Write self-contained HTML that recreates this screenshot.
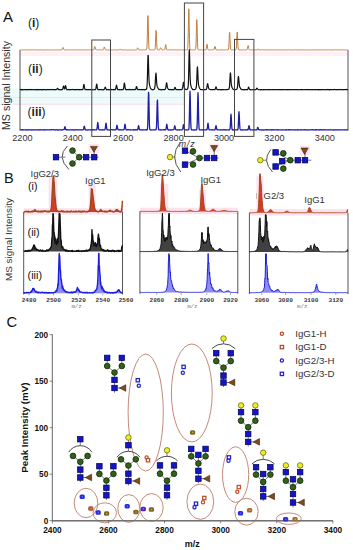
<!DOCTYPE html><html><head><meta charset="utf-8"><style>html,body{margin:0;padding:0;background:#fff;}svg{display:block;}text{font-family:"Liberation Sans",sans-serif;}</style></head><body>
<svg width="353" height="550" viewBox="0 0 353 550">
<rect width="353" height="550" fill="#fff"/>
<rect x="20" y="52" width="328" height="4" fill="#fdf0f6"/>
<rect x="0" y="88" width="185" height="16.5" fill="#eefbfb"/>
<line x1="0" y1="97.6" x2="185" y2="97.6" stroke="#fad8ec" stroke-width="0.8"/>
<line x1="0" y1="104.3" x2="185" y2="104.3" stroke="#fad8ec" stroke-width="0.8"/>
<text x="3" y="21.9" font-size="15" fill="#111" text-anchor="start" font-weight="normal"  >A</text>
<text x="28" y="27.4" font-size="12" fill="#222" text-anchor="start" font-weight="normal"  >(<tspan font-weight="bold">i</tspan>)</text>
<text x="28" y="73" font-size="12" fill="#222" text-anchor="start" font-weight="normal"  >(<tspan font-weight="bold">ii</tspan>)</text>
<text x="27.6" y="115.6" font-size="12" fill="#222" text-anchor="start" font-weight="normal"  >(<tspan font-weight="bold">iii</tspan>)</text>
<text transform="translate(10.4,85.5) rotate(-90)" font-size="10.6" fill="#333" text-anchor="middle">MS signal Intensity</text>
<line x1="20" y1="50" x2="20" y2="130.5" stroke="#555" stroke-width="1"/>
<line x1="348" y1="50" x2="348" y2="130.5" stroke="#555" stroke-width="1"/>
<polyline points="20,49.93 20.25,49.97 20.5,49.94 20.75,50 21,49.97 21.25,49.9 21.5,49.8 21.75,49.98 22,49.92 22.25,49.88 22.5,49.94 22.75,49.97 23,49.89 23.25,49.94 23.5,49.92 23.75,49.95 24,49.99 24.25,49.89 24.5,49.93 24.75,49.89 25,49.89 25.25,49.95 25.5,49.96 25.75,49.95 26,49.97 26.25,49.85 26.5,49.99 26.75,50 27,49.94 27.25,49.86 27.5,49.85 27.75,49.79 28,49.91 28.25,49.86 28.5,49.93 28.75,49.84 29,49.8 29.25,49.99 29.5,49.9 29.75,49.86 30,49.95 30.25,49.99 30.5,49.96 30.75,49.97 31,49.98 31.25,49.96 31.5,49.93 31.75,49.98 32,49.99 32.25,49.88 32.5,49.88 32.75,49.81 33,49.78 33.25,49.73 33.5,49.79 33.75,49.97 34,49.88 34.25,49.8 34.5,49.77 34.75,49.84 35,49.84 35.25,49.99 35.5,49.9 35.75,49.92 36,49.99 36.25,49.87 36.5,49.98 36.75,49.85 37,49.97 37.25,49.93 37.5,49.98 37.75,49.91 38,49.89 38.25,49.99 38.5,49.89 38.75,49.94 39,50 39.25,49.87 39.5,49.98 39.75,49.94 40,49.93 40.25,49.82 40.5,49.89 40.75,49.8 41,49.93 41.25,49.92 41.5,49.98 41.75,49.86 42,49.83 42.25,49.87 42.5,49.95 42.75,49.88 43,49.8 43.25,49.98 43.5,49.94 43.75,49.91 44,49.83 44.25,49.93 44.5,49.97 44.75,49.98 45,49.95 45.25,49.94 45.5,49.95 45.75,49.94 46,49.84 46.25,49.9 46.5,49.96 46.75,49.91 47,49.98 47.25,49.93 47.5,49.91 47.75,49.94 48,49.95 48.25,49.89 48.5,49.91 48.75,49.97 49,49.85 49.25,49.94 49.5,50 49.75,49.88 50,49.96 50.25,49.97 50.5,49.97 50.75,49.98 51,49.96 51.25,49.91 51.5,49.92 51.75,49.83 52,49.95 52.25,49.9 52.5,49.99 52.75,49.98 53,49.99 53.25,49.96 53.5,49.94 53.75,49.91 54,49.91 54.25,49.97 54.5,49.93 54.75,49.92 55,49.97 55.25,49.89 55.5,49.95 55.75,49.96 56,49.97 56.25,49.9 56.5,49.97 56.75,49.94 57,49.88 57.25,49.91 57.5,50 57.75,49.89 58,49.88 58.25,49.88 58.5,49.98 58.75,50 59,49.9 59.25,49.97 59.5,49.93 59.75,50 60,49.89 60.25,49.95 60.5,49.95 60.75,49.87 61,49.93 61.25,49.87 61.5,49.99 61.75,49.87 62,49.82 62.25,49.41 62.5,48.73 62.75,47.84 63,47.38 63.25,47.88 63.5,48.68 63.75,49.38 64,49.84 64.25,49.92 64.5,49.92 64.75,49.93 65,49.94 65.25,49.94 65.5,49.92 65.75,49.95 66,49.83 66.25,49.98 66.5,49.88 66.75,49.79 67,49.89 67.25,49.81 67.5,49.77 67.75,49.94 68,49.89 68.25,49.84 68.5,49.86 68.75,49.91 69,49.99 69.25,49.95 69.5,49.9 69.75,49.82 70,49.91 70.25,49.89 70.5,49.98 70.75,49.88 71,49.96 71.25,49.92 71.5,49.83 71.75,49.79 72,49.76 72.25,49.84 72.5,49.96 72.75,49.95 73,49.94 73.25,49.91 73.5,49.99 73.75,50 74,49.98 74.25,49.89 74.5,49.9 74.75,49.99 75,49.94 75.25,49.94 75.5,49.97 75.75,49.9 76,49.98 76.25,49.93 76.5,49.97 76.75,49.93 77,49.95 77.25,49.95 77.5,49.85 77.75,49.83 78,49.8 78.25,49.98 78.5,49.98 78.75,49.88 79,49.94 79.25,49.9 79.5,49.88 79.75,49.93 80,49.94 80.25,49.96 80.5,49.95 80.75,49.89 81,49.81 81.25,49.78 81.5,49.76 81.75,49.74 82,49.98 82.25,49.92 82.5,49.93 82.75,49.96 83,49.93 83.25,49.9 83.5,49.9 83.75,49.98 84,49.99 84.25,49.97 84.5,49.89 84.75,49.89 85,49.83 85.25,49.91 85.5,49.99 85.75,49.97 86,49.87 86.25,49.83 86.5,49.86 86.75,49.95 87,49.95 87.25,49.99 87.5,49.92 87.75,49.92 88,49.97 88.25,49.98 88.5,49.99 88.75,49.95 89,49.99 89.25,49.94 89.5,49.98 89.75,49.94 90,49.98 90.25,49.96 90.5,49.9 90.75,49.92 91,49.93 91.25,49.93 91.5,49.84 91.75,49.94 92,49.85 92.25,49.83 92.5,49.96 92.75,49.99 93,49.9 93.25,49.97 93.5,49.91 93.75,49.7 94,49.26 94.25,48.37 94.5,47.13 94.75,46.41 95,46.83 95.25,48.03 95.5,48.99 95.75,49.55 96,49.91 96.25,49.84 96.5,49.8 96.75,49.77 97,49.97 97.25,49.89 97.5,49.8 97.75,49.98 98,49.88 98.25,49.98 98.5,49.94 98.75,49.87 99,49.79 99.25,49.85 99.5,49.83 99.75,49.97 100,49.94 100.25,49.96 100.5,49.92 100.75,49.94 101,49.97 101.25,49.86 101.5,49.96 101.75,49.93 102,49.97 102.25,49.92 102.5,49.97 102.75,49.89 103,49.84 103.25,49.82 103.5,49.47 103.75,48.72 104,47.64 104.25,46.97 104.5,47.25 104.75,48.24 105,49.1 105.25,49.67 105.5,49.87 105.75,49.97 106,49.92 106.25,49.95 106.5,49.97 106.75,49.91 107,49.9 107.25,49.93 107.5,49.97 107.75,49.94 108,49.85 108.25,49.99 108.5,49.88 108.75,50 109,49.88 109.25,49.93 109.5,49.97 109.75,49.92 110,49.96 110.25,49.91 110.5,49.86 110.75,49.94 111,49.91 111.25,49.87 111.5,49.98 111.75,49.89 112,49.99 112.25,49.94 112.5,49.99 112.75,49.89 113,49.91 113.25,49.99 113.5,49.91 113.75,49.81 114,49.88 114.25,49.9 114.5,49.85 114.75,49.87 115,49.87 115.25,50 115.5,49.9 115.75,49.92 116,49.96 116.25,49.95 116.5,49.98 116.75,49.89 117,49.85 117.25,49.89 117.5,49.94 117.75,49.9 118,49.84 118.25,49.93 118.5,49.89 118.75,49.8 119,49.83 119.25,49.79 119.5,49.43 119.75,49.15 120,48.94 120.25,49 120.5,49.31 120.75,49.75 121,49.88 121.25,49.88 121.5,49.85 121.75,49.97 122,49.92 122.25,49.84 122.5,49.97 122.75,49.88 123,49.98 123.25,49.99 123.5,49.94 123.75,49.92 124,49.84 124.25,50 124.5,49.94 124.75,49.92 125,49.98 125.25,49.96 125.5,49.88 125.75,49.88 126,49.91 126.25,49.94 126.5,49.88 126.75,49.95 127,49.9 127.25,49.97 127.5,49.97 127.75,49.91 128,49.88 128.25,49.98 128.5,49.88 128.75,49.97 129,49.86 129.25,49.97 129.5,49.9 129.75,49.97 130,49.91 130.25,49.87 130.5,49.98 130.75,49.94 131,49.92 131.25,49.87 131.5,49.99 131.75,49.92 132,49.82 132.25,49.85 132.5,49.9 132.75,49.95 133,49.97 133.25,49.94 133.5,49.97 133.75,49.93 134,49.94 134.25,49.95 134.5,49.99 134.75,49.96 135,49.94 135.25,49.93 135.5,49.91 135.75,49.95 136,49.91 136.25,49.95 136.5,49.89 136.75,49.81 137,49.41 137.25,48.72 137.5,47.97 137.75,47.79 138,48.26 138.25,48.95 138.5,49.45 138.75,49.85 139,49.94 139.25,49.96 139.5,49.91 139.75,49.99 140,49.94 140.25,49.93 140.5,49.94 140.75,49.91 141,49.95 141.25,49.9 141.5,49.99 141.75,49.97 142,49.93 142.25,49.93 142.5,49.97 142.75,49.94 143,49.99 143.25,49.91 143.5,49.95 143.75,49.9 144,49.83 144.25,49.79 144.5,49.95 144.75,49.97 145,49.93 145.25,49.87 145.5,49.9 145.75,49.99 146,49.91 146.25,49.86 146.5,49.76 146.75,49.13 147,46.39 147.25,39.23 147.5,27.51 147.75,16.86 148,15.59 148.25,24.93 148.5,37.27 148.75,45.32 149,48.85 149.25,49.68 149.5,49.78 149.75,49.91 150,49.93 150.25,49.94 150.5,49.93 150.75,49.82 151,49.84 151.25,49.96 151.5,49.88 151.75,49.93 152,49.93 152.25,49.89 152.5,49.92 152.75,49.97 153,49.94 153.25,49.96 153.5,49.97 153.75,49.99 154,49.92 154.25,49.96 154.5,49.83 154.75,49.79 155,49.34 155.25,47.4 155.5,42.79 155.75,35.74 156,30.37 156.25,31.22 156.5,37.2 156.75,43.87 157,47.91 157.25,49.45 157.5,49.8 157.75,49.8 158,49.89 158.25,49.94 158.5,49.98 158.75,49.91 159,49.89 159.25,49.95 159.5,49.85 159.75,49.64 160,49.04 160.25,48.29 160.5,47.7 160.75,47.88 161,48.48 161.25,49.14 161.5,49.56 161.75,49.84 162,49.85 162.25,49.92 162.5,49.94 162.75,49.83 163,49.78 163.25,49.79 163.5,49.78 163.75,49.86 164,49.97 164.25,49.98 164.5,49.88 164.75,49.55 165,48.62 165.25,46.93 165.5,45.13 165.75,44.63 166,45.73 166.25,47.65 166.5,49.02 166.75,49.74 167,49.93 167.25,49.99 167.5,49.98 167.75,49.94 168,49.82 168.25,49.81 168.5,49.97 168.75,49.88 169,49.92 169.25,49.86 169.5,49.84 169.75,49.81 170,49.86 170.25,49.82 170.5,49.76 170.75,49.75 171,49.76 171.25,49.85 171.5,49.79 171.75,49.74 172,49.83 172.25,49.87 172.5,49.98 172.75,49.86 173,49.89 173.25,49.91 173.5,49.81 173.75,49.98 174,49.93 174.25,49.85 174.5,49.9 174.75,49.85 175,49.94 175.25,49.92 175.5,49.85 175.75,49.78 176,49.93 176.25,49.9 176.5,49.98 176.75,50 177,49.88 177.25,49.98 177.5,49.94 177.75,49.9 178,49.97 178.25,49.95 178.5,49.99 178.75,49.88 179,49.98 179.25,49.88 179.5,49.9 179.75,49.92 180,49.82 180.25,49.78 180.5,49.77 180.75,49.73 181,49.72 181.25,49.87 181.5,49.96 181.75,49.94 182,49.9 182.25,49.95 182.5,49.88 182.75,49.81 183,49.77 183.25,49.99 183.5,49.95 183.75,50 184,49.87 184.25,49.96 184.5,49.92 184.75,49.95 185,49.92 185.25,49.92 185.5,49.91 185.75,49.99 186,49.88 186.25,49.98 186.5,49.95 186.75,49.9 187,49.84 187.25,49.85 187.5,49.47 187.75,48.11 188,43.22 188.25,32.33 188.5,17.8 188.75,8.77 189,12.89 189.25,26.5 189.5,39.64 189.75,46.76 190,49.23 190.25,49.88 190.5,49.99 190.75,49.9 191,50 191.25,49.87 191.5,49.91 191.75,49.98 192,49.94 192.25,49.92 192.5,49.88 192.75,49.98 193,49.95 193.25,49.86 193.5,49.81 193.75,49.9 194,49.83 194.25,49.83 194.5,49.95 194.75,50 195,49.87 195.25,49.86 195.5,49.68 195.75,48.59 196,45.01 196.25,36.94 196.5,26.18 196.75,19.64 197,22.65 197.25,32.62 197.5,42.18 197.75,47.55 198,49.46 198.25,49.77 198.5,49.82 198.75,49.97 199,49.94 199.25,49.98 199.5,49.97 199.75,49.94 200,49.94 200.25,49.88 200.5,49.92 200.75,49.96 201,49.89 201.25,49.81 201.5,49.98 201.75,49.88 202,49.79 202.25,49.99 202.5,49.92 202.75,49.94 203,49.92 203.25,49.94 203.5,49.89 203.75,49.97 204,49.95 204.25,49.93 204.5,49.89 204.75,49.83 205,49.94 205.25,49.93 205.5,49.97 205.75,49.84 206,49.62 206.25,48.77 206.5,47.03 206.75,45.13 207,44.2 207.25,45.13 207.5,47.09 207.75,48.74 208,49.57 208.25,49.87 208.5,49.83 208.75,49.92 209,49.98 209.25,49.99 209.5,49.96 209.75,49.95 210,49.95 210.25,49.93 210.5,49.9 210.75,49.99 211,49.99 211.25,49.88 211.5,49.85 211.75,49.81 212,49.99 212.25,49.93 212.5,49.85 212.75,49.78 213,49.83 213.25,49.78 213.5,49.85 213.75,49.9 214,49.63 214.25,49.08 214.5,48.02 214.75,46.92 215,46.34 215.25,47 215.5,48.09 215.75,49.06 216,49.72 216.25,49.79 216.5,49.98 216.75,49.89 217,50 217.25,49.94 217.5,49.97 217.75,49.98 218,49.88 218.25,50 218.5,49.94 218.75,49.94 219,49.92 219.25,49.98 219.5,49.92 219.75,49.99 220,49.88 220.25,49.87 220.5,49.9 220.75,49.82 221,49.8 221.25,49.95 221.5,49.97 221.75,49.85 222,49.78 222.25,49.76 222.5,49.89 222.75,49.97 223,49.93 223.25,49.95 223.5,49.98 223.75,50 224,49.96 224.25,49.93 224.5,49.98 224.75,49.98 225,49.9 225.25,49.86 225.5,49.97 225.75,49.95 226,49.95 226.25,49.89 226.5,49.83 226.75,49.91 227,49.96 227.25,49.88 227.5,49.8 227.75,49.8 228,49.94 228.25,49.86 228.5,49.3 228.75,47.52 229,43.25 229.25,37.21 229.5,32.32 229.75,32.83 230,38.37 230.25,44.41 230.5,47.98 230.75,49.47 231,49.75 231.25,49.83 231.5,49.83 231.75,49.98 232,49.97 232.25,49.91 232.5,49.82 232.75,49.87 233,49.96 233.25,49.98 233.5,49.87 233.75,49.84 234,49.97 234.25,49.91 234.5,49.98 234.75,49.91 235,49.94 235.25,49.87 235.5,49.9 235.75,49.95 236,49.6 236.25,48.4 236.5,45.41 236.75,39.74 237,33.69 237.25,31.95 237.5,35.88 237.75,42.14 238,46.86 238.25,49.06 238.5,49.79 238.75,49.94 239,49.93 239.25,49.87 239.5,49.97 239.75,49.88 240,49.91 240.25,49.97 240.5,49.97 240.75,49.97 241,49.93 241.25,49.97 241.5,49.85 241.75,49.99 242,49.94 242.25,49.97 242.5,49.96 242.75,49.93 243,49.86 243.25,49.8 243.5,49.85 243.75,49.96 244,50 244.25,49.99 244.5,50 244.75,49.94 245,49.98 245.25,49.87 245.5,49.97 245.75,49.97 246,49.98 246.25,49.99 246.5,49.89 246.75,49.78 247,49.7 247.25,49.41 247.5,48.26 247.75,46.8 248,45.58 248.25,45.71 248.5,47.13 248.75,48.57 249,49.46 249.25,49.72 249.5,49.93 249.75,50 250,49.94 250.25,49.86 250.5,49.85 250.75,49.96 251,49.91 251.25,49.87 251.5,49.84 251.75,49.78 252,49.88 252.25,49.99 252.5,49.91 252.75,49.91 253,49.86 253.25,49.95 253.5,49.91 253.75,49.93 254,49.92 254.25,49.89 254.5,49.93 254.75,49.89 255,49.95 255.25,49.84 255.5,49.83 255.75,49.97 256,49.92 256.25,49.94 256.5,49.95 256.75,49.88 257,49.83 257.25,49.69 257.5,49.47 257.75,49.02 258,48.99 258.25,49.06 258.5,49.36 258.75,49.79 259,49.83 259.25,49.93 259.5,49.91 259.75,49.94 260,49.99 260.25,49.89 260.5,49.91 260.75,49.92 261,49.99 261.25,49.89 261.5,49.83 261.75,49.8 262,49.84 262.25,49.98 262.5,49.89 262.75,49.85 263,49.97 263.25,49.84 263.5,49.77 263.75,49.93 264,50 264.25,49.87 264.5,49.93 264.75,49.9 265,49.99 265.25,49.87 265.5,49.88 265.75,50 266,49.92 266.25,49.93 266.5,49.97 266.75,49.97 267,50 267.25,49.99 267.5,49.9 267.75,49.98 268,49.99 268.25,49.87 268.5,49.83 268.75,49.99 269,49.86 269.25,49.82 269.5,49.99 269.75,49.94 270,49.88 270.25,49.8 270.5,49.98 270.75,49.98 271,49.9 271.25,49.95 271.5,49.83 271.75,50 272,49.92 272.25,49.81 272.5,49.84 272.75,49.89 273,49.86 273.25,49.97 273.5,49.99 273.75,49.98 274,49.89 274.25,49.96 274.5,49.93 274.75,49.96 275,49.94 275.25,49.91 275.5,49.91 275.75,49.97 276,49.88 276.25,49.81 276.5,49.78 276.75,49.78 277,49.93 277.25,49.82 277.5,49.96 277.75,49.92 278,49.95 278.25,49.96 278.5,49.98 278.75,49.97 279,49.96 279.25,49.9 279.5,49.95 279.75,49.98 280,49.98 280.25,49.88 280.5,49.79 280.75,49.87 281,49.94 281.25,49.93 281.5,49.92 281.75,49.93 282,49.94 282.25,49.89 282.5,49.94 282.75,49.93 283,49.99 283.25,49.86 283.5,49.95 283.75,49.95 284,49.98 284.25,49.9 284.5,49.96 284.75,49.87 285,49.87 285.25,49.96 285.5,49.97 285.75,49.98 286,49.96 286.25,49.94 286.5,49.99 286.75,49.89 287,49.91 287.25,49.95 287.5,49.89 287.75,49.9 288,49.97 288.25,49.88 288.5,49.81 288.75,49.84 289,49.84 289.25,49.77 289.5,49.87 289.75,49.96 290,49.96 290.25,49.91 290.5,49.86 290.75,49.82 291,49.78 291.25,49.88 291.5,49.88 291.75,49.97 292,49.91 292.25,49.98 292.5,50 292.75,49.89 293,49.99 293.25,49.92 293.5,49.96 293.75,49.95 294,49.92 294.25,49.82 294.5,49.85 294.75,49.77 295,49.96 295.25,49.88 295.5,49.87 295.75,49.89 296,49.94 296.25,49.94 296.5,50 296.75,49.95 297,49.99 297.25,49.89 297.5,49.93 297.75,49.9 298,49.94 298.25,49.95 298.5,49.96 298.75,49.84 299,49.98 299.25,49.85 299.5,49.9 299.75,49.92 300,49.94 300.25,49.87 300.5,49.97 300.75,50 301,49.98 301.25,49.88 301.5,49.99 301.75,49.96 302,49.86 302.25,49.96 302.5,49.84 302.75,49.97 303,49.98 303.25,49.97 303.5,49.9 303.75,49.87 304,49.91 304.25,49.95 304.5,49.96 304.75,49.96 305,49.89 305.25,49.89 305.5,49.92 305.75,49.96 306,49.92 306.25,49.94 306.5,49.94 306.75,49.97 307,49.98 307.25,49.97 307.5,49.94 307.75,49.85 308,49.81 308.25,49.82 308.5,49.97 308.75,49.89 309,49.92 309.25,49.9 309.5,49.85 309.75,49.98 310,49.93 310.25,49.95 310.5,49.85 310.75,49.98 311,49.89 311.25,49.96 311.5,49.94 311.75,49.88 312,49.8 312.25,49.88 312.5,49.89 312.75,49.97 313,49.89 313.25,49.94 313.5,49.94 313.75,49.93 314,49.87 314.25,49.85 314.5,49.84 314.75,49.96 315,49.93 315.25,49.85 315.5,49.83 315.75,49.88 316,49.95 316.25,49.9 316.5,49.99 316.75,49.92 317,50 317.25,49.97 317.5,49.93 317.75,49.97 318,49.99 318.25,50 318.5,49.97 318.75,49.95 319,49.98 319.25,49.89 319.5,49.99 319.75,49.89 320,49.94 320.25,49.94 320.5,49.97 320.75,49.91 321,49.89 321.25,49.99 321.5,49.92 321.75,49.82 322,49.93 322.25,49.82 322.5,49.9 322.75,49.97 323,49.96 323.25,49.98 323.5,49.95 323.75,49.94 324,49.92 324.25,49.96 324.5,49.92 324.75,49.96 325,49.97 325.25,49.88 325.5,49.94 325.75,49.97 326,49.96 326.25,49.88 326.5,49.99 326.75,49.88 327,50 327.25,49.99 327.5,49.95 327.75,49.92 328,49.84 328.25,49.89 328.5,49.8 328.75,49.79 329,49.8 329.25,49.94 329.5,49.9 329.75,49.99 330,49.94 330.25,49.99 330.5,49.99 330.75,49.99 331,49.94 331.25,49.98 331.5,49.97 331.75,49.98 332,49.88 332.25,49.94 332.5,49.92 332.75,49.99 333,49.92 333.25,49.92 333.5,49.87 333.75,49.89 334,49.96 334.25,49.86 334.5,49.79 334.75,49.87 335,49.84 335.25,49.91 335.5,49.85 335.75,49.8 336,49.89 336.25,49.95 336.5,49.87 336.75,49.91 337,49.98 337.25,49.89 337.5,49.87 337.75,49.87 338,49.95 338.25,49.92 338.5,49.92 338.75,49.96 339,49.99 339.25,49.94 339.5,49.91 339.75,49.97 340,50 340.25,50 340.5,49.92 340.75,49.87 341,49.94 341.25,49.88 341.5,49.86 341.75,49.81 342,50 342.25,49.94 342.5,49.89 342.75,49.99 343,49.98 343.25,49.88 343.5,49.98 343.75,49.91 344,49.96 344.25,49.98 344.5,49.95 344.75,49.97 345,49.95 345.25,49.93 345.5,49.89 345.75,49.93 346,49.91 346.25,49.96 346.5,49.89 346.75,50 347,49.99 347.25,49.97 347.5,49.99 347.75,49.87 348,49.83" fill="none" stroke="#c07e3e" stroke-width="1.0" stroke-linejoin="round" />
<polyline points="20,89.75 20.25,89.67 20.5,89.61 20.75,89.51 21,89.53 21.25,89.47 21.5,89.79 21.75,89.79 22,89.63 22.25,89.64 22.5,89.54 22.75,89.8 23,89.79 23.25,89.69 23.5,89.75 23.75,89.8 24,89.61 24.25,89.57 24.5,89.57 24.75,89.77 25,89.68 25.25,89.74 25.5,89.72 25.75,89.7 26,89.79 26.25,89.64 26.5,89.51 26.75,89.77 27,89.67 27.25,89.61 27.5,89.72 27.75,89.6 28,89.77 28.25,89.6 28.5,89.66 28.75,89.65 29,89.77 29.25,89.64 29.5,89.63 29.75,89.51 30,89.47 30.25,89.68 30.5,89.78 30.75,89.68 31,89.58 31.25,89.5 31.5,89.54 31.75,89.68 32,89.53 32.25,89.71 32.5,89.68 32.75,89.65 33,89.76 33.25,89.78 33.5,89.74 33.75,89.75 34,89.75 34.25,89.66 34.5,89.7 34.75,89.67 35,89.78 35.25,89.65 35.5,89.7 35.75,89.75 36,89.78 36.25,89.78 36.5,89.61 36.75,89.51 37,89.5 37.25,89.8 37.5,89.68 37.75,89.77 38,89.61 38.25,89.51 38.5,89.69 38.75,89.79 39,89.78 39.25,89.68 39.5,89.71 39.75,89.75 40,89.65 40.25,89.57 40.5,89.75 40.75,89.65 41,89.73 41.25,89.69 41.5,89.78 41.75,89.64 42,89.77 42.25,89.61 42.5,89.67 42.75,89.8 43,89.73 43.25,89.63 43.5,89.53 43.75,89.5 44,89.69 44.25,89.67 44.5,89.75 44.75,89.59 45,89.73 45.25,89.75 45.5,89.79 45.75,89.69 46,89.77 46.25,89.69 46.5,89.75 46.75,89.8 47,89.62 47.25,89.74 47.5,89.65 47.75,89.71 48,89.72 48.25,89.7 48.5,89.77 48.75,89.6 49,89.63 49.25,89.58 49.5,89.77 49.75,89.76 50,89.63 50.25,89.76 50.5,89.74 50.75,89.75 51,89.63 51.25,89.56 51.5,89.46 51.75,89.62 52,89.7 52.25,89.65 52.5,89.72 52.75,89.77 53,89.74 53.25,89.62 53.5,89.64 53.75,89.7 54,89.55 54.25,89.6 54.5,89.68 54.75,89.79 55,89.64 55.25,89.61 55.5,89.8 55.75,89.65 56,89.76 56.25,89.65 56.5,89.53 56.75,89.36 57,89 57.25,88.48 57.5,88.26 57.75,88.26 58,88.78 58.25,89.26 58.5,89.5 58.75,89.61 59,89.79 59.25,89.62 59.5,89.63 59.75,89.67 60,89.68 60.25,89.75 60.5,89.67 60.75,89.79 61,89.78 61.25,89.69 61.5,89.67 61.75,89.6 62,89.73 62.25,89.63 62.5,89.35 62.75,88.71 63,87.84 63.25,86.62 63.5,86.04 63.75,86.57 64,87.57 64.25,88.46 64.5,88.93 64.75,88.58 65,87.59 65.25,86.26 65.5,85.56 65.75,86.24 66,87.48 66.25,88.62 66.5,89.26 66.75,89.71 67,89.68 67.25,89.7 67.5,89.68 67.75,89.76 68,89.72 68.25,89.65 68.5,89.65 68.75,89.62 69,89.72 69.25,89.61 69.5,89.66 69.75,89.78 70,89.68 70.25,89.8 70.5,89.75 70.75,89.65 71,89.7 71.25,89.63 71.5,89.52 71.75,89.48 72,89.54 72.25,89.52 72.5,89.51 72.75,89.44 73,89.57 73.25,89.61 73.5,89.73 73.75,89.8 74,89.69 74.25,89.7 74.5,89.66 74.75,89.68 75,89.64 75.25,89.67 75.5,89.57 75.75,89.79 76,89.74 76.25,89.58 76.5,89.71 76.75,89.59 77,89.69 77.25,89.67 77.5,89.75 77.75,89.64 78,89.58 78.25,89.7 78.5,89.61 78.75,89.63 79,89.75 79.25,89.69 79.5,89.77 79.75,89.79 80,89.61 80.25,89.5 80.5,89.58 80.75,89.73 81,89.6 81.25,89.72 81.5,89.6 81.75,89.7 82,89.79 82.25,89.64 82.5,89.72 82.75,89.46 83,89.04 83.25,87.89 83.5,86.05 83.75,84.54 84,84.43 84.25,85.8 84.5,87.39 84.75,88.61 85,89.32 85.25,89.71 85.5,89.58 85.75,89.67 86,89.76 86.25,89.75 86.5,89.64 86.75,89.7 87,89.77 87.25,89.77 87.5,89.63 87.75,89.75 88,89.75 88.25,89.69 88.5,89.76 88.75,89.64 89,89.7 89.25,89.75 89.5,89.68 89.75,89.7 90,89.63 90.25,89.8 90.5,89.71 90.75,89.61 91,89.72 91.25,89.77 91.5,89.78 91.75,89.8 92,89.74 92.25,89.72 92.5,89.66 92.75,89.73 93,89.74 93.25,89.76 93.5,89.79 93.75,89.73 94,89.68 94.25,89.74 94.5,89.75 94.75,89.71 95,89.75 95.25,89.7 95.5,89.49 95.75,89.01 96,88 96.25,86.31 96.5,84.52 96.75,84.09 97,85.21 97.25,87.1 97.5,88.65 97.75,89.4 98,89.61 98.25,89.67 98.5,89.74 98.75,89.6 99,89.73 99.25,89.8 99.5,89.66 99.75,89.76 100,89.7 100.25,89.73 100.5,89.67 100.75,89.74 101,89.69 101.25,89.76 101.5,89.74 101.75,89.72 102,89.59 102.25,89.78 102.5,89.78 102.75,89.79 103,89.8 103.25,89.73 103.5,89.62 103.75,89.71 104,89.64 104.25,89.4 104.5,88.84 104.75,88.2 105,87.32 105.25,87.07 105.5,87.61 105.75,88.54 106,89.06 106.25,89.31 106.5,89.49 106.75,89.78 107,89.67 107.25,89.76 107.5,89.76 107.75,89.6 108,89.59 108.25,89.78 108.5,89.7 108.75,89.69 109,89.73 109.25,89.8 109.5,89.77 109.75,89.64 110,89.76 110.25,89.59 110.5,89.52 110.75,89.58 111,89.5 111.25,89.44 111.5,89.62 111.75,89.79 112,89.66 112.25,89.74 112.5,89.74 112.75,89.69 113,89.77 113.25,89.78 113.5,89.64 113.75,89.75 114,89.65 114.25,89.79 114.5,89.65 114.75,89.76 115,89.76 115.25,89.55 115.5,89.3 115.75,88.54 116,87.29 116.25,85.85 116.5,85.11 116.75,85.81 117,87.29 117.25,88.53 117.5,89.23 117.75,89.54 118,89.78 118.25,89.67 118.5,89.79 118.75,89.73 119,89.67 119.25,89.79 119.5,89.63 119.75,89.55 120,89.69 120.25,89.63 120.5,89.75 120.75,89.78 121,89.74 121.25,89.72 121.5,89.66 121.75,89.79 122,89.63 122.25,89.56 122.5,89.76 122.75,89.7 123,89.69 123.25,89.35 123.5,88.79 123.75,87.26 124,84.96 124.25,83.25 124.5,83.03 124.75,84.66 125,86.83 125.25,88.5 125.5,89.41 125.75,89.64 126,89.69 126.25,89.6 126.5,89.79 126.75,89.73 127,89.64 127.25,89.73 127.5,89.62 127.75,89.68 128,89.69 128.25,89.71 128.5,89.65 128.75,89.75 129,89.67 129.25,89.53 129.5,89.52 129.75,89.45 130,89.74 130.25,89.76 130.5,89.72 130.75,89.65 131,89.7 131.25,89.71 131.5,89.7 131.75,89.77 132,89.79 132.25,89.64 132.5,89.57 132.75,89.52 133,89.58 133.25,89.63 133.5,89.75 133.75,89.69 134,89.64 134.25,89.61 134.5,89.55 134.75,89.56 135,89.54 135.25,89.58 135.5,89.26 135.75,89.03 136,88.08 136.25,87 136.5,86.54 136.75,86.98 137,88.04 137.25,88.8 137.5,89.52 137.75,89.68 138,89.74 138.25,89.76 138.5,89.68 138.75,89.74 139,89.64 139.25,89.51 139.5,89.52 139.75,89.46 140,89.56 140.25,89.76 140.5,89.77 140.75,89.71 141,89.73 141.25,89.67 141.5,89.78 141.75,89.7 142,89.72 142.25,89.65 142.5,89.78 142.75,89.64 143,89.64 143.25,89.73 143.5,89.57 143.75,89.74 144,89.59 144.25,89.78 144.5,89.75 144.75,89.58 145,89.67 145.25,89.62 145.5,89.63 145.75,89.63 146,89.34 146.25,89.02 146.5,88.93 146.75,88.21 147,86.3 147.25,82.17 147.5,74.01 147.75,63.23 148,55.43 148.25,55.61 148.5,63.41 148.75,73.03 149,79.76 149.25,83.06 149.5,84.59 149.75,85.93 150,86.67 150.25,87.49 150.5,88.14 150.75,88.7 151,88.93 151.25,89.2 151.5,89.29 151.75,89.53 152,89.65 152.25,89.68 152.5,89.58 152.75,89.77 153,89.57 153.25,89.63 153.5,89.61 153.75,89.57 154,89.37 154.25,89.18 154.5,88.7 154.75,87.78 155,86.2 155.25,82.89 155.5,78.04 155.75,74.12 156,73.2 156.25,76.05 156.5,80.2 156.75,83.76 157,85.6 157.25,86.67 157.5,87.19 157.75,87.65 158,88.15 158.25,88.51 158.5,88.93 158.75,89.29 159,89.39 159.25,89.39 159.5,89.64 159.75,89.53 160,89.52 160.25,89.55 160.5,89.6 160.75,89.52 161,89.6 161.25,89.61 161.5,89.78 161.75,89.79 162,89.63 162.25,89.64 162.5,89.6 162.75,89.65 163,89.73 163.25,89.63 163.5,89.63 163.75,89.51 164,89.52 164.25,89.52 164.5,89.67 164.75,89.5 165,89.5 165.25,89.23 165.5,88.71 165.75,87.82 166,86.28 166.25,84.43 166.5,82.91 166.75,82.86 167,84.55 167.25,86.44 167.5,87.61 167.75,88.25 168,88.61 168.25,88.94 168.5,89.37 168.75,89.35 169,89.48 169.25,89.69 169.5,89.71 169.75,89.7 170,89.67 170.25,89.53 170.5,89.67 170.75,89.74 171,89.68 171.25,89.71 171.5,89.76 171.75,89.64 172,89.79 172.25,89.77 172.5,89.64 172.75,89.59 173,89.78 173.25,89.71 173.5,89.68 173.75,89.7 174,89.6 174.25,89.21 174.5,88.46 174.75,87.6 175,87.35 175.25,87.55 175.5,88.35 175.75,89.19 176,89.5 176.25,89.72 176.5,89.63 176.75,89.7 177,89.67 177.25,89.75 177.5,89.76 177.75,89.67 178,89.76 178.25,89.71 178.5,89.66 178.75,89.59 179,89.7 179.25,89.68 179.5,89.77 179.75,89.71 180,89.69 180.25,89.63 180.5,89.7 180.75,89.59 181,89.52 181.25,89.54 181.5,89.61 181.75,89.52 182,89.4 182.25,89.18 182.5,88.49 182.75,87.21 183,85.18 183.25,83.28 183.5,82.26 183.75,83.1 184,85.01 184.25,86.93 184.5,88.06 184.75,88.54 185,88.89 185.25,89.06 185.5,89.36 185.75,89.42 186,89.57 186.25,89.69 186.5,89.57 186.75,89.56 187,89.46 187.25,89.19 187.5,88.99 187.75,88.63 188,87.79 188.25,85.55 188.5,79.89 188.75,69.57 189,57.25 189.25,49.67 189.5,52.21 189.75,62.4 190,73.24 190.25,80.12 190.5,83.56 190.75,85.07 191,86.01 191.25,86.89 191.5,87.68 191.75,88.15 192,88.55 192.25,88.96 192.5,89.33 192.75,89.55 193,89.58 193.25,89.73 193.5,89.6 193.75,89.77 194,89.69 194.25,89.66 194.5,89.73 194.75,89.63 195,89.41 195.25,89.23 195.5,89.08 195.75,88.75 196,88.26 196.25,87.26 196.5,85.07 196.75,80.38 197,73.6 197.25,68.1 197.5,66.88 197.75,71.05 198,77.18 198.25,81.76 198.5,84.41 198.75,85.67 199,86.66 199.25,87.32 199.5,87.83 199.75,88.4 200,88.93 200.25,89.17 200.5,89.49 200.75,89.6 201,89.6 201.25,89.74 201.5,89.62 201.75,89.77 202,89.71 202.25,89.65 202.5,89.76 202.75,89.66 203,89.75 203.25,89.78 203.5,89.68 203.75,89.76 204,89.6 204.25,89.71 204.5,89.72 204.75,89.59 205,89.57 205.25,89.66 205.5,89.69 205.75,89.62 206,89.37 206.25,89.34 206.5,88.93 206.75,88.25 207,86.72 207.25,85.17 207.5,83.73 207.75,83.69 208,85.07 208.25,86.73 208.5,87.77 208.75,88.36 209,88.85 209.25,89.19 209.5,89.3 209.75,89.39 210,89.54 210.25,89.64 210.5,89.65 210.75,89.53 211,89.72 211.25,89.61 211.5,89.63 211.75,89.53 212,89.75 212.25,89.69 212.5,89.6 212.75,89.69 213,89.71 213.25,89.62 213.5,89.56 213.75,89.49 214,89.48 214.25,89.65 214.5,89.54 214.75,89.7 215,89.51 215.25,88.98 215.5,88.18 215.75,87.35 216,86.9 216.25,87.21 216.5,88.13 216.75,88.8 217,89.53 217.25,89.62 217.5,89.54 217.75,89.53 218,89.59 218.25,89.66 218.5,89.79 218.75,89.71 219,89.69 219.25,89.69 219.5,89.75 219.75,89.72 220,89.6 220.25,89.72 220.5,89.7 220.75,89.79 221,89.79 221.25,89.61 221.5,89.51 221.75,89.8 222,89.69 222.25,89.65 222.5,89.79 222.75,89.65 223,89.7 223.25,89.68 223.5,89.77 223.75,89.62 224,89.74 224.25,89.75 224.5,89.77 224.75,89.74 225,89.65 225.25,89.68 225.5,89.79 225.75,89.73 226,89.7 226.25,89.73 226.5,89.66 226.75,89.68 227,89.62 227.25,89.75 227.5,89.57 227.75,89.53 228,89.39 228.25,89.4 228.5,89.34 228.75,89.12 229,88.79 229.25,87.82 229.5,86.13 229.75,82.63 230,77.78 230.25,73.51 230.5,72.87 230.75,75.81 231,80.04 231.25,83.5 231.5,85.52 231.75,86.54 232,87.27 232.25,87.69 232.5,88.16 232.75,88.79 233,89.15 233.25,89.38 233.5,89.38 233.75,89.47 234,89.66 234.25,89.65 234.5,89.71 234.75,89.65 235,89.67 235.25,89.75 235.5,89.77 235.75,89.71 236,89.51 236.25,89.44 236.5,89.32 236.75,89.18 237,88.69 237.25,88.23 237.5,86.8 237.75,84.07 238,80.23 238.25,76.93 238.5,76.45 238.75,78.52 239,81.85 239.25,84.44 239.5,86.22 239.75,86.95 240,87.6 240.25,87.93 240.5,88.25 240.75,88.86 241,89.21 241.25,89.36 241.5,89.53 241.75,89.56 242,89.73 242.25,89.61 242.5,89.56 242.75,89.64 243,89.54 243.25,89.59 243.5,89.76 243.75,89.62 244,89.78 244.25,89.6 244.5,89.79 244.75,89.61 245,89.65 245.25,89.75 245.5,89.66 245.75,89.71 246,89.57 246.25,89.75 246.5,89.64 246.75,89.68 247,89.63 247.25,89.77 247.5,89.62 247.75,89.28 248,88.64 248.25,87.83 248.5,87.1 248.75,87.16 249,87.99 249.25,88.69 249.5,89.39 249.75,89.62 250,89.68 250.25,89.73 250.5,89.79 250.75,89.62 251,89.8 251.25,89.77 251.5,89.72 251.75,89.77 252,89.72 252.25,89.7 252.5,89.73 252.75,89.76 253,89.63 253.25,89.79 253.5,89.77 253.75,89.78 254,89.77 254.25,89.66 254.5,89.71 254.75,89.74 255,89.58 255.25,89.62 255.5,89.63 255.75,89.47 256,89.41 256.25,89.23 256.5,88.89 256.75,88.28 257,88.17 257.25,88.4 257.5,88.83 257.75,89.16 258,89.34 258.25,89.38 258.5,89.64 258.75,89.76 259,89.65 259.25,89.72 259.5,89.73 259.75,89.75 260,89.76 260.25,89.78 260.5,89.64 260.75,89.79 261,89.77 261.25,89.65 261.5,89.74 261.75,89.71 262,89.74 262.25,89.79 262.5,89.68 262.75,89.71 263,89.57 263.25,89.5 263.5,89.55 263.75,89.51 264,89.79 264.25,89.71 264.5,89.66 264.75,89.77 265,89.69 265.25,89.77 265.5,89.68 265.75,89.68 266,89.77 266.25,89.73 266.5,89.74 266.75,89.67 267,89.73 267.25,89.78 267.5,89.63 267.75,89.77 268,89.64 268.25,89.52 268.5,89.73 268.75,89.78 269,89.59 269.25,89.49 269.5,89.75 269.75,89.77 270,89.67 270.25,89.69 270.5,89.77 270.75,89.63 271,89.79 271.25,89.76 271.5,89.73 271.75,89.73 272,89.66 272.25,89.73 272.5,89.58 272.75,89.74 273,89.6 273.25,89.51 273.5,89.61 273.75,89.75 274,89.68 274.25,89.64 274.5,89.73 274.75,89.79 275,89.66 275.25,89.74 275.5,89.74 275.75,89.74 276,89.68 276.25,89.53 276.5,89.74 276.75,89.77 277,89.66 277.25,89.73 277.5,89.71 277.75,89.63 278,89.6 278.25,89.74 278.5,89.72 278.75,89.59 279,89.61 279.25,89.52 279.5,89.6 279.75,89.73 280,89.78 280.25,89.68 280.5,89.58 280.75,89.67 281,89.79 281.25,89.78 281.5,89.79 281.75,89.63 282,89.76 282.25,89.68 282.5,89.73 282.75,89.77 283,89.66 283.25,89.69 283.5,89.67 283.75,89.75 284,89.66 284.25,89.58 284.5,89.75 284.75,89.67 285,89.63 285.25,89.64 285.5,89.74 285.75,89.74 286,89.78 286.25,89.73 286.5,89.58 286.75,89.78 287,89.7 287.25,89.79 287.5,89.64 287.75,89.75 288,89.69 288.25,89.7 288.5,89.68 288.75,89.68 289,89.78 289.25,89.73 289.5,89.67 289.75,89.78 290,89.75 290.25,89.7 290.5,89.58 290.75,89.49 291,89.7 291.25,89.71 291.5,89.71 291.75,89.68 292,89.65 292.25,89.58 292.5,89.75 292.75,89.66 293,89.56 293.25,89.65 293.5,89.73 293.75,89.73 294,89.65 294.25,89.52 294.5,89.66 294.75,89.63 295,89.54 295.25,89.65 295.5,89.72 295.75,89.57 296,89.68 296.25,89.72 296.5,89.74 296.75,89.68 297,89.74 297.25,89.6 297.5,89.73 297.75,89.74 298,89.79 298.25,89.72 298.5,89.77 298.75,89.63 299,89.73 299.25,89.73 299.5,89.76 299.75,89.66 300,89.76 300.25,89.72 300.5,89.59 300.75,89.74 301,89.64 301.25,89.69 301.5,89.72 301.75,89.57 302,89.76 302.25,89.79 302.5,89.78 302.75,89.64 303,89.68 303.25,89.73 303.5,89.76 303.75,89.73 304,89.75 304.25,89.76 304.5,89.72 304.75,89.71 305,89.71 305.25,89.63 305.5,89.77 305.75,89.72 306,89.69 306.25,89.67 306.5,89.73 306.75,89.63 307,89.53 307.25,89.62 307.5,89.74 307.75,89.69 308,89.73 308.25,89.76 308.5,89.66 308.75,89.75 309,89.67 309.25,89.67 309.5,89.54 309.75,89.73 310,89.61 310.25,89.79 310.5,89.73 310.75,89.79 311,89.75 311.25,89.77 311.5,89.63 311.75,89.53 312,89.73 312.25,89.78 312.5,89.66 312.75,89.74 313,89.73 313.25,89.72 313.5,89.66 313.75,89.74 314,89.78 314.25,89.68 314.5,89.64 314.75,89.7 315,89.68 315.25,89.79 315.5,89.66 315.75,89.65 316,89.74 316.25,89.63 316.5,89.63 316.75,89.76 317,89.68 317.25,89.73 317.5,89.67 317.75,89.68 318,89.61 318.25,89.78 318.5,89.79 318.75,89.59 319,89.79 319.25,89.7 319.5,89.6 319.75,89.74 320,89.78 320.25,89.78 320.5,89.63 320.75,89.58 321,89.74 321.25,89.62 321.5,89.8 321.75,89.67 322,89.66 322.25,89.76 322.5,89.72 322.75,89.74 323,89.67 323.25,89.53 323.5,89.7 323.75,89.77 324,89.72 324.25,89.75 324.5,89.8 324.75,89.72 325,89.75 325.25,89.78 325.5,89.77 325.75,89.68 326,89.75 326.25,89.7 326.5,89.69 326.75,89.64 327,89.76 327.25,89.68 327.5,89.55 327.75,89.46 328,89.7 328.25,89.58 328.5,89.65 328.75,89.69 329,89.75 329.25,89.78 329.5,89.78 329.75,89.62 330,89.79 330.25,89.69 330.5,89.68 330.75,89.6 331,89.63 331.25,89.61 331.5,89.55 331.75,89.6 332,89.73 332.25,89.69 332.5,89.54 332.75,89.76 333,89.65 333.25,89.65 333.5,89.55 333.75,89.6 334,89.51 334.25,89.52 334.5,89.43 334.75,89.55 335,89.57 335.25,89.75 335.5,89.73 335.75,89.62 336,89.72 336.25,89.6 336.5,89.6 336.75,89.79 337,89.76 337.25,89.76 337.5,89.74 337.75,89.57 338,89.65 338.25,89.78 338.5,89.71 338.75,89.6 339,89.61 339.25,89.58 339.5,89.52 339.75,89.47 340,89.48 340.25,89.64 340.5,89.64 340.75,89.64 341,89.55 341.25,89.57 341.5,89.68 341.75,89.75 342,89.7 342.25,89.64 342.5,89.78 342.75,89.71 343,89.73 343.25,89.77 343.5,89.68 343.75,89.78 344,89.65 344.25,89.75 344.5,89.72 344.75,89.61 345,89.6 345.25,89.48 345.5,89.47 345.75,89.57 346,89.5 346.25,89.43 346.5,89.6 346.75,89.74 347,89.63 347.25,89.77 347.5,89.61 347.75,89.75 348,89.63" fill="none" stroke="#111" stroke-width="1.2" stroke-linejoin="round" />
<polyline points="20,129.93 20.25,129.82 20.5,129.95 20.75,129.8 21,129.89 21.25,129.88 21.5,129.75 21.75,129.85 22,129.73 22.25,129.81 22.5,129.71 22.75,129.66 23,129.77 23.25,129.99 23.5,129.84 23.75,129.8 24,129.93 24.25,129.86 24.5,129.89 24.75,129.97 25,129.79 25.25,129.94 25.5,129.89 25.75,129.98 26,129.85 26.25,129.75 26.5,129.78 26.75,129.99 27,129.87 27.25,129.95 27.5,129.97 27.75,129.97 28,130 28.25,129.82 28.5,129.72 28.75,129.71 29,129.9 29.25,129.91 29.5,129.87 29.75,129.96 30,129.96 30.25,129.89 30.5,129.95 30.75,129.89 31,129.96 31.25,129.99 31.5,129.98 31.75,129.84 32,129.81 32.25,129.97 32.5,129.79 32.75,129.97 33,129.95 33.25,129.93 33.5,129.9 33.75,129.94 34,129.78 34.25,129.93 34.5,129.93 34.75,129.93 35,129.81 35.25,129.96 35.5,129.9 35.75,129.9 36,129.91 36.25,129.96 36.5,129.84 36.75,129.73 37,129.85 37.25,129.84 37.5,129.92 37.75,129.97 38,129.92 38.25,129.76 38.5,129.72 38.75,129.92 39,130 39.25,129.93 39.5,129.85 39.75,129.89 40,129.8 40.25,129.73 40.5,129.66 40.75,129.9 41,129.79 41.25,129.78 41.5,129.82 41.75,129.96 42,129.86 42.25,129.89 42.5,129.96 42.75,129.87 43,129.8 43.25,129.73 43.5,129.93 43.75,129.99 44,129.95 44.25,129.88 44.5,129.74 44.75,129.99 45,129.88 45.25,129.82 45.5,129.79 45.75,129.87 46,129.95 46.25,129.88 46.5,129.73 46.75,129.8 47,129.83 47.25,129.92 47.5,129.86 47.75,129.84 48,129.9 48.25,129.89 48.5,129.86 48.75,129.9 49,129.9 49.25,129.83 49.5,129.75 49.75,129.73 50,129.88 50.25,129.97 50.5,129.86 50.75,129.97 51,129.81 51.25,129.71 51.5,129.71 51.75,129.69 52,129.75 52.25,129.67 52.5,129.6 52.75,129.62 53,129.61 53.25,129.71 53.5,129.64 53.75,129.93 54,129.99 54.25,129.86 54.5,129.82 54.75,129.83 55,129.84 55.25,129.76 55.5,129.99 55.75,129.81 56,129.9 56.25,129.95 56.5,129.87 56.75,129.76 57,129.79 57.25,129.78 57.5,130 57.75,129.87 58,129.73 58.25,129.98 58.5,129.98 58.75,129.87 59,129.94 59.25,129.77 59.5,129.88 59.75,129.88 60,129.78 60.25,129.79 60.5,129.97 60.75,129.96 61,129.85 61.25,129.98 61.5,129.98 61.75,129.87 62,129.99 62.25,129.89 62.5,129.94 62.75,129.77 63,129.72 63.25,129.71 63.5,129.69 63.75,129.65 64,129.63 64.25,129.02 64.5,128 64.75,126.88 65,126.67 65.25,127.53 65.5,128.62 65.75,129.52 66,129.77 66.25,129.92 66.5,129.79 66.75,129.68 67,129.63 67.25,129.83 67.5,129.99 67.75,129.89 68,129.81 68.25,129.77 68.5,129.91 68.75,129.89 69,129.8 69.25,129.89 69.5,129.87 69.75,129.8 70,129.95 70.25,129.96 70.5,129.81 70.75,129.78 71,129.77 71.25,129.87 71.5,129.95 71.75,129.91 72,129.98 72.25,129.89 72.5,129.74 72.75,129.89 73,129.97 73.25,129.8 73.5,129.79 73.75,129.99 74,129.85 74.25,129.77 74.5,129.98 74.75,129.86 75,129.94 75.25,129.91 75.5,129.75 75.75,129.79 76,129.93 76.25,129.94 76.5,129.89 76.75,129.74 77,129.97 77.25,129.92 77.5,129.94 77.75,129.79 78,129.9 78.25,129.79 78.5,129.74 78.75,129.96 79,129.92 79.25,129.87 79.5,129.82 79.75,129.93 80,129.86 80.25,129.88 80.5,129.78 80.75,129.97 81,129.96 81.25,129.96 81.5,129.99 81.75,129.83 82,129.93 82.25,129.79 82.5,129.87 82.75,129.91 83,129.91 83.25,129.68 83.5,129.28 83.75,128.23 84,126.82 84.25,126.26 84.5,126.52 84.75,127.8 85,129.06 85.25,129.68 85.5,129.89 85.75,129.97 86,129.99 86.25,129.88 86.5,129.91 86.75,129.97 87,129.88 87.25,129.84 87.5,129.99 87.75,129.99 88,129.97 88.25,129.88 88.5,129.76 88.75,129.88 89,129.88 89.25,129.93 89.5,129.95 89.75,129.89 90,129.96 90.25,129.96 90.5,129.98 90.75,129.81 91,129.81 91.25,129.73 91.5,129.66 91.75,129.89 92,129.91 92.25,129.77 92.5,129.73 92.75,129.98 93,129.86 93.25,129.89 93.5,129.76 93.75,129.76 94,129.68 94.25,129.88 94.5,129.96 94.75,129.82 95,129.97 95.25,129.93 95.5,129.89 95.75,129.92 96,129.89 96.25,129.74 96.5,129.9 96.75,129.48 97,128.73 97.25,126.86 97.5,124.12 97.75,122.49 98,123.46 98.25,125.88 98.5,128.18 98.75,129.37 99,129.72 99.25,129.81 99.5,129.99 99.75,129.8 100,129.9 100.25,129.92 100.5,129.76 100.75,129.79 101,129.92 101.25,129.96 101.5,129.8 101.75,129.93 102,129.84 102.25,129.72 102.5,129.99 102.75,129.91 103,129.76 103.25,129.97 103.5,129.89 103.75,129.79 104,129.84 104.25,129.93 104.5,129.82 104.75,129.92 105,129.47 105.25,128.55 105.5,126.62 105.75,124.26 106,123.21 106.25,124.16 106.5,126.64 106.75,128.57 107,129.39 107.25,129.87 107.5,129.91 107.75,129.83 108,129.94 108.25,129.9 108.5,129.89 108.75,129.92 109,129.97 109.25,129.95 109.5,129.99 109.75,129.83 110,129.99 110.25,129.86 110.5,129.92 110.75,129.85 111,129.75 111.25,129.72 111.5,129.65 111.75,129.67 112,129.73 112.25,129.76 112.5,129.96 112.75,129.89 113,129.93 113.25,129.83 113.5,129.84 113.75,129.71 114,129.73 114.25,129.64 114.5,129.88 114.75,129.95 115,129.84 115.25,129.9 115.5,129.88 115.75,129.85 116,129.65 116.25,129.03 116.5,127.68 116.75,125.92 117,125.26 117.25,126.04 117.5,127.59 117.75,128.8 118,129.64 118.25,129.76 118.5,129.8 118.75,129.83 119,129.94 119.25,129.98 119.5,129.81 119.75,129.74 120,129.67 120.25,129.9 120.5,129.84 120.75,129.77 121,129.7 121.25,129.95 121.5,129.88 121.75,129.86 122,130 122.25,129.9 122.5,129.85 122.75,129.9 123,129.8 123.25,129.86 123.5,129.81 123.75,129.85 124,129.43 124.25,128.68 124.5,127.19 124.75,125.04 125,124.27 125.25,125.19 125.5,126.97 125.75,128.66 126,129.55 126.25,129.86 126.5,129.83 126.75,129.9 127,129.74 127.25,129.75 127.5,129.69 127.75,129.77 128,129.68 128.25,129.62 128.5,129.69 128.75,129.71 129,129.86 129.25,129.93 129.5,129.94 129.75,129.9 130,129.86 130.25,129.76 130.5,129.9 130.75,129.99 131,129.81 131.25,129.97 131.5,129.93 131.75,129.9 132,129.88 132.25,129.94 132.5,129.81 132.75,129.83 133,129.81 133.25,129.76 133.5,130 133.75,129.99 134,129.99 134.25,129.86 134.5,129.8 134.75,129.75 135,129.81 135.25,129.73 135.5,129.77 135.75,129.78 136,129.98 136.25,129.83 136.5,129.75 136.75,129.79 137,129.72 137.25,129.94 137.5,129.86 137.75,129.39 138,128.37 138.25,126.84 138.5,125.75 138.75,125.81 139,127.24 139.25,128.59 139.5,129.5 139.75,129.84 140,129.89 140.25,129.88 140.5,129.97 140.75,129.92 141,129.78 141.25,129.77 141.5,129.96 141.75,129.86 142,129.99 142.25,129.8 142.5,129.88 142.75,129.98 143,130 143.25,129.92 143.5,129.85 143.75,129.86 144,129.86 144.25,129.92 144.5,129.81 144.75,129.79 145,129.97 145.25,129.9 145.5,129.97 145.75,129.79 146,129.7 146.25,129.73 146.5,129.9 146.75,129.98 147,129.89 147.25,129.74 147.5,128.73 147.75,124.98 148,116.02 148.25,102.48 148.5,92.33 148.75,93.6 149,105.27 149.25,118.06 149.5,126.07 149.75,129.05 150,129.75 150.25,129.73 150.5,129.87 150.75,129.99 151,129.88 151.25,129.9 151.5,129.95 151.75,130 152,129.86 152.25,129.92 152.5,129.86 152.75,129.93 153,129.91 153.25,129.94 153.5,129.81 153.75,129.81 154,129.99 154.25,129.84 154.5,129.91 154.75,129.87 155,129.72 155.25,129.83 155.5,129.88 155.75,129.83 156,129.65 156.25,129.07 156.5,126.71 156.75,120.71 157,110.31 157.25,101.18 157.5,100.03 157.75,108.23 158,118.81 158.25,125.88 158.5,128.75 158.75,129.75 159,129.97 159.25,129.95 159.5,129.83 159.75,129.86 160,129.97 160.25,129.99 160.5,129.9 160.75,129.76 161,129.7 161.25,129.95 161.5,129.89 161.75,129.89 162,129.96 162.25,129.88 162.5,129.93 162.75,129.84 163,129.85 163.25,129.91 163.5,129.79 163.75,129.75 164,129.8 164.25,129.71 164.5,129.65 164.75,129.77 165,129.77 165.25,129.95 165.5,129.89 165.75,129.73 166,128.96 166.25,127.46 166.5,125.57 166.75,124.15 167,124.85 167.25,126.68 167.5,128.5 167.75,129.45 168,129.76 168.25,129.98 168.5,129.8 168.75,129.98 169,129.92 169.25,129.97 169.5,130 169.75,129.96 170,129.84 170.25,129.77 170.5,129.75 170.75,129.99 171,130 171.25,129.89 171.5,129.9 171.75,129.74 172,129.87 172.25,129.94 172.5,129.84 172.75,129.74 173,129.78 173.25,129.7 173.5,129.68 173.75,129.55 174,129.18 174.25,128.14 174.5,126.6 174.75,125.78 175,126.25 175.25,127.63 175.5,128.91 175.75,129.58 176,129.7 176.25,129.76 176.5,129.95 176.75,129.88 177,129.93 177.25,129.99 177.5,129.85 177.75,129.98 178,129.89 178.25,129.84 178.5,129.86 178.75,129.9 179,129.88 179.25,129.79 179.5,129.72 179.75,129.97 180,129.8 180.25,129.96 180.5,129.86 180.75,129.93 181,129.92 181.25,129.85 181.5,129.86 181.75,129.91 182,129.81 182.25,129.69 182.5,129.35 182.75,128.84 183,127.35 183.25,125.45 183.5,124.69 183.75,125.64 184,127.26 184.25,128.75 184.5,129.52 184.75,129.73 185,129.88 185.25,129.91 185.5,129.87 185.75,129.97 186,129.91 186.25,129.88 186.5,129.87 186.75,130 187,129.85 187.25,129.81 187.5,129.94 187.75,129.96 188,129.87 188.25,129.74 188.5,129.79 188.75,129.49 189,127.65 189.25,121.99 189.5,110.89 189.75,97.36 190,91.08 190.25,97.44 190.5,110.85 190.75,122.03 191,127.5 191.25,129.41 191.5,129.9 191.75,129.87 192,129.89 192.25,129.85 192.5,129.99 192.75,129.82 193,129.89 193.25,130 193.5,129.97 193.75,129.88 194,130 194.25,129.83 194.5,129.99 194.75,129.81 195,129.82 195.25,129.86 195.5,129.99 195.75,129.87 196,129.96 196.25,129.87 196.5,129.86 196.75,129.48 197,127.67 197.25,122.44 197.5,111.55 197.75,98.81 198,92.67 198.25,98.81 198.5,111.62 198.75,122.31 199,127.73 199.25,129.48 199.5,129.78 199.75,129.87 200,129.99 200.25,129.83 200.5,129.96 200.75,129.94 201,129.85 201.25,129.9 201.5,129.92 201.75,129.77 202,129.69 202.25,129.77 202.5,129.98 202.75,129.83 203,129.81 203.25,129.69 203.5,129.64 203.75,129.85 204,129.96 204.25,129.85 204.5,129.81 204.75,129.93 205,129.98 205.25,129.96 205.5,129.93 205.75,129.89 206,129.8 206.25,129.68 206.5,129.71 206.75,129.69 207,129.56 207.25,128.52 207.5,126.59 207.75,124.34 208,123.21 208.25,124.31 208.5,126.53 208.75,128.56 209,129.47 209.25,129.83 209.5,129.88 209.75,129.89 210,129.94 210.25,129.91 210.5,129.9 210.75,129.87 211,129.89 211.25,129.94 211.5,129.86 211.75,129.9 212,129.75 212.25,129.68 212.5,129.97 212.75,129.89 213,129.97 213.25,129.82 213.5,129.96 213.75,129.93 214,129.86 214.25,129.87 214.5,129.98 214.75,129.87 215,129.73 215.25,129.04 215.5,127.67 215.75,126.43 216,125.67 216.25,126.35 216.5,127.67 216.75,129.11 217,129.63 217.25,129.86 217.5,129.86 217.75,129.74 218,129.89 218.25,129.97 218.5,129.95 218.75,129.97 219,129.85 219.25,129.96 219.5,129.9 219.75,129.84 220,129.78 220.25,129.76 220.5,129.81 220.75,129.96 221,129.95 221.25,129.92 221.5,129.94 221.75,129.87 222,129.8 222.25,129.98 222.5,129.89 222.75,129.76 223,129.67 223.25,129.82 223.5,129.82 223.75,129.91 224,129.79 224.25,129.68 224.5,129.9 224.75,129.89 225,129.77 225.25,129.86 225.5,130 225.75,129.98 226,129.88 226.25,129.9 226.5,129.99 226.75,129.94 227,129.86 227.25,129.78 227.5,129.8 227.75,129.97 228,129.88 228.25,129.99 228.5,129.98 228.75,129.96 229,129.93 229.25,129.92 229.5,129.83 229.75,129.62 230,128.82 230.25,126.81 230.5,122.24 230.75,116.8 231,114.23 231.25,116.69 231.5,122.18 231.75,126.76 232,128.98 232.25,129.7 232.5,129.71 232.75,130 233,129.99 233.25,129.88 233.5,129.79 233.75,129.71 234,129.99 234.25,129.91 234.5,129.79 234.75,129.75 235,129.96 235.25,129.94 235.5,129.79 235.75,129.93 236,129.81 236.25,129.91 236.5,129.96 236.75,129.91 237,129.77 237.25,129.98 237.5,129.94 237.75,129.72 238,128.87 238.25,126.25 238.5,120.94 238.75,114.68 239,111.76 239.25,114.82 239.5,121.14 239.75,126.23 240,128.67 240.25,129.56 240.5,129.9 240.75,129.83 241,129.83 241.25,129.78 241.5,129.98 241.75,129.99 242,129.83 242.25,129.74 242.5,129.8 242.75,129.9 243,130 243.25,129.83 243.5,129.77 243.75,129.94 244,129.93 244.25,129.87 244.5,129.84 244.75,129.91 245,129.98 245.25,129.99 245.5,129.95 245.75,129.94 246,129.89 246.25,129.74 246.5,129.9 246.75,129.94 247,129.94 247.25,129.91 247.5,129.74 247.75,129.94 248,129.73 248.25,129.03 248.5,127.9 248.75,126.31 249,125.71 249.25,126.4 249.5,127.69 249.75,129.02 250,129.73 250.25,129.8 250.5,129.92 250.75,129.99 251,129.95 251.25,129.97 251.5,129.84 251.75,129.82 252,129.9 252.25,129.89 252.5,129.91 252.75,129.94 253,129.91 253.25,129.76 253.5,129.98 253.75,129.86 254,129.9 254.25,129.75 254.5,129.86 254.75,129.91 255,129.89 255.25,129.98 255.5,129.82 255.75,129.85 256,129.78 256.25,129.99 256.5,129.86 256.75,129.84 257,129.5 257.25,128.75 257.5,127.72 257.75,127.31 258,127.47 258.25,128.37 258.5,129.27 258.75,129.71 259,129.75 259.25,129.77 259.5,129.96 259.75,129.87 260,129.9 260.25,129.96 260.5,129.92 260.75,129.86 261,129.95 261.25,129.88 261.5,129.97 261.75,130 262,129.95 262.25,129.95 262.5,129.94 262.75,130 263,129.97 263.25,129.96 263.5,129.99 263.75,129.98 264,129.8 264.25,129.93 264.5,129.95 264.75,129.86 265,129.98 265.25,129.87 265.5,129.94 265.75,129.91 266,129.93 266.25,129.8 266.5,129.73 266.75,129.81 267,129.72 267.25,129.81 267.5,129.89 267.75,129.75 268,129.91 268.25,129.78 268.5,129.96 268.75,129.91 269,129.94 269.25,129.86 269.5,129.91 269.75,129.9 270,129.88 270.25,129.93 270.5,129.9 270.75,129.74 271,129.75 271.25,129.73 271.5,129.96 271.75,129.78 272,129.87 272.25,129.74 272.5,129.68 272.75,129.94 273,129.85 273.25,129.74 273.5,129.98 273.75,129.93 274,129.94 274.25,129.9 274.5,129.9 274.75,129.97 275,129.89 275.25,129.92 275.5,129.95 275.75,129.86 276,129.97 276.25,129.89 276.5,129.93 276.75,129.89 277,129.75 277.25,129.72 277.5,129.7 277.75,129.99 278,129.93 278.25,129.8 278.5,129.99 278.75,129.89 279,129.91 279.25,129.96 279.5,129.97 279.75,129.96 280,129.87 280.25,129.9 280.5,129.91 280.75,129.79 281,129.97 281.25,129.82 281.5,129.84 281.75,129.95 282,129.85 282.25,130 282.5,129.81 282.75,129.85 283,129.97 283.25,129.87 283.5,129.95 283.75,129.9 284,129.96 284.25,129.84 284.5,129.97 284.75,129.92 285,129.99 285.25,129.8 285.5,129.85 285.75,129.84 286,129.98 286.25,129.81 286.5,129.7 286.75,129.68 287,129.85 287.25,129.89 287.5,129.94 287.75,129.88 288,129.92 288.25,129.85 288.5,129.97 288.75,129.79 289,129.68 289.25,129.75 289.5,129.69 289.75,129.76 290,129.74 290.25,129.88 290.5,129.96 290.75,129.86 291,129.97 291.25,129.97 291.5,129.84 291.75,129.92 292,129.94 292.25,129.83 292.5,129.73 292.75,129.9 293,129.91 293.25,129.84 293.5,129.94 293.75,129.94 294,129.77 294.25,129.92 294.5,129.98 294.75,129.93 295,129.99 295.25,129.99 295.5,129.83 295.75,129.81 296,129.98 296.25,129.83 296.5,129.92 296.75,129.96 297,129.94 297.25,129.86 297.5,129.74 297.75,129.96 298,129.78 298.25,129.89 298.5,129.89 298.75,129.92 299,129.83 299.25,129.94 299.5,129.97 299.75,129.96 300,129.85 300.25,129.96 300.5,129.9 300.75,129.86 301,129.74 301.25,130 301.5,129.89 301.75,129.85 302,129.89 302.25,129.93 302.5,129.86 302.75,129.93 303,129.86 303.25,129.94 303.5,129.93 303.75,129.8 304,129.77 304.25,129.68 304.5,129.74 304.75,129.94 305,129.96 305.25,129.83 305.5,129.82 305.75,129.98 306,129.97 306.25,129.99 306.5,129.89 306.75,129.92 307,129.95 307.25,129.97 307.5,129.8 307.75,129.99 308,129.84 308.25,129.9 308.5,129.84 308.75,129.8 309,129.98 309.25,129.84 309.5,129.8 309.75,129.95 310,129.82 310.25,129.96 310.5,129.92 310.75,129.89 311,129.88 311.25,129.85 311.5,129.84 311.75,129.71 312,129.84 312.25,129.77 312.5,129.78 312.75,129.73 313,129.86 313.25,129.83 313.5,129.87 313.75,130 314,129.89 314.25,129.98 314.5,129.82 314.75,129.94 315,129.89 315.25,129.75 315.5,129.69 315.75,129.99 316,129.93 316.25,129.81 316.5,129.7 316.75,129.64 317,129.86 317.25,129.97 317.5,129.94 317.75,129.87 318,129.9 318.25,129.98 318.5,129.93 318.75,129.91 319,129.82 319.25,129.74 319.5,129.99 319.75,129.86 320,129.75 320.25,129.67 320.5,129.96 320.75,129.91 321,129.79 321.25,129.69 321.5,129.95 321.75,129.9 322,129.89 322.25,129.8 322.5,129.83 322.75,129.98 323,129.85 323.25,129.75 323.5,129.95 323.75,129.85 324,129.84 324.25,129.87 324.5,129.73 324.75,129.74 325,129.76 325.25,129.94 325.5,129.91 325.75,129.88 326,129.89 326.25,129.93 326.5,129.82 326.75,129.84 327,129.91 327.25,129.91 327.5,129.92 327.75,129.94 328,129.98 328.25,129.93 328.5,129.94 328.75,129.92 329,129.9 329.25,129.89 329.5,129.94 329.75,129.91 330,129.74 330.25,129.73 330.5,129.94 330.75,129.84 331,129.9 331.25,129.93 331.5,129.96 331.75,129.91 332,129.93 332.25,129.96 332.5,129.91 332.75,129.92 333,129.95 333.25,129.85 333.5,130 333.75,129.89 334,129.99 334.25,129.99 334.5,129.85 334.75,129.96 335,129.81 335.25,130 335.5,129.92 335.75,129.84 336,129.85 336.25,129.97 336.5,129.98 336.75,129.95 337,129.88 337.25,129.91 337.5,129.9 337.75,129.87 338,129.8 338.25,129.79 338.5,129.97 338.75,129.98 339,129.96 339.25,129.87 339.5,129.97 339.75,129.97 340,129.99 340.25,129.9 340.5,129.84 340.75,129.85 341,129.97 341.25,129.95 341.5,129.83 341.75,129.96 342,129.91 342.25,129.85 342.5,129.96 342.75,129.95 343,129.92 343.25,129.92 343.5,129.9 343.75,129.92 344,129.89 344.25,129.96 344.5,129.85 344.75,129.83 345,129.98 345.25,129.87 345.5,129.94 345.75,129.82 346,129.79 346.25,129.81 346.5,129.89 346.75,129.8 347,129.81 347.25,129.76 347.5,129.95 347.75,129.88 348,129.91" fill="none" stroke="#1e1ea8" stroke-width="1.3" stroke-linejoin="round" />
<rect x="91.8" y="40" width="18.7" height="96.4" fill="none" stroke="#444" stroke-width="1"/>
<rect x="184.4" y="3" width="19.2" height="133.4" fill="none" stroke="#444" stroke-width="1"/>
<rect x="234.5" y="39.4" width="19.4" height="97" fill="none" stroke="#444" stroke-width="1"/>
<text x="22.4" y="141" font-size="9.1" fill="#333" text-anchor="middle" font-weight="normal"  >2200</text>
<text x="72.8" y="141" font-size="9.1" fill="#333" text-anchor="middle" font-weight="normal"  >2400</text>
<text x="123.2" y="141" font-size="9.1" fill="#333" text-anchor="middle" font-weight="normal"  >2600</text>
<text x="173.6" y="141" font-size="9.1" fill="#333" text-anchor="middle" font-weight="normal"  >2800</text>
<text x="224" y="141" font-size="9.1" fill="#333" text-anchor="middle" font-weight="normal"  >3000</text>
<text x="274.4" y="141" font-size="9.1" fill="#333" text-anchor="middle" font-weight="normal"  >3200</text>
<text x="324.8" y="141" font-size="9.1" fill="#333" text-anchor="middle" font-weight="normal"  >3400</text>
<text x="187.2" y="146.6" font-size="8.8" fill="#333" text-anchor="middle" font-weight="normal" font-style="italic" letter-spacing="0.9">m/z</text>
<rect x="88.5" y="144" width="10.5" height="9" fill="#fde6f0"/><rect x="209" y="143.5" width="10.5" height="9" fill="#fdeaf2"/><rect x="299.5" y="146" width="10.5" height="9.5" fill="#fde6f0"/><line x1="56" y1="157.2" x2="65.5" y2="157.2" stroke="#444" stroke-width="0.7"/><path d="M67.4,146 Q56.1,157 68.9,169.4" fill="none" stroke="#555" stroke-width="1.0"/><line x1="72.5" y1="150.6" x2="79.2" y2="157.2" stroke="#444" stroke-width="0.7"/><line x1="72.5" y1="163.5" x2="79.2" y2="157.2" stroke="#444" stroke-width="0.7"/><line x1="79.2" y1="157.2" x2="98.5" y2="157.2" stroke="#444" stroke-width="0.7"/><line x1="94.2" y1="157.2" x2="94.2" y2="150" stroke="#444" stroke-width="0.7"/><rect x="53.25" y="154.45" width="5.5" height="5.5" fill="#1414c8" stroke="#000050" stroke-width="0.7"/><circle cx="72.5" cy="150.6" r="2.85" fill="#30621a" stroke="#142a08" stroke-width="0.8"/><circle cx="72.5" cy="163.5" r="2.85" fill="#30621a" stroke="#142a08" stroke-width="0.8"/><circle cx="79.2" cy="157.2" r="2.85" fill="#30621a" stroke="#142a08" stroke-width="0.8"/><rect x="83.35" y="154.45" width="5.5" height="5.5" fill="#1414c8" stroke="#000050" stroke-width="0.7"/><rect x="91.45" y="154.45" width="5.5" height="5.5" fill="#1414c8" stroke="#000050" stroke-width="0.7"/><polygon points="90.4,146.4 97.4,146.4 93.9,152.2" fill="#7e4a22" stroke="#3a2008" stroke-width="0.6"/><line x1="170" y1="157" x2="175.5" y2="157" stroke="#444" stroke-width="0.7"/><path d="M180.5,142 Q168.5,157 180.8,172" fill="none" stroke="#555" stroke-width="1.0"/><line x1="185" y1="150.7" x2="199.5" y2="158" stroke="#444" stroke-width="0.7"/><line x1="185" y1="164.6" x2="199.5" y2="158" stroke="#444" stroke-width="0.7"/><line x1="199.5" y1="158" x2="218.5" y2="158" stroke="#444" stroke-width="0.7"/><line x1="214.2" y1="158" x2="214.2" y2="150" stroke="#444" stroke-width="0.7"/><circle cx="170" cy="157.1" r="2.75" fill="#ecec28" stroke="#5a5a00" stroke-width="0.7"/><rect x="182.25" y="147.95" width="5.5" height="5.5" fill="#1414c8" stroke="#000050" stroke-width="0.7"/><rect x="182.25" y="161.85" width="5.5" height="5.5" fill="#1414c8" stroke="#000050" stroke-width="0.7"/><circle cx="193" cy="151.3" r="2.85" fill="#30621a" stroke="#142a08" stroke-width="0.8"/><circle cx="193" cy="164.5" r="2.85" fill="#30621a" stroke="#142a08" stroke-width="0.8"/><circle cx="199.5" cy="158" r="2.85" fill="#30621a" stroke="#142a08" stroke-width="0.8"/><rect x="204.25" y="155.25" width="5.5" height="5.5" fill="#1414c8" stroke="#000050" stroke-width="0.7"/><rect x="211.45" y="155.25" width="5.5" height="5.5" fill="#1414c8" stroke="#000050" stroke-width="0.7"/><polygon points="210.6,145.6 217.6,145.6 214.1,151.6" fill="#7e4a22" stroke="#3a2008" stroke-width="0.6"/><line x1="260.3" y1="160.2" x2="267" y2="160.2" stroke="#444" stroke-width="0.7"/><path d="M270.8,149.5 Q261.5,160.5 272.5,172" fill="none" stroke="#555" stroke-width="1.0"/><line x1="275.6" y1="152.4" x2="290.3" y2="160.2" stroke="#444" stroke-width="0.7"/><line x1="275.6" y1="166.4" x2="290.3" y2="160.2" stroke="#444" stroke-width="0.7"/><line x1="282" y1="161.2" x2="290.3" y2="160.2" stroke="#444" stroke-width="0.7"/><line x1="290.3" y1="160.2" x2="311.3" y2="160.2" stroke="#444" stroke-width="0.7"/><line x1="305" y1="160.2" x2="305" y2="152" stroke="#444" stroke-width="0.7"/><circle cx="260.3" cy="160.2" r="2.75" fill="#ecec28" stroke="#5a5a00" stroke-width="0.7"/><rect x="272.85" y="149.65" width="5.5" height="5.5" fill="#1414c8" stroke="#000050" stroke-width="0.7"/><rect x="272.85" y="163.75" width="5.5" height="5.5" fill="#1414c8" stroke="#000050" stroke-width="0.7"/><circle cx="283.3" cy="153.3" r="2.85" fill="#30621a" stroke="#142a08" stroke-width="0.8"/><circle cx="283.3" cy="168.6" r="2.85" fill="#30621a" stroke="#142a08" stroke-width="0.8"/><rect x="279.45" y="158.45" width="5.5" height="5.5" fill="#1414c8" stroke="#000050" stroke-width="0.7"/><circle cx="290.3" cy="160.2" r="2.85" fill="#30621a" stroke="#142a08" stroke-width="0.8"/><rect x="295.05" y="157.45" width="5.5" height="5.5" fill="#1414c8" stroke="#000050" stroke-width="0.7"/><rect x="302.25" y="157.45" width="5.5" height="5.5" fill="#1414c8" stroke="#000050" stroke-width="0.7"/><polygon points="301,148 308.2,148 304.6,154.4" fill="#7e4a22" stroke="#3a2008" stroke-width="0.6"/>
<text x="4" y="182.8" font-size="14.5" fill="#111" text-anchor="start" font-weight="normal"  >B</text>
<text transform="translate(12.2,239.6) rotate(-90)" font-size="9.9" fill="#333" text-anchor="middle">MS signal Intensity</text>
<rect x="23.7" y="208.2" width="98.8" height="6.5" fill="#fde2ee"/><rect x="48.6" y="176.5" width="8.8" height="35.5" fill="#fde2ee"/><rect x="88.7" y="184" width="6.8" height="28" fill="#fde2ee"/><line x1="23.7" y1="212" x2="23.7" y2="294.4" stroke="#555" stroke-width="1"/><line x1="122.5" y1="212" x2="122.5" y2="294.4" stroke="#555" stroke-width="1"/><line x1="29" y1="293.7" x2="29" y2="295.4" stroke="#666" stroke-width="0.6"/><line x1="53.6" y1="293.7" x2="53.6" y2="295.4" stroke="#666" stroke-width="0.6"/><line x1="78.5" y1="293.7" x2="78.5" y2="295.4" stroke="#666" stroke-width="0.6"/><line x1="102.8" y1="293.7" x2="102.8" y2="295.4" stroke="#666" stroke-width="0.6"/><polygon points="23.7,212 23.7,211.91 23.95,212 24.2,211.87 24.45,211.91 24.7,211.52 24.95,212 25.2,211.55 25.45,211.61 25.7,211.57 25.95,211.57 26.2,211.56 26.45,211.1 26.7,211.09 26.95,211.4 27.2,211.87 27.45,211.72 27.7,211.6 27.95,211.92 28.2,211.33 28.45,211.3 28.7,211.97 28.95,211.4 29.2,211.5 29.45,211.53 29.7,211.78 29.95,211.71 30.2,211.79 30.45,211.72 30.7,211.98 30.95,211.68 31.2,211.57 31.45,211.88 31.7,211.7 31.95,211.17 32.2,211.02 32.45,211.29 32.7,211.85 32.95,211.65 33.2,211.71 33.45,211.23 33.7,211.07 33.95,210.47 34.2,210.7 34.45,210.27 34.7,209.75 34.95,210.37 35.2,210.33 35.45,210.01 35.7,210.62 35.95,211.06 36.2,211.2 36.45,211.36 36.7,211.16 36.95,211.58 37.2,211.52 37.45,211.68 37.7,211.47 37.95,211.04 38.2,211.28 38.45,211.85 38.7,211.42 38.95,211.36 39.2,211.15 39.45,211.79 39.7,211.55 39.95,211.88 40.2,211.57 40.45,211.94 40.7,211.54 40.95,211.39 41.2,211 41.45,211.21 41.7,211 41.95,211.96 42.2,211.8 42.45,211.76 42.7,211.48 42.95,211.72 43.2,211.17 43.45,211.3 43.7,211.25 43.95,210.83 44.2,211.23 44.45,210.96 44.7,211.08 44.95,210.85 45.2,211.04 45.45,210.89 45.7,210.92 45.95,211.24 46.2,211.71 46.45,211.67 46.7,211.6 46.95,211.21 47.2,211.68 47.45,211.68 47.7,211.31 47.95,211.2 48.2,211.35 48.45,211.9 48.7,211.88 48.95,211.27 49.2,211.48 49.45,211.73 49.7,211.26 49.95,211.53 50.2,210.93 50.45,210.71 50.7,210.69 50.95,209.34 51.2,208.47 51.45,206.74 51.7,204.25 51.95,198.16 52.2,192.3 52.45,188.83 52.7,182.42 52.95,179.93 53.2,176.07 53.45,178.32 53.7,176.15 53.95,183.43 54.2,182.08 54.45,187.16 54.7,192.88 54.95,196.92 55.2,198.5 55.45,200.77 55.7,204 55.95,205.79 56.2,207.89 56.45,208.73 56.7,210 56.95,210.23 57.2,210.88 57.45,210.73 57.7,211 57.95,211.38 58.2,211.66 58.45,211.36 58.7,211.62 58.95,211.79 59.2,211.94 59.45,211.37 59.7,211.52 59.95,211.28 60.2,211.62 60.45,211.79 60.7,211.66 60.95,211.48 61.2,211.11 61.45,210.78 61.7,210.85 61.95,210.72 62.2,211.45 62.45,211.75 62.7,211.47 62.95,211.64 63.2,211.16 63.45,211.02 63.7,211.83 63.95,211.39 64.2,211.96 64.45,211.75 64.7,211.86 64.95,211.49 65.2,211.73 65.45,211.83 65.7,211.87 65.95,211.83 66.2,211.93 66.45,211.47 66.7,211.17 66.95,211.47 67.2,211.89 67.45,211.94 67.7,211.28 67.95,211.59 68.2,211.81 68.45,211.9 68.7,211.44 68.95,211.54 69.2,211.67 69.45,211.84 69.7,212 69.95,211.42 70.2,211.92 70.45,211.78 70.7,211.6 70.95,211.07 71.2,211.05 71.45,211.17 71.7,211.68 71.95,211.86 72.2,211.9 72.45,211.62 72.7,211.68 72.95,211.69 73.2,211.32 73.45,211.78 73.7,211.91 73.95,211.89 74.2,211.68 74.45,211.75 74.7,211.89 74.95,211.46 75.2,210.96 75.45,211.9 75.7,211.61 75.95,211.65 76.2,211.68 76.45,211.27 76.7,211.83 76.95,211.47 77.2,211.73 77.45,211.61 77.7,211.86 77.95,211.65 78.2,211.59 78.45,211.09 78.7,211.47 78.95,211.18 79.2,211.08 79.45,211.85 79.7,211.51 79.95,211.64 80.2,211.41 80.45,211.69 80.7,211.92 80.95,211.35 81.2,211.89 81.45,212 81.7,211.86 81.95,211.43 82.2,210.96 82.45,211.81 82.7,211.59 82.95,211.89 83.2,211.93 83.45,211.52 83.7,211.12 83.95,211.07 84.2,211.58 84.45,211.2 84.7,211.13 84.95,211.61 85.2,211.61 85.45,211.72 85.7,211.62 85.95,211.94 86.2,211.37 86.45,211.83 86.7,211.77 86.95,211.89 87.2,211.73 87.45,211.39 87.7,211.43 87.95,211.68 88.2,211.66 88.45,211.19 88.7,210.68 88.95,211.35 89.2,211.1 89.45,210.53 89.7,209.65 89.95,208.36 90.2,207.03 90.45,204.6 90.7,201.68 90.95,198.26 91.2,193 91.45,188.73 91.7,188.99 91.95,189.32 92.2,189.13 92.45,191.86 92.7,193.32 92.95,195.21 93.2,198.51 93.45,200.09 93.7,201.77 93.95,203.56 94.2,205.97 94.45,207.38 94.7,208.57 94.95,209.2 95.2,210.07 95.45,210.16 95.7,211.04 95.95,211.28 96.2,210.89 96.45,210.74 96.7,211.46 96.95,211.31 97.2,211.45 97.45,211.7 97.7,211.42 97.95,211.88 98.2,211.43 98.45,211.43 98.7,211.85 98.95,211.73 99.2,211.46 99.45,211.22 99.7,210.88 99.95,210.22 100.2,210.88 100.45,210.58 100.7,209.85 100.95,209.47 101.2,210.28 101.45,210.6 101.7,210.81 101.95,210.84 102.2,210.9 102.45,211.17 102.7,211.6 102.95,211.33 103.2,211.26 103.45,211.37 103.7,211.59 103.95,211.69 104.2,211.21 104.45,211.72 104.7,211.29 104.95,211.82 105.2,211.87 105.45,211.63 105.7,211.17 105.95,211.74 106.2,211.56 106.45,211.98 106.7,211.49 106.95,211.96 107.2,211.43 107.45,211.72 107.7,211.39 107.95,211.59 108.2,211.53 108.45,211.33 108.7,210.88 108.95,211.12 109.2,210.77 109.45,210.48 109.7,210.58 109.95,210.4 110.2,210.34 110.45,210.29 110.7,210.69 110.95,211.12 111.2,211.17 111.45,211.16 111.7,211.16 111.95,211.64 112.2,211.36 112.45,211.66 112.7,211.61 112.95,211.42 113.2,211.96 113.45,211.63 113.7,211.39 113.95,211.85 114.2,211.63 114.45,211.67 114.7,211.4 114.95,211.6 115.2,211.26 115.45,210.72 115.7,210.15 115.95,209.99 116.2,209.78 116.45,209.84 116.7,209.81 116.95,209.39 117.2,209.92 117.45,210.08 117.7,209.94 117.95,210.77 118.2,210.85 118.45,210.95 118.7,211.32 118.95,211.26 119.2,211.54 119.45,211.32 119.7,211.91 119.95,211.55 120.2,211.42 120.45,211.96 120.7,211.9 120.95,211.93 121.2,211.22 121.45,211.05 121.7,209.08 121.95,207.25 122.2,203.99 122.45,200.68 122.45,212" fill="#d02a10" stroke="none" fill-opacity="0.9"/><polyline points="23.7,211.91 23.95,212 24.2,211.87 24.45,211.91 24.7,211.52 24.95,212 25.2,211.55 25.45,211.61 25.7,211.57 25.95,211.57 26.2,211.56 26.45,211.1 26.7,211.09 26.95,211.4 27.2,211.87 27.45,211.72 27.7,211.6 27.95,211.92 28.2,211.33 28.45,211.3 28.7,211.97 28.95,211.4 29.2,211.5 29.45,211.53 29.7,211.78 29.95,211.71 30.2,211.79 30.45,211.72 30.7,211.98 30.95,211.68 31.2,211.57 31.45,211.88 31.7,211.7 31.95,211.17 32.2,211.02 32.45,211.29 32.7,211.85 32.95,211.65 33.2,211.71 33.45,211.23 33.7,211.07 33.95,210.47 34.2,210.7 34.45,210.27 34.7,209.75 34.95,210.37 35.2,210.33 35.45,210.01 35.7,210.62 35.95,211.06 36.2,211.2 36.45,211.36 36.7,211.16 36.95,211.58 37.2,211.52 37.45,211.68 37.7,211.47 37.95,211.04 38.2,211.28 38.45,211.85 38.7,211.42 38.95,211.36 39.2,211.15 39.45,211.79 39.7,211.55 39.95,211.88 40.2,211.57 40.45,211.94 40.7,211.54 40.95,211.39 41.2,211 41.45,211.21 41.7,211 41.95,211.96 42.2,211.8 42.45,211.76 42.7,211.48 42.95,211.72 43.2,211.17 43.45,211.3 43.7,211.25 43.95,210.83 44.2,211.23 44.45,210.96 44.7,211.08 44.95,210.85 45.2,211.04 45.45,210.89 45.7,210.92 45.95,211.24 46.2,211.71 46.45,211.67 46.7,211.6 46.95,211.21 47.2,211.68 47.45,211.68 47.7,211.31 47.95,211.2 48.2,211.35 48.45,211.9 48.7,211.88 48.95,211.27 49.2,211.48 49.45,211.73 49.7,211.26 49.95,211.53 50.2,210.93 50.45,210.71 50.7,210.69 50.95,209.34 51.2,208.47 51.45,206.74 51.7,204.25 51.95,198.16 52.2,192.3 52.45,188.83 52.7,182.42 52.95,179.93 53.2,176.07 53.45,178.32 53.7,176.15 53.95,183.43 54.2,182.08 54.45,187.16 54.7,192.88 54.95,196.92 55.2,198.5 55.45,200.77 55.7,204 55.95,205.79 56.2,207.89 56.45,208.73 56.7,210 56.95,210.23 57.2,210.88 57.45,210.73 57.7,211 57.95,211.38 58.2,211.66 58.45,211.36 58.7,211.62 58.95,211.79 59.2,211.94 59.45,211.37 59.7,211.52 59.95,211.28 60.2,211.62 60.45,211.79 60.7,211.66 60.95,211.48 61.2,211.11 61.45,210.78 61.7,210.85 61.95,210.72 62.2,211.45 62.45,211.75 62.7,211.47 62.95,211.64 63.2,211.16 63.45,211.02 63.7,211.83 63.95,211.39 64.2,211.96 64.45,211.75 64.7,211.86 64.95,211.49 65.2,211.73 65.45,211.83 65.7,211.87 65.95,211.83 66.2,211.93 66.45,211.47 66.7,211.17 66.95,211.47 67.2,211.89 67.45,211.94 67.7,211.28 67.95,211.59 68.2,211.81 68.45,211.9 68.7,211.44 68.95,211.54 69.2,211.67 69.45,211.84 69.7,212 69.95,211.42 70.2,211.92 70.45,211.78 70.7,211.6 70.95,211.07 71.2,211.05 71.45,211.17 71.7,211.68 71.95,211.86 72.2,211.9 72.45,211.62 72.7,211.68 72.95,211.69 73.2,211.32 73.45,211.78 73.7,211.91 73.95,211.89 74.2,211.68 74.45,211.75 74.7,211.89 74.95,211.46 75.2,210.96 75.45,211.9 75.7,211.61 75.95,211.65 76.2,211.68 76.45,211.27 76.7,211.83 76.95,211.47 77.2,211.73 77.45,211.61 77.7,211.86 77.95,211.65 78.2,211.59 78.45,211.09 78.7,211.47 78.95,211.18 79.2,211.08 79.45,211.85 79.7,211.51 79.95,211.64 80.2,211.41 80.45,211.69 80.7,211.92 80.95,211.35 81.2,211.89 81.45,212 81.7,211.86 81.95,211.43 82.2,210.96 82.45,211.81 82.7,211.59 82.95,211.89 83.2,211.93 83.45,211.52 83.7,211.12 83.95,211.07 84.2,211.58 84.45,211.2 84.7,211.13 84.95,211.61 85.2,211.61 85.45,211.72 85.7,211.62 85.95,211.94 86.2,211.37 86.45,211.83 86.7,211.77 86.95,211.89 87.2,211.73 87.45,211.39 87.7,211.43 87.95,211.68 88.2,211.66 88.45,211.19 88.7,210.68 88.95,211.35 89.2,211.1 89.45,210.53 89.7,209.65 89.95,208.36 90.2,207.03 90.45,204.6 90.7,201.68 90.95,198.26 91.2,193 91.45,188.73 91.7,188.99 91.95,189.32 92.2,189.13 92.45,191.86 92.7,193.32 92.95,195.21 93.2,198.51 93.45,200.09 93.7,201.77 93.95,203.56 94.2,205.97 94.45,207.38 94.7,208.57 94.95,209.2 95.2,210.07 95.45,210.16 95.7,211.04 95.95,211.28 96.2,210.89 96.45,210.74 96.7,211.46 96.95,211.31 97.2,211.45 97.45,211.7 97.7,211.42 97.95,211.88 98.2,211.43 98.45,211.43 98.7,211.85 98.95,211.73 99.2,211.46 99.45,211.22 99.7,210.88 99.95,210.22 100.2,210.88 100.45,210.58 100.7,209.85 100.95,209.47 101.2,210.28 101.45,210.6 101.7,210.81 101.95,210.84 102.2,210.9 102.45,211.17 102.7,211.6 102.95,211.33 103.2,211.26 103.45,211.37 103.7,211.59 103.95,211.69 104.2,211.21 104.45,211.72 104.7,211.29 104.95,211.82 105.2,211.87 105.45,211.63 105.7,211.17 105.95,211.74 106.2,211.56 106.45,211.98 106.7,211.49 106.95,211.96 107.2,211.43 107.45,211.72 107.7,211.39 107.95,211.59 108.2,211.53 108.45,211.33 108.7,210.88 108.95,211.12 109.2,210.77 109.45,210.48 109.7,210.58 109.95,210.4 110.2,210.34 110.45,210.29 110.7,210.69 110.95,211.12 111.2,211.17 111.45,211.16 111.7,211.16 111.95,211.64 112.2,211.36 112.45,211.66 112.7,211.61 112.95,211.42 113.2,211.96 113.45,211.63 113.7,211.39 113.95,211.85 114.2,211.63 114.45,211.67 114.7,211.4 114.95,211.6 115.2,211.26 115.45,210.72 115.7,210.15 115.95,209.99 116.2,209.78 116.45,209.84 116.7,209.81 116.95,209.39 117.2,209.92 117.45,210.08 117.7,209.94 117.95,210.77 118.2,210.85 118.45,210.95 118.7,211.32 118.95,211.26 119.2,211.54 119.45,211.32 119.7,211.91 119.95,211.55 120.2,211.42 120.45,211.96 120.7,211.9 120.95,211.93 121.2,211.22 121.45,211.05 121.7,209.08 121.95,207.25 122.2,203.99 122.45,200.68" fill="none" stroke="#a0481e" stroke-width="1.4" stroke-linejoin="round" /><polygon points="23.7,251.6 23.7,251.27 23.95,251.1 24.2,251.11 24.45,251.29 24.7,251.19 24.95,251.06 25.2,251.34 25.45,250.8 25.7,250.62 25.95,250.69 26.2,251.1 26.45,250.88 26.7,251.15 26.95,250.97 27.2,250.9 27.45,251.28 27.7,251.2 27.95,250.69 28.2,250.24 28.45,251.18 28.7,251.04 28.95,251.01 29.2,250.41 29.45,250.83 29.7,250.53 29.95,251.01 30.2,250.56 30.45,250.76 30.7,250.64 30.95,250.27 31.2,250.29 31.45,249.92 31.7,250.08 31.95,249.2 32.2,249.3 32.45,248.56 32.7,248.76 32.95,247.18 33.2,247.57 33.45,246.4 33.7,245.17 33.95,244.89 34.2,246.06 34.45,246.79 34.7,245.77 34.95,248.74 35.2,247.48 35.45,248.28 35.7,249.41 35.95,248.13 36.2,249.22 36.45,249.82 36.7,249.39 36.95,250.19 37.2,250.03 37.45,249.78 37.7,250.3 37.95,250.22 38.2,249.88 38.45,249.93 38.7,250.66 38.95,250.71 39.2,250.77 39.45,250.51 39.7,251.05 39.95,250.39 40.2,250.47 40.45,249.97 40.7,250.56 40.95,250.25 41.2,250.45 41.45,251.03 41.7,250.93 41.95,250.89 42.2,250.44 42.45,250.13 42.7,250.2 42.95,251.23 43.2,251.02 43.45,251.02 43.7,250.98 43.95,251.12 44.2,251.16 44.45,251.13 44.7,251.09 44.95,250.82 45.2,251.24 45.45,250.91 45.7,251.01 45.95,251.23 46.2,250.66 46.45,250.53 46.7,250.59 46.95,249.84 47.2,250.09 47.45,250.39 47.7,250.78 47.95,250.38 48.2,250.68 48.45,249.91 48.7,250.32 48.95,249.36 49.2,249.91 49.45,249.52 49.7,249.14 49.95,248.45 50.2,248.65 50.45,247.83 50.7,247.63 50.95,247.07 51.2,246.89 51.45,245.29 51.7,241.19 51.95,237.78 52.2,237.48 52.45,224.85 52.7,226.91 52.95,213.8 53.2,213.8 53.45,218.38 53.7,228.88 53.95,233.87 54.2,232.66 54.45,239.85 54.7,235.75 54.95,243.2 55.2,238.01 55.45,241.52 55.7,242.65 55.95,239.16 56.2,242.72 56.45,244.44 56.7,244.35 56.95,243.67 57.2,242.47 57.45,242.8 57.7,238.41 57.95,242.65 58.2,238.35 58.45,235.72 58.7,228.15 58.95,222.14 59.2,213.8 59.45,213.8 59.7,213.8 59.95,214.84 60.2,224.28 60.45,229.29 60.7,238.61 60.95,239.68 61.2,240.69 61.45,245.46 61.7,245.9 61.95,246.91 62.2,247.82 62.45,247 62.7,246.69 62.95,247.59 63.2,249.02 63.45,249.22 63.7,249.1 63.95,249.4 64.2,249.45 64.45,249.95 64.7,249.5 64.95,250.09 65.2,250.04 65.45,249.97 65.7,250.99 65.95,250.5 66.2,250.17 66.45,250.83 66.7,250.04 66.95,250.98 67.2,250.94 67.45,250.79 67.7,251.11 67.95,251.22 68.2,250.68 68.45,251.15 68.7,250.9 68.95,250.97 69.2,251.23 69.45,251.07 69.7,251 69.95,250.76 70.2,250.98 70.45,251.03 70.7,250.91 70.95,250.86 71.2,250.69 71.45,251.25 71.7,251.32 71.95,250.7 72.2,250.39 72.45,251.28 72.7,251.15 72.95,251.42 73.2,250.92 73.45,251.3 73.7,251.28 73.95,251.36 74.2,251.33 74.45,251.19 74.7,251.12 74.95,251.23 75.2,251.31 75.45,251.32 75.7,251.2 75.95,251.34 76.2,250.73 76.45,251.39 76.7,250.8 76.95,251.31 77.2,251.25 77.45,251.02 77.7,250.55 77.95,250.39 78.2,250.32 78.45,251.28 78.7,251.33 78.95,250.92 79.2,251.43 79.45,250.89 79.7,251.06 79.95,251.25 80.2,251.19 80.45,250.9 80.7,251.1 80.95,251.11 81.2,250.81 81.45,251.34 81.7,251.42 81.95,251.48 82.2,251.31 82.45,250.99 82.7,251.06 82.95,250.62 83.2,250.9 83.45,251.28 83.7,250.81 83.95,251.1 84.2,250.91 84.45,251.28 84.7,250.93 84.95,250.73 85.2,250.44 85.45,251 85.7,251.02 85.95,250.52 86.2,250.2 86.45,250.12 86.7,250.52 86.95,251.21 87.2,250.34 87.45,250.9 87.7,250.87 87.95,250.74 88.2,250.18 88.45,250.6 88.7,250.43 88.95,249.98 89.2,249.57 89.45,250.06 89.7,249.43 89.95,249.19 90.2,248.5 90.45,247.78 90.7,246.73 90.95,244.68 91.2,245.61 91.45,241.03 91.7,240.35 91.95,229.58 92.2,237.89 92.45,234.44 92.7,235.61 92.95,241 93.2,243.56 93.45,241.01 93.7,243.3 93.95,245.61 94.2,245.88 94.45,245 94.7,243.38 94.95,244.54 95.2,243.92 95.45,242.8 95.7,244.13 95.95,246.32 96.2,245.23 96.45,246.14 96.7,246.49 96.95,245.09 97.2,243.6 97.45,244.37 97.7,243.85 97.95,237.65 98.2,236.31 98.45,234.09 98.7,237.18 98.95,239.93 99.2,238.12 99.45,239.3 99.7,245.6 99.95,244.46 100.2,245.9 100.45,245.74 100.7,246.31 100.95,248.52 101.2,248.9 101.45,249.14 101.7,249.36 101.95,249.09 102.2,249.83 102.45,250.1 102.7,250.51 102.95,250.12 103.2,250.46 103.45,249.61 103.7,249.66 103.95,249.94 104.2,250.98 104.45,250.9 104.7,250.78 104.95,251.05 105.2,250.49 105.45,250.95 105.7,250.9 105.95,251.01 106.2,250.83 106.45,250.85 106.7,250.93 106.95,250.49 107.2,250.18 107.45,250.02 107.7,249.79 107.95,250.85 108.2,250.47 108.45,250.51 108.7,251.27 108.95,250.67 109.2,251.32 109.45,250.81 109.7,251.2 109.95,251.08 110.2,251.06 110.45,250.71 110.7,251.31 110.95,251.08 111.2,251.42 111.45,250.77 111.7,250.77 111.95,250.81 112.2,250.6 112.45,250.36 112.7,251.01 112.95,250.45 113.2,250.68 113.45,250.8 113.7,250.99 113.95,250.56 114.2,251.49 114.45,250.78 114.7,250.72 114.95,251.43 115.2,251.29 115.45,251.12 115.7,251.33 115.95,251.02 116.2,251.37 116.45,250.86 116.7,250.89 116.95,250.63 117.2,251 117.45,250.76 117.7,251 117.95,250.59 118.2,250.32 118.45,251.18 118.7,251.09 118.95,251.4 119.2,251.02 119.45,250.55 119.7,251.2 119.95,250.7 120.2,251.36 120.45,251.31 120.7,251.4 120.95,251.17 121.2,250.97 121.45,249.92 121.7,247.39 121.95,246.75 122.2,246.29 122.45,245.2 122.45,251.6" fill="#111" stroke="none" fill-opacity="0.8"/><polyline points="23.7,251.27 23.95,251.1 24.2,251.11 24.45,251.29 24.7,251.19 24.95,251.06 25.2,251.34 25.45,250.8 25.7,250.62 25.95,250.69 26.2,251.1 26.45,250.88 26.7,251.15 26.95,250.97 27.2,250.9 27.45,251.28 27.7,251.2 27.95,250.69 28.2,250.24 28.45,251.18 28.7,251.04 28.95,251.01 29.2,250.41 29.45,250.83 29.7,250.53 29.95,251.01 30.2,250.56 30.45,250.76 30.7,250.64 30.95,250.27 31.2,250.29 31.45,249.92 31.7,250.08 31.95,249.2 32.2,249.3 32.45,248.56 32.7,248.76 32.95,247.18 33.2,247.57 33.45,246.4 33.7,245.17 33.95,244.89 34.2,246.06 34.45,246.79 34.7,245.77 34.95,248.74 35.2,247.48 35.45,248.28 35.7,249.41 35.95,248.13 36.2,249.22 36.45,249.82 36.7,249.39 36.95,250.19 37.2,250.03 37.45,249.78 37.7,250.3 37.95,250.22 38.2,249.88 38.45,249.93 38.7,250.66 38.95,250.71 39.2,250.77 39.45,250.51 39.7,251.05 39.95,250.39 40.2,250.47 40.45,249.97 40.7,250.56 40.95,250.25 41.2,250.45 41.45,251.03 41.7,250.93 41.95,250.89 42.2,250.44 42.45,250.13 42.7,250.2 42.95,251.23 43.2,251.02 43.45,251.02 43.7,250.98 43.95,251.12 44.2,251.16 44.45,251.13 44.7,251.09 44.95,250.82 45.2,251.24 45.45,250.91 45.7,251.01 45.95,251.23 46.2,250.66 46.45,250.53 46.7,250.59 46.95,249.84 47.2,250.09 47.45,250.39 47.7,250.78 47.95,250.38 48.2,250.68 48.45,249.91 48.7,250.32 48.95,249.36 49.2,249.91 49.45,249.52 49.7,249.14 49.95,248.45 50.2,248.65 50.45,247.83 50.7,247.63 50.95,247.07 51.2,246.89 51.45,245.29 51.7,241.19 51.95,237.78 52.2,237.48 52.45,224.85 52.7,226.91 52.95,213.8 53.2,213.8 53.45,218.38 53.7,228.88 53.95,233.87 54.2,232.66 54.45,239.85 54.7,235.75 54.95,243.2 55.2,238.01 55.45,241.52 55.7,242.65 55.95,239.16 56.2,242.72 56.45,244.44 56.7,244.35 56.95,243.67 57.2,242.47 57.45,242.8 57.7,238.41 57.95,242.65 58.2,238.35 58.45,235.72 58.7,228.15 58.95,222.14 59.2,213.8 59.45,213.8 59.7,213.8 59.95,214.84 60.2,224.28 60.45,229.29 60.7,238.61 60.95,239.68 61.2,240.69 61.45,245.46 61.7,245.9 61.95,246.91 62.2,247.82 62.45,247 62.7,246.69 62.95,247.59 63.2,249.02 63.45,249.22 63.7,249.1 63.95,249.4 64.2,249.45 64.45,249.95 64.7,249.5 64.95,250.09 65.2,250.04 65.45,249.97 65.7,250.99 65.95,250.5 66.2,250.17 66.45,250.83 66.7,250.04 66.95,250.98 67.2,250.94 67.45,250.79 67.7,251.11 67.95,251.22 68.2,250.68 68.45,251.15 68.7,250.9 68.95,250.97 69.2,251.23 69.45,251.07 69.7,251 69.95,250.76 70.2,250.98 70.45,251.03 70.7,250.91 70.95,250.86 71.2,250.69 71.45,251.25 71.7,251.32 71.95,250.7 72.2,250.39 72.45,251.28 72.7,251.15 72.95,251.42 73.2,250.92 73.45,251.3 73.7,251.28 73.95,251.36 74.2,251.33 74.45,251.19 74.7,251.12 74.95,251.23 75.2,251.31 75.45,251.32 75.7,251.2 75.95,251.34 76.2,250.73 76.45,251.39 76.7,250.8 76.95,251.31 77.2,251.25 77.45,251.02 77.7,250.55 77.95,250.39 78.2,250.32 78.45,251.28 78.7,251.33 78.95,250.92 79.2,251.43 79.45,250.89 79.7,251.06 79.95,251.25 80.2,251.19 80.45,250.9 80.7,251.1 80.95,251.11 81.2,250.81 81.45,251.34 81.7,251.42 81.95,251.48 82.2,251.31 82.45,250.99 82.7,251.06 82.95,250.62 83.2,250.9 83.45,251.28 83.7,250.81 83.95,251.1 84.2,250.91 84.45,251.28 84.7,250.93 84.95,250.73 85.2,250.44 85.45,251 85.7,251.02 85.95,250.52 86.2,250.2 86.45,250.12 86.7,250.52 86.95,251.21 87.2,250.34 87.45,250.9 87.7,250.87 87.95,250.74 88.2,250.18 88.45,250.6 88.7,250.43 88.95,249.98 89.2,249.57 89.45,250.06 89.7,249.43 89.95,249.19 90.2,248.5 90.45,247.78 90.7,246.73 90.95,244.68 91.2,245.61 91.45,241.03 91.7,240.35 91.95,229.58 92.2,237.89 92.45,234.44 92.7,235.61 92.95,241 93.2,243.56 93.45,241.01 93.7,243.3 93.95,245.61 94.2,245.88 94.45,245 94.7,243.38 94.95,244.54 95.2,243.92 95.45,242.8 95.7,244.13 95.95,246.32 96.2,245.23 96.45,246.14 96.7,246.49 96.95,245.09 97.2,243.6 97.45,244.37 97.7,243.85 97.95,237.65 98.2,236.31 98.45,234.09 98.7,237.18 98.95,239.93 99.2,238.12 99.45,239.3 99.7,245.6 99.95,244.46 100.2,245.9 100.45,245.74 100.7,246.31 100.95,248.52 101.2,248.9 101.45,249.14 101.7,249.36 101.95,249.09 102.2,249.83 102.45,250.1 102.7,250.51 102.95,250.12 103.2,250.46 103.45,249.61 103.7,249.66 103.95,249.94 104.2,250.98 104.45,250.9 104.7,250.78 104.95,251.05 105.2,250.49 105.45,250.95 105.7,250.9 105.95,251.01 106.2,250.83 106.45,250.85 106.7,250.93 106.95,250.49 107.2,250.18 107.45,250.02 107.7,249.79 107.95,250.85 108.2,250.47 108.45,250.51 108.7,251.27 108.95,250.67 109.2,251.32 109.45,250.81 109.7,251.2 109.95,251.08 110.2,251.06 110.45,250.71 110.7,251.31 110.95,251.08 111.2,251.42 111.45,250.77 111.7,250.77 111.95,250.81 112.2,250.6 112.45,250.36 112.7,251.01 112.95,250.45 113.2,250.68 113.45,250.8 113.7,250.99 113.95,250.56 114.2,251.49 114.45,250.78 114.7,250.72 114.95,251.43 115.2,251.29 115.45,251.12 115.7,251.33 115.95,251.02 116.2,251.37 116.45,250.86 116.7,250.89 116.95,250.63 117.2,251 117.45,250.76 117.7,251 117.95,250.59 118.2,250.32 118.45,251.18 118.7,251.09 118.95,251.4 119.2,251.02 119.45,250.55 119.7,251.2 119.95,250.7 120.2,251.36 120.45,251.31 120.7,251.4 120.95,251.17 121.2,250.97 121.45,249.92 121.7,247.39 121.95,246.75 122.2,246.29 122.45,245.2" fill="none" stroke="#111" stroke-width="1.4" stroke-linejoin="round" /><polygon points="23.7,293.2 23.7,292.96 23.95,292.71 24.2,293.1 24.45,292.89 24.7,292.63 24.95,292.58 25.2,292.73 25.45,292.89 25.7,292.83 25.95,292.92 26.2,292.65 26.45,292.57 26.7,292.46 26.95,292.44 27.2,292.42 27.45,292.66 27.7,292.84 27.95,292.69 28.2,292.71 28.45,292.52 28.7,292.46 28.95,292.52 29.2,292.67 29.45,292.74 29.7,292.64 29.95,292.36 30.2,292.52 30.45,292.2 30.7,292.11 30.95,292.29 31.2,291.35 31.45,291.1 31.7,291.71 31.95,290.36 32.2,290.21 32.45,290.11 32.7,288.56 32.95,289.57 33.2,289.02 33.45,289.41 33.7,288.49 33.95,289.69 34.2,289.23 34.45,289.89 34.7,290.5 34.95,290.92 35.2,291.28 35.45,291.58 35.7,291.18 35.95,291.96 36.2,291.49 36.45,292.04 36.7,292.2 36.95,292.18 37.2,292.43 37.45,292.07 37.7,292.57 37.95,292.02 38.2,292.25 38.45,292.43 38.7,292.73 38.95,292.3 39.2,292.48 39.45,292.55 39.7,292.56 39.95,292.57 40.2,292.58 40.45,292.67 40.7,292.86 40.95,292.46 41.2,292.34 41.45,292.65 41.7,292.62 41.95,292.44 42.2,292.26 42.45,292.3 42.7,292.53 42.95,292.46 43.2,292.6 43.45,292.75 43.7,292.91 43.95,292.71 44.2,292.5 44.45,292.98 44.7,292.86 44.95,292.56 45.2,292.67 45.45,292.99 45.7,292.85 45.95,292.53 46.2,292.4 46.45,292.6 46.7,292.48 46.95,292.97 47.2,293.03 47.45,292.95 47.7,292.65 47.95,292.95 48.2,292.64 48.45,292.43 48.7,292.95 48.95,292.75 49.2,292.8 49.45,292.67 49.7,292.64 49.95,292.97 50.2,292.92 50.45,292.79 50.7,292.75 50.95,292.71 51.2,292.86 51.45,292.64 51.7,292.77 51.95,292.58 52.2,292.94 52.45,292.62 52.7,292.85 52.95,292.86 53.2,292.9 53.45,292.67 53.7,292.72 53.95,292.48 54.2,292.42 54.45,292.43 54.7,292.34 54.95,292.21 55.2,291.69 55.45,291.36 55.7,291.01 55.95,291.67 56.2,290.34 56.45,290.7 56.7,290.72 56.95,290.7 57.2,288.24 57.45,288.56 57.7,285.98 57.95,283.62 58.2,285.38 58.45,276.01 58.7,269.87 58.95,260.21 59.2,253.4 59.45,261.78 59.7,255.82 59.95,261.99 60.2,269.83 60.45,270.36 60.7,274.92 60.95,279.61 61.2,279.08 61.45,280.65 61.7,283.49 61.95,284.67 62.2,288.08 62.45,287.1 62.7,286.15 62.95,288.09 63.2,288.15 63.45,290.14 63.7,290.16 63.95,290.02 64.2,290.25 64.45,290.81 64.7,289.87 64.95,291.11 65.2,291.43 65.45,291.31 65.7,291.99 65.95,291.92 66.2,291.82 66.45,291.77 66.7,291.72 66.95,292.08 67.2,292.54 67.45,292.4 67.7,292.19 67.95,292.3 68.2,292.32 68.45,292.6 68.7,292.42 68.95,292.45 69.2,292.53 69.45,292.36 69.7,292.54 69.95,292.51 70.2,292.4 70.45,292.22 70.7,292.44 70.95,292.79 71.2,292.7 71.45,292.32 71.7,292.04 71.95,292.72 72.2,292.52 72.45,292.38 72.7,292.64 72.95,292.35 73.2,291.87 73.45,292.47 73.7,292.04 73.95,292.2 74.2,292.14 74.45,291.99 74.7,291.99 74.95,291.79 75.2,291.82 75.45,291.94 75.7,291.65 75.95,291.47 76.2,290.82 76.45,290.23 76.7,289.54 76.95,289.32 77.2,288.29 77.45,287.53 77.7,288.44 77.95,289.39 78.2,288.93 78.45,290.61 78.7,289.73 78.95,289.83 79.2,290.47 79.45,290.82 79.7,291.69 79.95,291.66 80.2,291.75 80.45,291.82 80.7,292.13 80.95,292.2 81.2,292.13 81.45,292.03 81.7,292.22 81.95,292.3 82.2,292.5 82.45,292.66 82.7,292.53 82.95,292.67 83.2,292.69 83.45,292.65 83.7,292.57 83.95,292.3 84.2,292.38 84.45,292.85 84.7,292.74 84.95,292.66 85.2,292.78 85.45,292.84 85.7,292.6 85.95,292.37 86.2,292.38 86.45,292.26 86.7,292.72 86.95,292.85 87.2,292.51 87.45,292.66 87.7,292.95 87.95,292.82 88.2,292.91 88.45,292.86 88.7,292.81 88.95,292.88 89.2,292.71 89.45,292.82 89.7,292.53 89.95,292.53 90.2,292.94 90.45,292.86 90.7,292.85 90.95,292.95 91.2,292.87 91.45,292.77 91.7,292.84 91.95,292.96 92.2,292.7 92.45,292.76 92.7,292.64 92.95,292.29 93.2,292.64 93.45,292.46 93.7,292.58 93.95,292.34 94.2,292.34 94.45,291.82 94.7,291.83 94.95,291.49 95.2,290.81 95.45,290.5 95.7,290.38 95.95,290.07 96.2,289.77 96.45,289.61 96.7,288.63 96.95,288.53 97.2,286.25 97.45,285.08 97.7,281.18 97.95,276.83 98.2,265.85 98.45,265.26 98.7,253.4 98.95,253.4 99.2,269.82 99.45,266 99.7,271.78 99.95,273.74 100.2,276.17 100.45,284.29 100.7,281.94 100.95,285.64 101.2,285.5 101.45,287.68 101.7,288.71 101.95,287.85 102.2,286.79 102.45,288.26 102.7,288.28 102.95,288.42 103.2,290.5 103.45,290.6 103.7,289.88 103.95,291.14 104.2,291.6 104.45,290.96 104.7,291.48 104.95,292.05 105.2,291.81 105.45,292.32 105.7,291.99 105.95,291.84 106.2,292.21 106.45,292.49 106.7,292.49 106.95,292.33 107.2,292.7 107.45,292.36 107.7,292.81 107.95,292.54 108.2,292.53 108.45,292.65 108.7,292.74 108.95,292.59 109.2,292.78 109.45,292.5 109.7,292.79 109.95,292.57 110.2,292.62 110.45,292.82 110.7,292.98 110.95,292.88 111.2,292.86 111.45,292.79 111.7,292.77 111.95,293 112.2,292.78 112.45,292.97 112.7,292.67 112.95,292.63 113.2,292.96 113.45,292.96 113.7,292.6 113.95,292.89 114.2,292.82 114.45,292.54 114.7,292.5 114.95,292.38 115.2,292.19 115.45,292.25 115.7,292.72 115.95,292.47 116.2,292.55 116.45,292.27 116.7,292.22 116.95,291.81 117.2,291.61 117.45,290.78 117.7,290.94 117.95,290.42 118.2,290.09 118.45,289.8 118.7,290.32 118.95,289.78 119.2,290.11 119.45,291.23 119.7,291.43 119.95,291.34 120.2,292.09 120.45,292.39 120.7,292.26 120.95,292.76 121.2,292.8 121.45,292.6 121.7,292.83 121.95,292.83 122.2,293.09 122.45,292.77 122.45,293.2" fill="#1e1ee0" stroke="none" fill-opacity="0.5"/><polyline points="23.7,292.96 23.95,292.71 24.2,293.1 24.45,292.89 24.7,292.63 24.95,292.58 25.2,292.73 25.45,292.89 25.7,292.83 25.95,292.92 26.2,292.65 26.45,292.57 26.7,292.46 26.95,292.44 27.2,292.42 27.45,292.66 27.7,292.84 27.95,292.69 28.2,292.71 28.45,292.52 28.7,292.46 28.95,292.52 29.2,292.67 29.45,292.74 29.7,292.64 29.95,292.36 30.2,292.52 30.45,292.2 30.7,292.11 30.95,292.29 31.2,291.35 31.45,291.1 31.7,291.71 31.95,290.36 32.2,290.21 32.45,290.11 32.7,288.56 32.95,289.57 33.2,289.02 33.45,289.41 33.7,288.49 33.95,289.69 34.2,289.23 34.45,289.89 34.7,290.5 34.95,290.92 35.2,291.28 35.45,291.58 35.7,291.18 35.95,291.96 36.2,291.49 36.45,292.04 36.7,292.2 36.95,292.18 37.2,292.43 37.45,292.07 37.7,292.57 37.95,292.02 38.2,292.25 38.45,292.43 38.7,292.73 38.95,292.3 39.2,292.48 39.45,292.55 39.7,292.56 39.95,292.57 40.2,292.58 40.45,292.67 40.7,292.86 40.95,292.46 41.2,292.34 41.45,292.65 41.7,292.62 41.95,292.44 42.2,292.26 42.45,292.3 42.7,292.53 42.95,292.46 43.2,292.6 43.45,292.75 43.7,292.91 43.95,292.71 44.2,292.5 44.45,292.98 44.7,292.86 44.95,292.56 45.2,292.67 45.45,292.99 45.7,292.85 45.95,292.53 46.2,292.4 46.45,292.6 46.7,292.48 46.95,292.97 47.2,293.03 47.45,292.95 47.7,292.65 47.95,292.95 48.2,292.64 48.45,292.43 48.7,292.95 48.95,292.75 49.2,292.8 49.45,292.67 49.7,292.64 49.95,292.97 50.2,292.92 50.45,292.79 50.7,292.75 50.95,292.71 51.2,292.86 51.45,292.64 51.7,292.77 51.95,292.58 52.2,292.94 52.45,292.62 52.7,292.85 52.95,292.86 53.2,292.9 53.45,292.67 53.7,292.72 53.95,292.48 54.2,292.42 54.45,292.43 54.7,292.34 54.95,292.21 55.2,291.69 55.45,291.36 55.7,291.01 55.95,291.67 56.2,290.34 56.45,290.7 56.7,290.72 56.95,290.7 57.2,288.24 57.45,288.56 57.7,285.98 57.95,283.62 58.2,285.38 58.45,276.01 58.7,269.87 58.95,260.21 59.2,253.4 59.45,261.78 59.7,255.82 59.95,261.99 60.2,269.83 60.45,270.36 60.7,274.92 60.95,279.61 61.2,279.08 61.45,280.65 61.7,283.49 61.95,284.67 62.2,288.08 62.45,287.1 62.7,286.15 62.95,288.09 63.2,288.15 63.45,290.14 63.7,290.16 63.95,290.02 64.2,290.25 64.45,290.81 64.7,289.87 64.95,291.11 65.2,291.43 65.45,291.31 65.7,291.99 65.95,291.92 66.2,291.82 66.45,291.77 66.7,291.72 66.95,292.08 67.2,292.54 67.45,292.4 67.7,292.19 67.95,292.3 68.2,292.32 68.45,292.6 68.7,292.42 68.95,292.45 69.2,292.53 69.45,292.36 69.7,292.54 69.95,292.51 70.2,292.4 70.45,292.22 70.7,292.44 70.95,292.79 71.2,292.7 71.45,292.32 71.7,292.04 71.95,292.72 72.2,292.52 72.45,292.38 72.7,292.64 72.95,292.35 73.2,291.87 73.45,292.47 73.7,292.04 73.95,292.2 74.2,292.14 74.45,291.99 74.7,291.99 74.95,291.79 75.2,291.82 75.45,291.94 75.7,291.65 75.95,291.47 76.2,290.82 76.45,290.23 76.7,289.54 76.95,289.32 77.2,288.29 77.45,287.53 77.7,288.44 77.95,289.39 78.2,288.93 78.45,290.61 78.7,289.73 78.95,289.83 79.2,290.47 79.45,290.82 79.7,291.69 79.95,291.66 80.2,291.75 80.45,291.82 80.7,292.13 80.95,292.2 81.2,292.13 81.45,292.03 81.7,292.22 81.95,292.3 82.2,292.5 82.45,292.66 82.7,292.53 82.95,292.67 83.2,292.69 83.45,292.65 83.7,292.57 83.95,292.3 84.2,292.38 84.45,292.85 84.7,292.74 84.95,292.66 85.2,292.78 85.45,292.84 85.7,292.6 85.95,292.37 86.2,292.38 86.45,292.26 86.7,292.72 86.95,292.85 87.2,292.51 87.45,292.66 87.7,292.95 87.95,292.82 88.2,292.91 88.45,292.86 88.7,292.81 88.95,292.88 89.2,292.71 89.45,292.82 89.7,292.53 89.95,292.53 90.2,292.94 90.45,292.86 90.7,292.85 90.95,292.95 91.2,292.87 91.45,292.77 91.7,292.84 91.95,292.96 92.2,292.7 92.45,292.76 92.7,292.64 92.95,292.29 93.2,292.64 93.45,292.46 93.7,292.58 93.95,292.34 94.2,292.34 94.45,291.82 94.7,291.83 94.95,291.49 95.2,290.81 95.45,290.5 95.7,290.38 95.95,290.07 96.2,289.77 96.45,289.61 96.7,288.63 96.95,288.53 97.2,286.25 97.45,285.08 97.7,281.18 97.95,276.83 98.2,265.85 98.45,265.26 98.7,253.4 98.95,253.4 99.2,269.82 99.45,266 99.7,271.78 99.95,273.74 100.2,276.17 100.45,284.29 100.7,281.94 100.95,285.64 101.2,285.5 101.45,287.68 101.7,288.71 101.95,287.85 102.2,286.79 102.45,288.26 102.7,288.28 102.95,288.42 103.2,290.5 103.45,290.6 103.7,289.88 103.95,291.14 104.2,291.6 104.45,290.96 104.7,291.48 104.95,292.05 105.2,291.81 105.45,292.32 105.7,291.99 105.95,291.84 106.2,292.21 106.45,292.49 106.7,292.49 106.95,292.33 107.2,292.7 107.45,292.36 107.7,292.81 107.95,292.54 108.2,292.53 108.45,292.65 108.7,292.74 108.95,292.59 109.2,292.78 109.45,292.5 109.7,292.79 109.95,292.57 110.2,292.62 110.45,292.82 110.7,292.98 110.95,292.88 111.2,292.86 111.45,292.79 111.7,292.77 111.95,293 112.2,292.78 112.45,292.97 112.7,292.67 112.95,292.63 113.2,292.96 113.45,292.96 113.7,292.6 113.95,292.89 114.2,292.82 114.45,292.54 114.7,292.5 114.95,292.38 115.2,292.19 115.45,292.25 115.7,292.72 115.95,292.47 116.2,292.55 116.45,292.27 116.7,292.22 116.95,291.81 117.2,291.61 117.45,290.78 117.7,290.94 117.95,290.42 118.2,290.09 118.45,289.8 118.7,290.32 118.95,289.78 119.2,290.11 119.45,291.23 119.7,291.43 119.95,291.34 120.2,292.09 120.45,292.39 120.7,292.26 120.95,292.76 121.2,292.8 121.45,292.6 121.7,292.83 121.95,292.83 122.2,293.09 122.45,292.77" fill="none" stroke="#1e1ee0" stroke-width="1.4" stroke-linejoin="round" /><text x="29" y="302.3" font-size="6.1" fill="#3a3a3a" text-anchor="middle" font-weight="bold"  style="font-family:Liberation Mono,monospace">2480</text><text x="53.6" y="302.3" font-size="6.1" fill="#3a3a3a" text-anchor="middle" font-weight="bold"  style="font-family:Liberation Mono,monospace">2500</text><text x="78.5" y="302.3" font-size="6.1" fill="#3a3a3a" text-anchor="middle" font-weight="bold"  style="font-family:Liberation Mono,monospace">2520</text><text x="102.8" y="302.3" font-size="6.1" fill="#3a3a3a" text-anchor="middle" font-weight="bold"  style="font-family:Liberation Mono,monospace">2540</text><text x="126" y="302.3" font-size="6.1" fill="#3a3a3a" text-anchor="middle" font-weight="bold"  style="font-family:Liberation Mono,monospace">2560</text><text x="76.6" y="307.8" font-size="5.8" fill="#777" text-anchor="middle" font-weight="normal"  style="font-family:Liberation Mono,monospace">m/z</text>
<rect x="139.9" y="207.7" width="97.9" height="6.5" fill="#fde2ee"/><rect x="159.8" y="183.7" width="8.5" height="27.8" fill="#fde2ee"/><rect x="199" y="190" width="7" height="21.5" fill="#fde2ee"/><line x1="139.9" y1="211.5" x2="139.9" y2="293.8" stroke="#555" stroke-width="1"/><line x1="237.8" y1="211.5" x2="237.8" y2="293.8" stroke="#555" stroke-width="1"/><line x1="156.8" y1="293.1" x2="156.8" y2="294.8" stroke="#666" stroke-width="0.6"/><line x1="181.2" y1="293.1" x2="181.2" y2="294.8" stroke="#666" stroke-width="0.6"/><line x1="206.8" y1="293.1" x2="206.8" y2="294.8" stroke="#666" stroke-width="0.6"/><line x1="230.5" y1="293.1" x2="230.5" y2="294.8" stroke="#666" stroke-width="0.6"/><polygon points="139.9,211.5 139.9,211.44 140.15,211.47 140.4,211.39 140.65,211.43 140.9,211.46 141.15,211.43 141.4,211.32 141.65,211.31 141.9,211.24 142.15,211.42 142.4,211.49 142.65,211.44 142.9,211.34 143.15,211.36 143.4,211.48 143.65,211.35 143.9,211.39 144.15,211.44 144.4,211.39 144.65,211.35 144.9,211.32 145.15,211.48 145.4,211.41 145.65,211.37 145.9,211.43 146.15,211.45 146.4,211.41 146.65,211.49 146.9,211.47 147.15,211.45 147.4,211.34 147.65,211.44 147.9,211.47 148.15,211.4 148.4,211.41 148.65,211.4 148.9,211.45 149.15,211.39 149.4,211.4 149.65,211.43 149.9,211.44 150.15,211.5 150.4,211.45 150.65,211.32 150.9,211.24 151.15,211.31 151.4,211.39 151.65,211.48 151.9,211.38 152.15,211.47 152.4,211.49 152.65,211.36 152.9,211.35 153.15,211.31 153.4,211.33 153.65,211.45 153.9,211.47 154.15,211.34 154.4,211.33 154.65,211.49 154.9,211.4 155.15,211.41 155.4,211.42 155.65,211.48 155.9,211.42 156.15,211.29 156.4,211.47 156.65,211.44 156.9,211.34 157.15,211.46 157.4,211.3 157.65,211.4 157.9,211.26 158.15,211.27 158.4,211.28 158.65,211.18 158.9,211.09 159.15,210.96 159.4,210.83 159.65,210.82 159.9,210.42 160.15,210.06 160.4,208.97 160.65,207.55 160.9,204.54 161.15,199.91 161.4,193.78 161.65,186.95 161.9,180.52 162.15,174.46 162.4,175.57 162.65,174.73 162.9,178.58 163.15,181.39 163.4,186.61 163.65,190.11 163.9,195.05 164.15,197.22 164.4,201.33 164.65,204.31 164.9,206.29 165.15,207.55 165.4,208.7 165.65,209.57 165.9,210.17 166.15,210.52 166.4,210.84 166.65,211.1 166.9,211.12 167.15,211.25 167.4,211.32 167.65,211.26 167.9,211.35 168.15,211.33 168.4,211.3 168.65,211.29 168.9,211.26 169.15,211.3 169.4,211.24 169.65,211.31 169.9,211.24 170.15,211.5 170.4,211.44 170.65,211.35 170.9,211.27 171.15,211.49 171.4,211.49 171.65,211.36 171.9,211.49 172.15,211.46 172.4,211.45 172.65,211.41 172.9,211.44 173.15,211.41 173.4,211.41 173.65,211.49 173.9,211.5 174.15,211.46 174.4,211.42 174.65,211.38 174.9,211.43 175.15,211.36 175.4,211.35 175.65,211.41 175.9,211.41 176.15,211.47 176.4,211.5 176.65,211.44 176.9,211.41 177.15,211.44 177.4,211.44 177.65,211.39 177.9,211.41 178.15,211.36 178.4,211.48 178.65,211.36 178.9,211.39 179.15,211.31 179.4,211.3 179.65,211.48 179.9,211.48 180.15,211.5 180.4,211.45 180.65,211.42 180.9,211.49 181.15,211.36 181.4,211.42 181.65,211.35 181.9,211.27 182.15,211.36 182.4,211.47 182.65,211.35 182.9,211.42 183.15,211.48 183.4,211.48 183.65,211.38 183.9,211.42 184.15,211.46 184.4,211.37 184.65,211.42 184.9,211.43 185.15,211.32 185.4,211.48 185.65,211.35 185.9,211.26 186.15,211.36 186.4,211.23 186.65,211.36 186.9,211.35 187.15,211.21 187.4,211.17 187.65,211.11 187.9,210.92 188.15,210.86 188.4,210.75 188.65,210.65 188.9,210.59 189.15,210.51 189.4,210.3 189.65,210.2 189.9,210.23 190.15,210.37 190.4,210.26 190.65,210.28 190.9,210.41 191.15,210.54 191.4,210.71 191.65,210.75 191.9,210.92 192.15,211.01 192.4,211.05 192.65,211.17 192.9,211.27 193.15,211.24 193.4,211.25 193.65,211.38 193.9,211.33 194.15,211.42 194.4,211.35 194.65,211.48 194.9,211.4 195.15,211.41 195.4,211.44 195.65,211.47 195.9,211.43 196.15,211.39 196.4,211.34 196.65,211.46 196.9,211.35 197.15,211.38 197.4,211.3 197.65,211.37 197.9,211.21 198.15,211.11 198.4,211.04 198.65,210.95 198.9,210.97 199.15,210.86 199.4,210.59 199.65,210.2 199.9,209.39 200.15,207.85 200.4,205.89 200.65,201.75 200.9,196.85 201.15,192.05 201.4,185.73 201.65,183.66 201.9,184.03 202.15,183.62 202.4,186.34 202.65,189.37 202.9,192.7 203.15,194.89 203.4,197.8 203.65,201.36 203.9,203.58 204.15,205.56 204.4,207.1 204.65,208.28 204.9,209.25 205.15,209.87 205.4,210.21 205.65,210.71 205.9,210.93 206.15,211 206.4,211.19 206.65,211.19 206.9,211.31 207.15,211.32 207.4,211.4 207.65,211.32 207.9,211.29 208.15,211.37 208.4,211.31 208.65,211.44 208.9,211.29 209.15,211.41 209.4,211.36 209.65,211.28 209.9,211.21 210.15,211.03 210.4,211.03 210.65,210.83 210.9,210.6 211.15,210.48 211.4,210.28 211.65,209.98 211.9,209.77 212.15,209.54 212.4,209.38 212.65,209.33 212.9,209.38 213.15,209.3 213.4,209.36 213.65,209.48 213.9,209.65 214.15,209.67 214.4,209.89 214.65,210.17 214.9,210.43 215.15,210.62 215.4,210.84 215.65,211.01 215.9,211.03 216.15,211.22 216.4,211.26 216.65,211.19 216.9,211.39 217.15,211.41 217.4,211.34 217.65,211.43 217.9,211.43 218.15,211.41 218.4,211.36 218.65,211.28 218.9,211.24 219.15,211.31 219.4,211.34 219.65,211.3 219.9,211.27 220.15,211.3 220.4,211.16 220.65,211.05 220.9,211.15 221.15,211.14 221.4,211.08 221.65,211 221.9,210.88 222.15,210.8 222.4,210.79 222.65,210.59 222.9,210.57 223.15,210.5 223.4,210.45 223.65,210.55 223.9,210.4 224.15,210.42 224.4,210.41 224.65,210.58 224.9,210.6 225.15,210.51 225.4,210.48 225.65,210.68 225.9,210.79 226.15,210.85 226.4,210.82 226.65,210.9 226.9,210.97 227.15,211.19 227.4,211.19 227.65,211.26 227.9,211.27 228.15,211.32 228.4,211.31 228.65,211.35 228.9,211.34 229.15,211.43 229.4,211.34 229.65,211.27 229.9,211.29 230.15,211.24 230.4,211.33 230.65,211.3 230.9,211.46 231.15,211.36 231.4,211.46 231.65,211.38 231.9,211.45 232.15,211.49 232.4,211.46 232.65,211.44 232.9,211.47 233.15,211.39 233.4,211.43 233.65,211.49 233.9,211.43 234.15,211.47 234.4,211.49 234.65,211.36 234.9,211.33 235.15,211.33 235.4,211.45 235.65,211.44 235.9,211.48 236.15,211.44 236.4,211.38 236.65,211.29 236.9,211.32 237.15,211.38 237.4,211.44 237.65,211.39 237.65,211.5" fill="#d02a10" stroke="none" fill-opacity="0.9"/><polyline points="139.9,211.44 140.15,211.47 140.4,211.39 140.65,211.43 140.9,211.46 141.15,211.43 141.4,211.32 141.65,211.31 141.9,211.24 142.15,211.42 142.4,211.49 142.65,211.44 142.9,211.34 143.15,211.36 143.4,211.48 143.65,211.35 143.9,211.39 144.15,211.44 144.4,211.39 144.65,211.35 144.9,211.32 145.15,211.48 145.4,211.41 145.65,211.37 145.9,211.43 146.15,211.45 146.4,211.41 146.65,211.49 146.9,211.47 147.15,211.45 147.4,211.34 147.65,211.44 147.9,211.47 148.15,211.4 148.4,211.41 148.65,211.4 148.9,211.45 149.15,211.39 149.4,211.4 149.65,211.43 149.9,211.44 150.15,211.5 150.4,211.45 150.65,211.32 150.9,211.24 151.15,211.31 151.4,211.39 151.65,211.48 151.9,211.38 152.15,211.47 152.4,211.49 152.65,211.36 152.9,211.35 153.15,211.31 153.4,211.33 153.65,211.45 153.9,211.47 154.15,211.34 154.4,211.33 154.65,211.49 154.9,211.4 155.15,211.41 155.4,211.42 155.65,211.48 155.9,211.42 156.15,211.29 156.4,211.47 156.65,211.44 156.9,211.34 157.15,211.46 157.4,211.3 157.65,211.4 157.9,211.26 158.15,211.27 158.4,211.28 158.65,211.18 158.9,211.09 159.15,210.96 159.4,210.83 159.65,210.82 159.9,210.42 160.15,210.06 160.4,208.97 160.65,207.55 160.9,204.54 161.15,199.91 161.4,193.78 161.65,186.95 161.9,180.52 162.15,174.46 162.4,175.57 162.65,174.73 162.9,178.58 163.15,181.39 163.4,186.61 163.65,190.11 163.9,195.05 164.15,197.22 164.4,201.33 164.65,204.31 164.9,206.29 165.15,207.55 165.4,208.7 165.65,209.57 165.9,210.17 166.15,210.52 166.4,210.84 166.65,211.1 166.9,211.12 167.15,211.25 167.4,211.32 167.65,211.26 167.9,211.35 168.15,211.33 168.4,211.3 168.65,211.29 168.9,211.26 169.15,211.3 169.4,211.24 169.65,211.31 169.9,211.24 170.15,211.5 170.4,211.44 170.65,211.35 170.9,211.27 171.15,211.49 171.4,211.49 171.65,211.36 171.9,211.49 172.15,211.46 172.4,211.45 172.65,211.41 172.9,211.44 173.15,211.41 173.4,211.41 173.65,211.49 173.9,211.5 174.15,211.46 174.4,211.42 174.65,211.38 174.9,211.43 175.15,211.36 175.4,211.35 175.65,211.41 175.9,211.41 176.15,211.47 176.4,211.5 176.65,211.44 176.9,211.41 177.15,211.44 177.4,211.44 177.65,211.39 177.9,211.41 178.15,211.36 178.4,211.48 178.65,211.36 178.9,211.39 179.15,211.31 179.4,211.3 179.65,211.48 179.9,211.48 180.15,211.5 180.4,211.45 180.65,211.42 180.9,211.49 181.15,211.36 181.4,211.42 181.65,211.35 181.9,211.27 182.15,211.36 182.4,211.47 182.65,211.35 182.9,211.42 183.15,211.48 183.4,211.48 183.65,211.38 183.9,211.42 184.15,211.46 184.4,211.37 184.65,211.42 184.9,211.43 185.15,211.32 185.4,211.48 185.65,211.35 185.9,211.26 186.15,211.36 186.4,211.23 186.65,211.36 186.9,211.35 187.15,211.21 187.4,211.17 187.65,211.11 187.9,210.92 188.15,210.86 188.4,210.75 188.65,210.65 188.9,210.59 189.15,210.51 189.4,210.3 189.65,210.2 189.9,210.23 190.15,210.37 190.4,210.26 190.65,210.28 190.9,210.41 191.15,210.54 191.4,210.71 191.65,210.75 191.9,210.92 192.15,211.01 192.4,211.05 192.65,211.17 192.9,211.27 193.15,211.24 193.4,211.25 193.65,211.38 193.9,211.33 194.15,211.42 194.4,211.35 194.65,211.48 194.9,211.4 195.15,211.41 195.4,211.44 195.65,211.47 195.9,211.43 196.15,211.39 196.4,211.34 196.65,211.46 196.9,211.35 197.15,211.38 197.4,211.3 197.65,211.37 197.9,211.21 198.15,211.11 198.4,211.04 198.65,210.95 198.9,210.97 199.15,210.86 199.4,210.59 199.65,210.2 199.9,209.39 200.15,207.85 200.4,205.89 200.65,201.75 200.9,196.85 201.15,192.05 201.4,185.73 201.65,183.66 201.9,184.03 202.15,183.62 202.4,186.34 202.65,189.37 202.9,192.7 203.15,194.89 203.4,197.8 203.65,201.36 203.9,203.58 204.15,205.56 204.4,207.1 204.65,208.28 204.9,209.25 205.15,209.87 205.4,210.21 205.65,210.71 205.9,210.93 206.15,211 206.4,211.19 206.65,211.19 206.9,211.31 207.15,211.32 207.4,211.4 207.65,211.32 207.9,211.29 208.15,211.37 208.4,211.31 208.65,211.44 208.9,211.29 209.15,211.41 209.4,211.36 209.65,211.28 209.9,211.21 210.15,211.03 210.4,211.03 210.65,210.83 210.9,210.6 211.15,210.48 211.4,210.28 211.65,209.98 211.9,209.77 212.15,209.54 212.4,209.38 212.65,209.33 212.9,209.38 213.15,209.3 213.4,209.36 213.65,209.48 213.9,209.65 214.15,209.67 214.4,209.89 214.65,210.17 214.9,210.43 215.15,210.62 215.4,210.84 215.65,211.01 215.9,211.03 216.15,211.22 216.4,211.26 216.65,211.19 216.9,211.39 217.15,211.41 217.4,211.34 217.65,211.43 217.9,211.43 218.15,211.41 218.4,211.36 218.65,211.28 218.9,211.24 219.15,211.31 219.4,211.34 219.65,211.3 219.9,211.27 220.15,211.3 220.4,211.16 220.65,211.05 220.9,211.15 221.15,211.14 221.4,211.08 221.65,211 221.9,210.88 222.15,210.8 222.4,210.79 222.65,210.59 222.9,210.57 223.15,210.5 223.4,210.45 223.65,210.55 223.9,210.4 224.15,210.42 224.4,210.41 224.65,210.58 224.9,210.6 225.15,210.51 225.4,210.48 225.65,210.68 225.9,210.79 226.15,210.85 226.4,210.82 226.65,210.9 226.9,210.97 227.15,211.19 227.4,211.19 227.65,211.26 227.9,211.27 228.15,211.32 228.4,211.31 228.65,211.35 228.9,211.34 229.15,211.43 229.4,211.34 229.65,211.27 229.9,211.29 230.15,211.24 230.4,211.33 230.65,211.3 230.9,211.46 231.15,211.36 231.4,211.46 231.65,211.38 231.9,211.45 232.15,211.49 232.4,211.46 232.65,211.44 232.9,211.47 233.15,211.39 233.4,211.43 233.65,211.49 233.9,211.43 234.15,211.47 234.4,211.49 234.65,211.36 234.9,211.33 235.15,211.33 235.4,211.45 235.65,211.44 235.9,211.48 236.15,211.44 236.4,211.38 236.65,211.29 236.9,211.32 237.15,211.38 237.4,211.44 237.65,211.39" fill="none" stroke="#a0481e" stroke-width="1.0" stroke-linejoin="round" /><polygon points="139.9,251.7 139.9,251.54 140.15,251.58 140.4,251.6 140.65,251.57 140.9,251.51 141.15,251.51 141.4,251.6 141.65,251.48 141.9,251.61 142.15,251.64 142.4,251.56 142.65,251.61 142.9,251.57 143.15,251.58 143.4,251.57 143.65,251.46 143.9,251.44 144.15,251.46 144.4,251.44 144.65,251.61 144.9,251.63 145.15,251.5 145.4,251.54 145.65,251.53 145.9,251.62 146.15,251.61 146.4,251.59 146.65,251.62 146.9,251.61 147.15,251.47 147.4,251.55 147.65,251.44 147.9,251.48 148.15,251.56 148.4,251.45 148.65,251.47 148.9,251.48 149.15,251.39 149.4,251.56 149.65,251.47 149.9,251.37 150.15,251.57 150.4,251.53 150.65,251.54 150.9,251.55 151.15,251.45 151.4,251.44 151.65,251.52 151.9,251.41 152.15,251.32 152.4,251.44 152.65,251.49 152.9,251.47 153.15,251.49 153.4,251.41 153.65,251.46 153.9,251.4 154.15,251.27 154.4,251.25 154.65,251.21 154.9,251.38 155.15,251.29 155.4,251.44 155.65,251.17 155.9,251.29 156.15,251.31 156.4,251.24 156.65,251.2 156.9,251.06 157.15,250.89 157.4,250.9 157.65,251.08 157.9,250.71 158.15,250.57 158.4,250.27 158.65,250.44 158.9,250.05 159.15,249.91 159.4,249.93 159.65,249.01 159.9,249.07 160.15,248.74 160.4,246.88 160.65,246.66 160.9,244.98 161.15,243.51 161.4,237.77 161.65,232.79 161.9,221.52 162.15,219.15 162.4,213.3 162.65,217.73 162.9,228.71 163.15,231.01 163.4,233.48 163.65,238.09 163.9,235.28 164.15,238.08 164.4,241.14 164.65,238.1 164.9,237.85 165.15,241.57 165.4,239.54 165.65,237.71 165.9,239.05 166.15,240.3 166.4,237.26 166.65,237.19 166.9,238.16 167.15,239.51 167.4,239.81 167.65,236.95 167.9,234.2 168.15,228.74 168.4,225.08 168.65,214.74 168.9,213.3 169.15,213.69 169.4,213.3 169.65,227.52 169.9,226.14 170.15,233.01 170.4,234.1 170.65,238.21 170.9,235.43 171.15,239.1 171.4,240.33 171.65,242.2 171.9,241.16 172.15,243.69 172.4,245.6 172.65,244.11 172.9,245.96 173.15,247.12 173.4,247.26 173.65,246.44 173.9,247.5 174.15,247.48 174.4,247.51 174.65,248.61 174.9,248.47 175.15,249.18 175.4,249.07 175.65,249.45 175.9,249.43 176.15,249.77 176.4,249.71 176.65,249.99 176.9,250.09 177.15,250.4 177.4,250.37 177.65,250.35 177.9,250.53 178.15,250.64 178.4,250.48 178.65,250.61 178.9,250.57 179.15,250.81 179.4,250.9 179.65,251.01 179.9,250.94 180.15,251.1 180.4,251.08 180.65,251.13 180.9,251.21 181.15,251.08 181.4,251.23 181.65,251.23 181.9,251.26 182.15,251.2 182.4,251.29 182.65,251.31 182.9,251.34 183.15,251.17 183.4,251.29 183.65,251.27 183.9,251.25 184.15,251.35 184.4,251.4 184.65,251.32 184.9,251.28 185.15,251.27 185.4,251.38 185.65,251.27 185.9,251.41 186.15,251.43 186.4,251.41 186.65,251.44 186.9,251.34 187.15,251.48 187.4,251.41 187.65,251.32 187.9,251.47 188.15,251.39 188.4,251.49 188.65,251.41 188.9,251.42 189.15,251.46 189.4,251.52 189.65,251.41 189.9,251.3 190.15,251.27 190.4,251.42 190.65,251.43 190.9,251.4 191.15,251.43 191.4,251.44 191.65,251.45 191.9,251.38 192.15,251.33 192.4,251.36 192.65,251.29 192.9,251.27 193.15,251.32 193.4,251.48 193.65,251.42 193.9,251.4 194.15,251.49 194.4,251.41 194.65,251.39 194.9,251.38 195.15,251.25 195.4,251.26 195.65,251.42 195.9,251.28 196.15,251.39 196.4,251.2 196.65,251.34 196.9,251.32 197.15,251.1 197.4,251.15 197.65,251.07 197.9,250.95 198.15,250.82 198.4,250.71 198.65,250.47 198.9,250.4 199.15,250.29 199.4,249.96 199.65,249.56 199.9,249.06 200.15,248.95 200.4,247.99 200.65,246.93 200.9,246.08 201.15,242.49 201.4,239.24 201.65,232.64 201.9,234.97 202.15,232.51 202.4,238.15 202.65,239.74 202.9,241.68 203.15,239.67 203.4,243.85 203.65,240.82 203.9,242.99 204.15,241.83 204.4,242.72 204.65,241.92 204.9,243.14 205.15,243.39 205.4,243.02 205.65,241.9 205.9,243.35 206.15,242.75 206.4,240.75 206.65,241.7 206.9,240.81 207.15,239.21 207.4,238.02 207.65,232.14 207.9,227.36 208.15,226.85 208.4,231.25 208.65,236.89 208.9,233.5 209.15,235.49 209.4,237.68 209.65,240.69 209.9,241.86 210.15,244.12 210.4,244.31 210.65,244.01 210.9,245.84 211.15,245.05 211.4,245.62 211.65,247.32 211.9,247.7 212.15,247.41 212.4,247.98 212.65,248.17 212.9,247.9 213.15,247.91 213.4,249.16 213.65,249.01 213.9,249.55 214.15,249.77 214.4,249.75 214.65,249.91 214.9,250.22 215.15,250.17 215.4,250.28 215.65,250.48 215.9,250.4 216.15,250.27 216.4,250.72 216.65,250.46 216.9,250.43 217.15,250.47 217.4,250.2 217.65,250.25 217.9,250.08 218.15,250.2 218.4,249.64 218.65,249.65 218.9,249.67 219.15,248.69 219.4,248.52 219.65,248.89 219.9,248.77 220.15,249.12 220.4,248.62 220.65,249.29 220.9,249.73 221.15,249.33 221.4,249.57 221.65,250.06 221.9,249.88 222.15,250.52 222.4,250.48 222.65,250.58 222.9,250.85 223.15,251.04 223.4,250.97 223.65,251.26 223.9,251.25 224.15,251.26 224.4,251.43 224.65,251.47 224.9,251.49 225.15,251.39 225.4,251.47 225.65,251.4 225.9,251.42 226.15,251.46 226.4,251.34 226.65,251.41 226.9,251.33 227.15,251.52 227.4,251.52 227.65,251.46 227.9,251.39 228.15,251.34 228.4,251.52 228.65,251.42 228.9,251.48 229.15,251.43 229.4,251.48 229.65,251.51 229.9,251.6 230.15,251.58 230.4,251.55 230.65,251.5 230.9,251.58 231.15,251.57 231.4,251.51 231.65,251.55 231.9,251.56 232.15,251.56 232.4,251.54 232.65,251.44 232.9,251.34 233.15,251.4 233.4,251.56 233.65,251.46 233.9,251.5 234.15,251.59 234.4,251.54 234.65,251.57 234.9,251.57 235.15,251.56 235.4,251.47 235.65,251.45 235.9,251.51 236.15,251.61 236.4,251.52 236.65,251.6 236.9,251.49 237.15,251.65 237.4,251.49 237.65,251.53 237.65,251.7" fill="#111" stroke="none" fill-opacity="0.8"/><polyline points="139.9,251.54 140.15,251.58 140.4,251.6 140.65,251.57 140.9,251.51 141.15,251.51 141.4,251.6 141.65,251.48 141.9,251.61 142.15,251.64 142.4,251.56 142.65,251.61 142.9,251.57 143.15,251.58 143.4,251.57 143.65,251.46 143.9,251.44 144.15,251.46 144.4,251.44 144.65,251.61 144.9,251.63 145.15,251.5 145.4,251.54 145.65,251.53 145.9,251.62 146.15,251.61 146.4,251.59 146.65,251.62 146.9,251.61 147.15,251.47 147.4,251.55 147.65,251.44 147.9,251.48 148.15,251.56 148.4,251.45 148.65,251.47 148.9,251.48 149.15,251.39 149.4,251.56 149.65,251.47 149.9,251.37 150.15,251.57 150.4,251.53 150.65,251.54 150.9,251.55 151.15,251.45 151.4,251.44 151.65,251.52 151.9,251.41 152.15,251.32 152.4,251.44 152.65,251.49 152.9,251.47 153.15,251.49 153.4,251.41 153.65,251.46 153.9,251.4 154.15,251.27 154.4,251.25 154.65,251.21 154.9,251.38 155.15,251.29 155.4,251.44 155.65,251.17 155.9,251.29 156.15,251.31 156.4,251.24 156.65,251.2 156.9,251.06 157.15,250.89 157.4,250.9 157.65,251.08 157.9,250.71 158.15,250.57 158.4,250.27 158.65,250.44 158.9,250.05 159.15,249.91 159.4,249.93 159.65,249.01 159.9,249.07 160.15,248.74 160.4,246.88 160.65,246.66 160.9,244.98 161.15,243.51 161.4,237.77 161.65,232.79 161.9,221.52 162.15,219.15 162.4,213.3 162.65,217.73 162.9,228.71 163.15,231.01 163.4,233.48 163.65,238.09 163.9,235.28 164.15,238.08 164.4,241.14 164.65,238.1 164.9,237.85 165.15,241.57 165.4,239.54 165.65,237.71 165.9,239.05 166.15,240.3 166.4,237.26 166.65,237.19 166.9,238.16 167.15,239.51 167.4,239.81 167.65,236.95 167.9,234.2 168.15,228.74 168.4,225.08 168.65,214.74 168.9,213.3 169.15,213.69 169.4,213.3 169.65,227.52 169.9,226.14 170.15,233.01 170.4,234.1 170.65,238.21 170.9,235.43 171.15,239.1 171.4,240.33 171.65,242.2 171.9,241.16 172.15,243.69 172.4,245.6 172.65,244.11 172.9,245.96 173.15,247.12 173.4,247.26 173.65,246.44 173.9,247.5 174.15,247.48 174.4,247.51 174.65,248.61 174.9,248.47 175.15,249.18 175.4,249.07 175.65,249.45 175.9,249.43 176.15,249.77 176.4,249.71 176.65,249.99 176.9,250.09 177.15,250.4 177.4,250.37 177.65,250.35 177.9,250.53 178.15,250.64 178.4,250.48 178.65,250.61 178.9,250.57 179.15,250.81 179.4,250.9 179.65,251.01 179.9,250.94 180.15,251.1 180.4,251.08 180.65,251.13 180.9,251.21 181.15,251.08 181.4,251.23 181.65,251.23 181.9,251.26 182.15,251.2 182.4,251.29 182.65,251.31 182.9,251.34 183.15,251.17 183.4,251.29 183.65,251.27 183.9,251.25 184.15,251.35 184.4,251.4 184.65,251.32 184.9,251.28 185.15,251.27 185.4,251.38 185.65,251.27 185.9,251.41 186.15,251.43 186.4,251.41 186.65,251.44 186.9,251.34 187.15,251.48 187.4,251.41 187.65,251.32 187.9,251.47 188.15,251.39 188.4,251.49 188.65,251.41 188.9,251.42 189.15,251.46 189.4,251.52 189.65,251.41 189.9,251.3 190.15,251.27 190.4,251.42 190.65,251.43 190.9,251.4 191.15,251.43 191.4,251.44 191.65,251.45 191.9,251.38 192.15,251.33 192.4,251.36 192.65,251.29 192.9,251.27 193.15,251.32 193.4,251.48 193.65,251.42 193.9,251.4 194.15,251.49 194.4,251.41 194.65,251.39 194.9,251.38 195.15,251.25 195.4,251.26 195.65,251.42 195.9,251.28 196.15,251.39 196.4,251.2 196.65,251.34 196.9,251.32 197.15,251.1 197.4,251.15 197.65,251.07 197.9,250.95 198.15,250.82 198.4,250.71 198.65,250.47 198.9,250.4 199.15,250.29 199.4,249.96 199.65,249.56 199.9,249.06 200.15,248.95 200.4,247.99 200.65,246.93 200.9,246.08 201.15,242.49 201.4,239.24 201.65,232.64 201.9,234.97 202.15,232.51 202.4,238.15 202.65,239.74 202.9,241.68 203.15,239.67 203.4,243.85 203.65,240.82 203.9,242.99 204.15,241.83 204.4,242.72 204.65,241.92 204.9,243.14 205.15,243.39 205.4,243.02 205.65,241.9 205.9,243.35 206.15,242.75 206.4,240.75 206.65,241.7 206.9,240.81 207.15,239.21 207.4,238.02 207.65,232.14 207.9,227.36 208.15,226.85 208.4,231.25 208.65,236.89 208.9,233.5 209.15,235.49 209.4,237.68 209.65,240.69 209.9,241.86 210.15,244.12 210.4,244.31 210.65,244.01 210.9,245.84 211.15,245.05 211.4,245.62 211.65,247.32 211.9,247.7 212.15,247.41 212.4,247.98 212.65,248.17 212.9,247.9 213.15,247.91 213.4,249.16 213.65,249.01 213.9,249.55 214.15,249.77 214.4,249.75 214.65,249.91 214.9,250.22 215.15,250.17 215.4,250.28 215.65,250.48 215.9,250.4 216.15,250.27 216.4,250.72 216.65,250.46 216.9,250.43 217.15,250.47 217.4,250.2 217.65,250.25 217.9,250.08 218.15,250.2 218.4,249.64 218.65,249.65 218.9,249.67 219.15,248.69 219.4,248.52 219.65,248.89 219.9,248.77 220.15,249.12 220.4,248.62 220.65,249.29 220.9,249.73 221.15,249.33 221.4,249.57 221.65,250.06 221.9,249.88 222.15,250.52 222.4,250.48 222.65,250.58 222.9,250.85 223.15,251.04 223.4,250.97 223.65,251.26 223.9,251.25 224.15,251.26 224.4,251.43 224.65,251.47 224.9,251.49 225.15,251.39 225.4,251.47 225.65,251.4 225.9,251.42 226.15,251.46 226.4,251.34 226.65,251.41 226.9,251.33 227.15,251.52 227.4,251.52 227.65,251.46 227.9,251.39 228.15,251.34 228.4,251.52 228.65,251.42 228.9,251.48 229.15,251.43 229.4,251.48 229.65,251.51 229.9,251.6 230.15,251.58 230.4,251.55 230.65,251.5 230.9,251.58 231.15,251.57 231.4,251.51 231.65,251.55 231.9,251.56 232.15,251.56 232.4,251.54 232.65,251.44 232.9,251.34 233.15,251.4 233.4,251.56 233.65,251.46 233.9,251.5 234.15,251.59 234.4,251.54 234.65,251.57 234.9,251.57 235.15,251.56 235.4,251.47 235.65,251.45 235.9,251.51 236.15,251.61 236.4,251.52 236.65,251.6 236.9,251.49 237.15,251.65 237.4,251.49 237.65,251.53" fill="none" stroke="#111" stroke-width="1.0" stroke-linejoin="round" /><polygon points="139.9,292.6 139.9,292.44 140.15,292.54 140.4,292.53 140.65,292.44 140.9,292.48 141.15,292.51 141.4,292.41 141.65,292.45 141.9,292.58 142.15,292.44 142.4,292.53 142.65,292.58 142.9,292.54 143.15,292.52 143.4,292.57 143.65,292.46 143.9,292.58 144.15,292.56 144.4,292.47 144.65,292.46 144.9,292.41 145.15,292.35 145.4,292.37 145.65,292.56 145.9,292.53 146.15,292.49 146.4,292.54 146.65,292.43 146.9,292.55 147.15,292.48 147.4,292.5 147.65,292.39 147.9,292.32 148.15,292.45 148.4,292.4 148.65,292.32 148.9,292.27 149.15,292.24 149.4,292.42 149.65,292.52 149.9,292.47 150.15,292.41 150.4,292.52 150.65,292.48 150.9,292.4 151.15,292.57 151.4,292.55 151.65,292.53 151.9,292.46 152.15,292.37 152.4,292.47 152.65,292.4 152.9,292.55 153.15,292.54 153.4,292.55 153.65,292.45 153.9,292.46 154.15,292.48 154.4,292.52 154.65,292.39 154.9,292.47 155.15,292.53 155.4,292.51 155.65,292.36 155.9,292.53 156.15,292.44 156.4,292.42 156.65,292.49 156.9,292.44 157.15,292.46 157.4,292.49 157.65,292.51 157.9,292.4 158.15,292.34 158.4,292.38 158.65,292.37 158.9,292.49 159.15,292.46 159.4,292.38 159.65,292.46 159.9,292.36 160.15,292.39 160.4,292.47 160.65,292.38 160.9,292.41 161.15,292.35 161.4,292.26 161.65,292.29 161.9,292.23 162.15,292.19 162.4,292.27 162.65,292.34 162.9,292.35 163.15,292.24 163.4,292.19 163.65,292.1 163.9,292.16 164.15,292.01 164.4,291.94 164.65,291.81 164.9,291.92 165.15,291.67 165.4,291.3 165.65,290.94 165.9,290.44 166.15,290.27 166.4,290.14 166.65,288.54 166.9,288.32 167.15,286.94 167.4,284.78 167.65,284.24 167.9,279.25 168.15,276.38 168.4,261.03 168.65,260.43 168.9,253.5 169.15,261.25 169.4,255.13 169.65,262.56 169.9,268.17 170.15,272.61 170.4,271.83 170.65,277.2 170.9,279.82 171.15,280.65 171.4,280.49 171.65,281.31 171.9,283.68 172.15,284.58 172.4,284.39 172.65,286.62 172.9,286.32 173.15,287.75 173.4,288.88 173.65,287.91 173.9,288.74 174.15,289.65 174.4,289.47 174.65,289.87 174.9,290.11 175.15,290.8 175.4,291.01 175.65,291.06 175.9,290.92 176.15,291.17 176.4,291.34 176.65,291.59 176.9,291.57 177.15,291.5 177.4,291.39 177.65,291.62 177.9,291.58 178.15,291.81 178.4,291.81 178.65,291.8 178.9,291.95 179.15,292.11 179.4,291.97 179.65,291.95 179.9,292.1 180.15,292 180.4,291.94 180.65,292.04 180.9,292.15 181.15,292.06 181.4,292.07 181.65,291.99 181.9,291.89 182.15,292.13 182.4,292.24 182.65,292.24 182.9,292.24 183.15,292.24 183.4,292.14 183.65,292.12 183.9,292.3 184.15,292.25 184.4,292.28 184.65,292.26 184.9,292.33 185.15,292.26 185.4,292.33 185.65,292.26 185.9,292.3 186.15,292.2 186.4,292.15 186.65,292.26 186.9,292.22 187.15,292.15 187.4,292.3 187.65,292.42 187.9,292.28 188.15,292.37 188.4,292.38 188.65,292.36 188.9,292.44 189.15,292.3 189.4,292.37 189.65,292.31 189.9,292.38 190.15,292.31 190.4,292.39 190.65,292.32 190.9,292.36 191.15,292.34 191.4,292.4 191.65,292.42 191.9,292.39 192.15,292.35 192.4,292.29 192.65,292.4 192.9,292.38 193.15,292.37 193.4,292.42 193.65,292.29 193.9,292.3 194.15,292.42 194.4,292.47 194.65,292.32 194.9,292.34 195.15,292.24 195.4,292.26 195.65,292.37 195.9,292.42 196.15,292.4 196.4,292.29 196.65,292.3 196.9,292.43 197.15,292.34 197.4,292.41 197.65,292.32 197.9,292.32 198.15,292.28 198.4,292.42 198.65,292.32 198.9,292.32 199.15,292.21 199.4,292.38 199.65,292.31 199.9,292.39 200.15,292.37 200.4,292.24 200.65,292.26 200.9,292.14 201.15,292.16 201.4,292.22 201.65,292.14 201.9,292.32 202.15,292.31 202.4,292.21 202.65,292.16 202.9,292.02 203.15,291.92 203.4,292.03 203.65,291.77 203.9,291.61 204.15,291.5 204.4,291.44 204.65,291.32 204.9,290.68 205.15,290.75 205.4,289.88 205.65,289.97 205.9,288.47 206.15,288.76 206.4,286.72 206.65,284.68 206.9,283.19 207.15,279.3 207.4,271.91 207.65,267.87 207.9,261.8 208.15,253.5 208.4,260.41 208.65,263.6 208.9,262.93 209.15,271.38 209.4,274.66 209.65,271.98 209.9,276.98 210.15,277.93 210.4,281.47 210.65,284.17 210.9,284.02 211.15,283.84 211.4,284.04 211.65,285.1 211.9,287.44 212.15,287.98 212.4,288.28 212.65,287.6 212.9,288.71 213.15,288.57 213.4,290.04 213.65,290.37 213.9,289.94 214.15,290.82 214.4,290.74 214.65,291.05 214.9,290.63 215.15,290.89 215.4,290.9 215.65,291.37 215.9,291.22 216.15,291.43 216.4,291.31 216.65,291.52 216.9,291.63 217.15,291.13 217.4,291.06 217.65,291.18 217.9,290.72 218.15,291.09 218.4,290.81 218.65,290.6 218.9,289.9 219.15,290.07 219.4,290.28 219.65,289.13 219.9,289.15 220.15,289.2 220.4,289.52 220.65,290.1 220.9,290.28 221.15,290.07 221.4,290.32 221.65,290.45 221.9,291.2 222.15,291.63 222.4,291.52 222.65,291.79 222.9,291.87 223.15,291.97 223.4,292.03 223.65,292.09 223.9,292.15 224.15,292.08 224.4,292.17 224.65,291.96 224.9,291.97 225.15,291.67 225.4,291.75 225.65,291.53 225.9,291.52 226.15,291.3 226.4,291.37 226.65,291.44 226.9,290.88 227.15,291.18 227.4,291.14 227.65,290.99 227.9,290.74 228.15,291.11 228.4,290.76 228.65,291.23 228.9,291.42 229.15,291.29 229.4,291.54 229.65,291.79 229.9,291.84 230.15,291.98 230.4,292.13 230.65,292.17 230.9,292.3 231.15,292.41 231.4,292.37 231.65,292.46 231.9,292.3 232.15,292.42 232.4,292.47 232.65,292.45 232.9,292.45 233.15,292.46 233.4,292.4 233.65,292.49 233.9,292.44 234.15,292.48 234.4,292.5 234.65,292.48 234.9,292.4 235.15,292.4 235.4,292.35 235.65,292.45 235.9,292.4 236.15,292.51 236.4,292.46 236.65,292.39 236.9,292.33 237.15,292.53 237.4,292.45 237.65,292.42 237.65,292.6" fill="#1e1ee0" stroke="none" fill-opacity="0.5"/><polyline points="139.9,292.44 140.15,292.54 140.4,292.53 140.65,292.44 140.9,292.48 141.15,292.51 141.4,292.41 141.65,292.45 141.9,292.58 142.15,292.44 142.4,292.53 142.65,292.58 142.9,292.54 143.15,292.52 143.4,292.57 143.65,292.46 143.9,292.58 144.15,292.56 144.4,292.47 144.65,292.46 144.9,292.41 145.15,292.35 145.4,292.37 145.65,292.56 145.9,292.53 146.15,292.49 146.4,292.54 146.65,292.43 146.9,292.55 147.15,292.48 147.4,292.5 147.65,292.39 147.9,292.32 148.15,292.45 148.4,292.4 148.65,292.32 148.9,292.27 149.15,292.24 149.4,292.42 149.65,292.52 149.9,292.47 150.15,292.41 150.4,292.52 150.65,292.48 150.9,292.4 151.15,292.57 151.4,292.55 151.65,292.53 151.9,292.46 152.15,292.37 152.4,292.47 152.65,292.4 152.9,292.55 153.15,292.54 153.4,292.55 153.65,292.45 153.9,292.46 154.15,292.48 154.4,292.52 154.65,292.39 154.9,292.47 155.15,292.53 155.4,292.51 155.65,292.36 155.9,292.53 156.15,292.44 156.4,292.42 156.65,292.49 156.9,292.44 157.15,292.46 157.4,292.49 157.65,292.51 157.9,292.4 158.15,292.34 158.4,292.38 158.65,292.37 158.9,292.49 159.15,292.46 159.4,292.38 159.65,292.46 159.9,292.36 160.15,292.39 160.4,292.47 160.65,292.38 160.9,292.41 161.15,292.35 161.4,292.26 161.65,292.29 161.9,292.23 162.15,292.19 162.4,292.27 162.65,292.34 162.9,292.35 163.15,292.24 163.4,292.19 163.65,292.1 163.9,292.16 164.15,292.01 164.4,291.94 164.65,291.81 164.9,291.92 165.15,291.67 165.4,291.3 165.65,290.94 165.9,290.44 166.15,290.27 166.4,290.14 166.65,288.54 166.9,288.32 167.15,286.94 167.4,284.78 167.65,284.24 167.9,279.25 168.15,276.38 168.4,261.03 168.65,260.43 168.9,253.5 169.15,261.25 169.4,255.13 169.65,262.56 169.9,268.17 170.15,272.61 170.4,271.83 170.65,277.2 170.9,279.82 171.15,280.65 171.4,280.49 171.65,281.31 171.9,283.68 172.15,284.58 172.4,284.39 172.65,286.62 172.9,286.32 173.15,287.75 173.4,288.88 173.65,287.91 173.9,288.74 174.15,289.65 174.4,289.47 174.65,289.87 174.9,290.11 175.15,290.8 175.4,291.01 175.65,291.06 175.9,290.92 176.15,291.17 176.4,291.34 176.65,291.59 176.9,291.57 177.15,291.5 177.4,291.39 177.65,291.62 177.9,291.58 178.15,291.81 178.4,291.81 178.65,291.8 178.9,291.95 179.15,292.11 179.4,291.97 179.65,291.95 179.9,292.1 180.15,292 180.4,291.94 180.65,292.04 180.9,292.15 181.15,292.06 181.4,292.07 181.65,291.99 181.9,291.89 182.15,292.13 182.4,292.24 182.65,292.24 182.9,292.24 183.15,292.24 183.4,292.14 183.65,292.12 183.9,292.3 184.15,292.25 184.4,292.28 184.65,292.26 184.9,292.33 185.15,292.26 185.4,292.33 185.65,292.26 185.9,292.3 186.15,292.2 186.4,292.15 186.65,292.26 186.9,292.22 187.15,292.15 187.4,292.3 187.65,292.42 187.9,292.28 188.15,292.37 188.4,292.38 188.65,292.36 188.9,292.44 189.15,292.3 189.4,292.37 189.65,292.31 189.9,292.38 190.15,292.31 190.4,292.39 190.65,292.32 190.9,292.36 191.15,292.34 191.4,292.4 191.65,292.42 191.9,292.39 192.15,292.35 192.4,292.29 192.65,292.4 192.9,292.38 193.15,292.37 193.4,292.42 193.65,292.29 193.9,292.3 194.15,292.42 194.4,292.47 194.65,292.32 194.9,292.34 195.15,292.24 195.4,292.26 195.65,292.37 195.9,292.42 196.15,292.4 196.4,292.29 196.65,292.3 196.9,292.43 197.15,292.34 197.4,292.41 197.65,292.32 197.9,292.32 198.15,292.28 198.4,292.42 198.65,292.32 198.9,292.32 199.15,292.21 199.4,292.38 199.65,292.31 199.9,292.39 200.15,292.37 200.4,292.24 200.65,292.26 200.9,292.14 201.15,292.16 201.4,292.22 201.65,292.14 201.9,292.32 202.15,292.31 202.4,292.21 202.65,292.16 202.9,292.02 203.15,291.92 203.4,292.03 203.65,291.77 203.9,291.61 204.15,291.5 204.4,291.44 204.65,291.32 204.9,290.68 205.15,290.75 205.4,289.88 205.65,289.97 205.9,288.47 206.15,288.76 206.4,286.72 206.65,284.68 206.9,283.19 207.15,279.3 207.4,271.91 207.65,267.87 207.9,261.8 208.15,253.5 208.4,260.41 208.65,263.6 208.9,262.93 209.15,271.38 209.4,274.66 209.65,271.98 209.9,276.98 210.15,277.93 210.4,281.47 210.65,284.17 210.9,284.02 211.15,283.84 211.4,284.04 211.65,285.1 211.9,287.44 212.15,287.98 212.4,288.28 212.65,287.6 212.9,288.71 213.15,288.57 213.4,290.04 213.65,290.37 213.9,289.94 214.15,290.82 214.4,290.74 214.65,291.05 214.9,290.63 215.15,290.89 215.4,290.9 215.65,291.37 215.9,291.22 216.15,291.43 216.4,291.31 216.65,291.52 216.9,291.63 217.15,291.13 217.4,291.06 217.65,291.18 217.9,290.72 218.15,291.09 218.4,290.81 218.65,290.6 218.9,289.9 219.15,290.07 219.4,290.28 219.65,289.13 219.9,289.15 220.15,289.2 220.4,289.52 220.65,290.1 220.9,290.28 221.15,290.07 221.4,290.32 221.65,290.45 221.9,291.2 222.15,291.63 222.4,291.52 222.65,291.79 222.9,291.87 223.15,291.97 223.4,292.03 223.65,292.09 223.9,292.15 224.15,292.08 224.4,292.17 224.65,291.96 224.9,291.97 225.15,291.67 225.4,291.75 225.65,291.53 225.9,291.52 226.15,291.3 226.4,291.37 226.65,291.44 226.9,290.88 227.15,291.18 227.4,291.14 227.65,290.99 227.9,290.74 228.15,291.11 228.4,290.76 228.65,291.23 228.9,291.42 229.15,291.29 229.4,291.54 229.65,291.79 229.9,291.84 230.15,291.98 230.4,292.13 230.65,292.17 230.9,292.3 231.15,292.41 231.4,292.37 231.65,292.46 231.9,292.3 232.15,292.42 232.4,292.47 232.65,292.45 232.9,292.45 233.15,292.46 233.4,292.4 233.65,292.49 233.9,292.44 234.15,292.48 234.4,292.5 234.65,292.48 234.9,292.4 235.15,292.4 235.4,292.35 235.65,292.45 235.9,292.4 236.15,292.51 236.4,292.46 236.65,292.39 236.9,292.33 237.15,292.53 237.4,292.45 237.65,292.42" fill="none" stroke="#1e1ee0" stroke-width="1.0" stroke-linejoin="round" /><text x="156.8" y="302.3" font-size="6.1" fill="#3a3a3a" text-anchor="middle" font-weight="bold"  style="font-family:Liberation Mono,monospace">2860</text><text x="181.2" y="302.3" font-size="6.1" fill="#3a3a3a" text-anchor="middle" font-weight="bold"  style="font-family:Liberation Mono,monospace">2880</text><text x="206.8" y="302.3" font-size="6.1" fill="#3a3a3a" text-anchor="middle" font-weight="bold"  style="font-family:Liberation Mono,monospace">2900</text><text x="230.5" y="302.3" font-size="6.1" fill="#3a3a3a" text-anchor="middle" font-weight="bold"  style="font-family:Liberation Mono,monospace">2920</text><text x="192.35" y="307.8" font-size="5.8" fill="#777" text-anchor="middle" font-weight="normal"  style="font-family:Liberation Mono,monospace">m/z</text>
<text x="255.6" y="198.5" font-size="9.5" fill="#333" text-anchor="start" font-weight="normal"  >IgG2/3</text>
<rect x="249.4" y="209" width="98.6" height="6.5" fill="#fde2ee"/><rect x="256.5" y="176" width="7" height="36.8" fill="#fde2ee"/><line x1="249.4" y1="212.8" x2="249.4" y2="294" stroke="#555" stroke-width="1"/><line x1="348" y1="212.8" x2="348" y2="294" stroke="#555" stroke-width="1"/><line x1="261.8" y1="293.3" x2="261.8" y2="295" stroke="#666" stroke-width="0.6"/><line x1="285.5" y1="293.3" x2="285.5" y2="295" stroke="#666" stroke-width="0.6"/><line x1="311" y1="293.3" x2="311" y2="295" stroke="#666" stroke-width="0.6"/><line x1="335.8" y1="293.3" x2="335.8" y2="295" stroke="#666" stroke-width="0.6"/><polygon points="249.4,212.8 249.4,212.68 249.65,212.78 249.9,212.67 250.15,212.8 250.4,212.72 250.65,212.73 250.9,212.74 251.15,212.68 251.4,212.72 251.65,212.72 251.9,212.7 252.15,212.71 252.4,212.76 252.65,212.79 252.9,212.69 253.15,212.76 253.4,212.66 253.65,212.64 253.9,212.65 254.15,212.6 254.4,212.77 254.65,212.68 254.9,212.65 255.15,212.64 255.4,212.65 255.65,212.48 255.9,212.41 256.15,212.55 256.4,212.46 256.65,212.28 256.9,212.25 257.15,212.05 257.4,211.97 257.65,211.5 257.9,210.83 258.15,209.74 258.4,207.46 258.65,203.74 258.9,198.93 259.15,192.3 259.4,184.3 259.65,175.8 259.9,173.64 260.15,174.59 260.4,174.32 260.65,179.23 260.9,182.1 261.15,183.87 261.4,188.14 261.65,192.36 261.9,197.33 262.15,200.69 262.4,203.74 262.65,206.31 262.9,208.13 263.15,209.37 263.4,210.17 263.65,211.1 263.9,211.57 264.15,211.91 264.4,212.21 264.65,212.32 264.9,212.46 265.15,212.56 265.4,212.48 265.65,212.56 265.9,212.52 266.15,212.63 266.4,212.69 266.65,212.67 266.9,212.62 267.15,212.48 267.4,212.3 267.65,212.23 267.9,212.13 268.15,211.88 268.4,211.7 268.65,211.35 268.9,211.07 269.15,210.83 269.4,210.43 269.65,210.29 269.9,209.86 270.15,209.62 270.4,209.69 270.65,209.76 270.9,209.72 271.15,209.81 271.4,210.04 271.65,210.24 271.9,210.54 272.15,210.8 272.4,211.15 272.65,211.52 272.9,211.84 273.15,212.04 273.4,212.11 273.65,212.31 273.9,212.49 274.15,212.56 274.4,212.61 274.65,212.65 274.9,212.64 275.15,212.56 275.4,212.71 275.65,212.65 275.9,212.79 276.15,212.64 276.4,212.75 276.65,212.62 276.9,212.71 277.15,212.63 277.4,212.79 277.65,212.79 277.9,212.75 278.15,212.66 278.4,212.77 278.65,212.69 278.9,212.59 279.15,212.79 279.4,212.77 279.65,212.68 279.9,212.62 280.15,212.62 280.4,212.72 280.65,212.68 280.9,212.65 281.15,212.73 281.4,212.67 281.65,212.76 281.9,212.7 282.15,212.73 282.4,212.66 282.65,212.7 282.9,212.73 283.15,212.7 283.4,212.62 283.65,212.51 283.9,212.52 284.15,212.38 284.4,212.24 284.65,212.09 284.9,212.11 285.15,211.94 285.4,211.78 285.65,211.61 285.9,211.46 286.15,211.31 286.4,211.24 286.65,211.11 286.9,211.21 287.15,211.19 287.4,211.32 287.65,211.46 287.9,211.57 288.15,211.73 288.4,211.73 288.65,212.1 288.9,212.1 289.15,212.25 289.4,212.41 289.65,212.46 289.9,212.47 290.15,212.47 290.4,212.54 290.65,212.72 290.9,212.72 291.15,212.75 291.4,212.69 291.65,212.62 291.9,212.77 292.15,212.73 292.4,212.75 292.65,212.64 292.9,212.77 293.15,212.69 293.4,212.76 293.65,212.72 293.9,212.73 294.15,212.61 294.4,212.79 294.65,212.76 294.9,212.67 295.15,212.59 295.4,212.78 295.65,212.72 295.9,212.79 296.15,212.69 296.4,212.6 296.65,212.71 296.9,212.62 297.15,212.77 297.4,212.76 297.65,212.76 297.9,212.71 298.15,212.73 298.4,212.79 298.65,212.75 298.9,212.76 299.15,212.69 299.4,212.79 299.65,212.66 299.9,212.65 300.15,212.73 300.4,212.6 300.65,212.69 300.9,212.64 301.15,212.71 301.4,212.72 301.65,212.69 301.9,212.75 302.15,212.68 302.4,212.79 302.65,212.65 302.9,212.78 303.15,212.74 303.4,212.65 303.65,212.68 303.9,212.73 304.15,212.71 304.4,212.78 304.65,212.67 304.9,212.68 305.15,212.6 305.4,212.69 305.65,212.75 305.9,212.78 306.15,212.69 306.4,212.72 306.65,212.62 306.9,212.62 307.15,212.38 307.4,212.05 307.65,211.67 307.9,211.16 308.15,210.52 308.4,209.45 308.65,208.37 308.9,207.75 309.15,207.71 309.4,207.58 309.65,207.74 309.9,207.64 310.15,208.64 310.4,208.7 310.65,209.74 310.9,210.05 311.15,210.51 311.4,211.15 311.65,211.59 311.9,211.87 312.15,212.09 312.4,212.18 312.65,212.5 312.9,212.55 313.15,212.66 313.4,212.65 313.65,212.75 313.9,212.66 314.15,212.67 314.4,212.77 314.65,212.75 314.9,212.73 315.15,212.72 315.4,212.75 315.65,212.77 315.9,212.72 316.15,212.78 316.4,212.68 316.65,212.61 316.9,212.72 317.15,212.63 317.4,212.79 317.65,212.67 317.9,212.7 318.15,212.79 318.4,212.69 318.65,212.74 318.9,212.75 319.15,212.65 319.4,212.78 319.65,212.71 319.9,212.66 320.15,212.57 320.4,212.64 320.65,212.6 320.9,212.77 321.15,212.76 321.4,212.67 321.65,212.59 321.9,212.53 322.15,212.67 322.4,212.72 322.65,212.78 322.9,212.76 323.15,212.77 323.4,212.74 323.65,212.71 323.9,212.78 324.15,212.68 324.4,212.6 324.65,212.76 324.9,212.75 325.15,212.68 325.4,212.79 325.65,212.77 325.9,212.78 326.15,212.69 326.4,212.77 326.65,212.71 326.9,212.77 327.15,212.71 327.4,212.79 327.65,212.74 327.9,212.8 328.15,212.71 328.4,212.67 328.65,212.61 328.9,212.63 329.15,212.79 329.4,212.69 329.65,212.73 329.9,212.74 330.15,212.76 330.4,212.66 330.65,212.62 330.9,212.68 331.15,212.73 331.4,212.75 331.65,212.78 331.9,212.73 332.15,212.6 332.4,212.78 332.65,212.74 332.9,212.62 333.15,212.55 333.4,212.65 333.65,212.7 333.9,212.58 334.15,212.6 334.4,212.65 334.65,212.58 334.9,212.55 335.15,212.64 335.4,212.78 335.65,212.71 335.9,212.77 336.15,212.64 336.4,212.58 336.65,212.51 336.9,212.76 337.15,212.63 337.4,212.77 337.65,212.79 337.9,212.74 338.15,212.65 338.4,212.74 338.65,212.73 338.9,212.72 339.15,212.79 339.4,212.66 339.65,212.79 339.9,212.66 340.15,212.71 340.4,212.76 340.65,212.63 340.9,212.58 341.15,212.73 341.4,212.77 341.65,212.69 341.9,212.76 342.15,212.71 342.4,212.71 342.65,212.76 342.9,212.65 343.15,212.66 343.4,212.72 343.65,212.76 343.9,212.76 344.15,212.7 344.4,212.71 344.65,212.76 344.9,212.74 345.15,212.65 345.4,212.79 345.65,212.78 345.9,212.74 346.15,212.5 346.4,212.31 346.65,211.87 346.9,211.2 347.15,210.39 347.4,209.77 347.65,209.49 347.9,210.1 347.9,212.8" fill="#d02a10" stroke="none" fill-opacity="0.9"/><polyline points="249.4,212.68 249.65,212.78 249.9,212.67 250.15,212.8 250.4,212.72 250.65,212.73 250.9,212.74 251.15,212.68 251.4,212.72 251.65,212.72 251.9,212.7 252.15,212.71 252.4,212.76 252.65,212.79 252.9,212.69 253.15,212.76 253.4,212.66 253.65,212.64 253.9,212.65 254.15,212.6 254.4,212.77 254.65,212.68 254.9,212.65 255.15,212.64 255.4,212.65 255.65,212.48 255.9,212.41 256.15,212.55 256.4,212.46 256.65,212.28 256.9,212.25 257.15,212.05 257.4,211.97 257.65,211.5 257.9,210.83 258.15,209.74 258.4,207.46 258.65,203.74 258.9,198.93 259.15,192.3 259.4,184.3 259.65,175.8 259.9,173.64 260.15,174.59 260.4,174.32 260.65,179.23 260.9,182.1 261.15,183.87 261.4,188.14 261.65,192.36 261.9,197.33 262.15,200.69 262.4,203.74 262.65,206.31 262.9,208.13 263.15,209.37 263.4,210.17 263.65,211.1 263.9,211.57 264.15,211.91 264.4,212.21 264.65,212.32 264.9,212.46 265.15,212.56 265.4,212.48 265.65,212.56 265.9,212.52 266.15,212.63 266.4,212.69 266.65,212.67 266.9,212.62 267.15,212.48 267.4,212.3 267.65,212.23 267.9,212.13 268.15,211.88 268.4,211.7 268.65,211.35 268.9,211.07 269.15,210.83 269.4,210.43 269.65,210.29 269.9,209.86 270.15,209.62 270.4,209.69 270.65,209.76 270.9,209.72 271.15,209.81 271.4,210.04 271.65,210.24 271.9,210.54 272.15,210.8 272.4,211.15 272.65,211.52 272.9,211.84 273.15,212.04 273.4,212.11 273.65,212.31 273.9,212.49 274.15,212.56 274.4,212.61 274.65,212.65 274.9,212.64 275.15,212.56 275.4,212.71 275.65,212.65 275.9,212.79 276.15,212.64 276.4,212.75 276.65,212.62 276.9,212.71 277.15,212.63 277.4,212.79 277.65,212.79 277.9,212.75 278.15,212.66 278.4,212.77 278.65,212.69 278.9,212.59 279.15,212.79 279.4,212.77 279.65,212.68 279.9,212.62 280.15,212.62 280.4,212.72 280.65,212.68 280.9,212.65 281.15,212.73 281.4,212.67 281.65,212.76 281.9,212.7 282.15,212.73 282.4,212.66 282.65,212.7 282.9,212.73 283.15,212.7 283.4,212.62 283.65,212.51 283.9,212.52 284.15,212.38 284.4,212.24 284.65,212.09 284.9,212.11 285.15,211.94 285.4,211.78 285.65,211.61 285.9,211.46 286.15,211.31 286.4,211.24 286.65,211.11 286.9,211.21 287.15,211.19 287.4,211.32 287.65,211.46 287.9,211.57 288.15,211.73 288.4,211.73 288.65,212.1 288.9,212.1 289.15,212.25 289.4,212.41 289.65,212.46 289.9,212.47 290.15,212.47 290.4,212.54 290.65,212.72 290.9,212.72 291.15,212.75 291.4,212.69 291.65,212.62 291.9,212.77 292.15,212.73 292.4,212.75 292.65,212.64 292.9,212.77 293.15,212.69 293.4,212.76 293.65,212.72 293.9,212.73 294.15,212.61 294.4,212.79 294.65,212.76 294.9,212.67 295.15,212.59 295.4,212.78 295.65,212.72 295.9,212.79 296.15,212.69 296.4,212.6 296.65,212.71 296.9,212.62 297.15,212.77 297.4,212.76 297.65,212.76 297.9,212.71 298.15,212.73 298.4,212.79 298.65,212.75 298.9,212.76 299.15,212.69 299.4,212.79 299.65,212.66 299.9,212.65 300.15,212.73 300.4,212.6 300.65,212.69 300.9,212.64 301.15,212.71 301.4,212.72 301.65,212.69 301.9,212.75 302.15,212.68 302.4,212.79 302.65,212.65 302.9,212.78 303.15,212.74 303.4,212.65 303.65,212.68 303.9,212.73 304.15,212.71 304.4,212.78 304.65,212.67 304.9,212.68 305.15,212.6 305.4,212.69 305.65,212.75 305.9,212.78 306.15,212.69 306.4,212.72 306.65,212.62 306.9,212.62 307.15,212.38 307.4,212.05 307.65,211.67 307.9,211.16 308.15,210.52 308.4,209.45 308.65,208.37 308.9,207.75 309.15,207.71 309.4,207.58 309.65,207.74 309.9,207.64 310.15,208.64 310.4,208.7 310.65,209.74 310.9,210.05 311.15,210.51 311.4,211.15 311.65,211.59 311.9,211.87 312.15,212.09 312.4,212.18 312.65,212.5 312.9,212.55 313.15,212.66 313.4,212.65 313.65,212.75 313.9,212.66 314.15,212.67 314.4,212.77 314.65,212.75 314.9,212.73 315.15,212.72 315.4,212.75 315.65,212.77 315.9,212.72 316.15,212.78 316.4,212.68 316.65,212.61 316.9,212.72 317.15,212.63 317.4,212.79 317.65,212.67 317.9,212.7 318.15,212.79 318.4,212.69 318.65,212.74 318.9,212.75 319.15,212.65 319.4,212.78 319.65,212.71 319.9,212.66 320.15,212.57 320.4,212.64 320.65,212.6 320.9,212.77 321.15,212.76 321.4,212.67 321.65,212.59 321.9,212.53 322.15,212.67 322.4,212.72 322.65,212.78 322.9,212.76 323.15,212.77 323.4,212.74 323.65,212.71 323.9,212.78 324.15,212.68 324.4,212.6 324.65,212.76 324.9,212.75 325.15,212.68 325.4,212.79 325.65,212.77 325.9,212.78 326.15,212.69 326.4,212.77 326.65,212.71 326.9,212.77 327.15,212.71 327.4,212.79 327.65,212.74 327.9,212.8 328.15,212.71 328.4,212.67 328.65,212.61 328.9,212.63 329.15,212.79 329.4,212.69 329.65,212.73 329.9,212.74 330.15,212.76 330.4,212.66 330.65,212.62 330.9,212.68 331.15,212.73 331.4,212.75 331.65,212.78 331.9,212.73 332.15,212.6 332.4,212.78 332.65,212.74 332.9,212.62 333.15,212.55 333.4,212.65 333.65,212.7 333.9,212.58 334.15,212.6 334.4,212.65 334.65,212.58 334.9,212.55 335.15,212.64 335.4,212.78 335.65,212.71 335.9,212.77 336.15,212.64 336.4,212.58 336.65,212.51 336.9,212.76 337.15,212.63 337.4,212.77 337.65,212.79 337.9,212.74 338.15,212.65 338.4,212.74 338.65,212.73 338.9,212.72 339.15,212.79 339.4,212.66 339.65,212.79 339.9,212.66 340.15,212.71 340.4,212.76 340.65,212.63 340.9,212.58 341.15,212.73 341.4,212.77 341.65,212.69 341.9,212.76 342.15,212.71 342.4,212.71 342.65,212.76 342.9,212.65 343.15,212.66 343.4,212.72 343.65,212.76 343.9,212.76 344.15,212.7 344.4,212.71 344.65,212.76 344.9,212.74 345.15,212.65 345.4,212.79 345.65,212.78 345.9,212.74 346.15,212.5 346.4,212.31 346.65,211.87 346.9,211.2 347.15,210.39 347.4,209.77 347.65,209.49 347.9,210.1" fill="none" stroke="#a0481e" stroke-width="1.0" stroke-linejoin="round" /><polygon points="249.4,252 249.4,251.77 249.65,251.77 249.9,251.71 250.15,251.77 250.4,251.73 250.65,251.61 250.9,251.73 251.15,251.59 251.4,251.78 251.65,251.62 251.9,251.64 252.15,251.62 252.4,251.42 252.65,251.44 252.9,251.4 253.15,251.35 253.4,251.58 253.65,251.54 253.9,251.4 254.15,251.32 254.4,251.38 254.65,251.3 254.9,251.19 255.15,251.12 255.4,251.01 255.65,250.84 255.9,250.87 256.15,250.25 256.4,250.26 256.65,249.97 256.9,250.04 257.15,248.69 257.4,248.18 257.65,246.72 257.9,246.21 258.15,245.5 258.4,241.34 258.65,236.61 258.9,231.75 259.15,222.4 259.4,219.59 259.65,222.46 259.9,217.83 260.15,221.05 260.4,224.26 260.65,232.57 260.9,235.89 261.15,237.12 261.4,236.43 261.65,239.94 261.9,238.53 262.15,237.33 262.4,237.9 262.65,237.35 262.9,242.29 263.15,238.73 263.4,238.38 263.65,241.21 263.9,236.11 264.15,239.04 264.4,235.83 264.65,236.17 264.9,229.56 265.15,224.19 265.4,214.6 265.65,214.6 265.9,214.6 266.15,215.05 266.4,219.67 266.65,226.76 266.9,221.66 267.15,231.07 267.4,231.98 267.65,230.94 267.9,237 268.15,237.91 268.4,240.9 268.65,239.6 268.9,242.24 269.15,242.2 269.4,244.76 269.65,245.09 269.9,246.03 270.15,246.27 270.4,246.38 270.65,245.92 270.9,247.7 271.15,247.47 271.4,248.42 271.65,247.74 271.9,248.64 272.15,248.71 272.4,248.64 272.65,248.99 272.9,248.75 273.15,249.62 273.4,248.84 273.65,249.04 273.9,248.4 274.15,248.79 274.4,248.47 274.65,247.62 274.9,248.09 275.15,246.86 275.4,246.44 275.65,247.66 275.9,246.36 276.15,245.88 276.4,246.09 276.65,246.23 276.9,246.45 277.15,247.79 277.4,246.63 277.65,247.51 277.9,247.92 278.15,248.47 278.4,249.05 278.65,249.79 278.9,250.31 279.15,250.06 279.4,250.54 279.65,250.9 279.9,251.21 280.15,251.1 280.4,251.32 280.65,251.38 280.9,251.24 281.15,251.39 281.4,251.45 281.65,251.48 281.9,251.53 282.15,251.57 282.4,251.56 282.65,251.66 282.9,251.58 283.15,251.51 283.4,251.53 283.65,251.41 283.9,251.57 284.15,251.55 284.4,251.47 284.65,251.45 284.9,251.62 285.15,251.57 285.4,251.61 285.65,251.51 285.9,251.61 286.15,251.76 286.4,251.65 286.65,251.62 286.9,251.49 287.15,251.5 287.4,251.51 287.65,251.78 287.9,251.71 288.15,251.8 288.4,251.67 288.65,251.79 288.9,251.73 289.15,251.72 289.4,251.73 289.65,251.74 289.9,251.84 290.15,251.74 290.4,251.71 290.65,251.66 290.9,251.65 291.15,251.66 291.4,251.6 291.65,251.77 291.9,251.76 292.15,251.82 292.4,251.83 292.65,251.73 292.9,251.73 293.15,251.71 293.4,251.78 293.65,251.84 293.9,251.73 294.15,251.83 294.4,251.8 294.65,251.71 294.9,251.75 295.15,251.8 295.4,251.88 295.65,251.71 295.9,251.87 296.15,251.83 296.4,251.89 296.65,251.87 296.9,251.86 297.15,251.86 297.4,251.78 297.65,251.79 297.9,251.74 298.15,251.72 298.4,251.77 298.65,251.69 298.9,251.77 299.15,251.83 299.4,251.89 299.65,251.82 299.9,251.77 300.15,251.89 300.4,251.81 300.65,251.89 300.9,251.82 301.15,251.9 301.4,251.76 301.65,251.89 301.9,251.77 302.15,251.68 302.4,251.87 302.65,251.78 302.9,251.78 303.15,251.85 303.4,251.69 303.65,251.74 303.9,251.55 304.15,251.61 304.4,251.53 304.65,251.25 304.9,251.18 305.15,250.62 305.4,250.33 305.65,250.27 305.9,249.65 306.15,249.61 306.4,249.21 306.65,249.16 306.9,248.81 307.15,248.42 307.4,248.61 307.65,247.66 307.9,247.93 308.15,248.92 308.4,248.17 308.65,248.59 308.9,248.57 309.15,248.82 309.4,248.8 309.65,248.59 309.9,247.85 310.15,247.23 310.4,246.07 310.65,246.29 310.9,245.29 311.15,247.21 311.4,247.77 311.65,248.39 311.9,249.56 312.15,249.92 312.4,249.98 312.65,250.49 312.9,250.13 313.15,249.43 313.4,248.19 313.65,246.93 313.9,245.35 314.15,244.94 314.4,243.8 314.65,245.26 314.9,246.01 315.15,245.8 315.4,246.07 315.65,246.91 315.9,247.32 316.15,247.59 316.4,247.2 316.65,247.93 316.9,246.89 317.15,248.18 317.4,247.5 317.65,247.67 317.9,247.97 318.15,248.58 318.4,248.68 318.65,249.98 318.9,250.05 319.15,250.93 319.4,251.04 319.65,251.38 319.9,251.45 320.15,251.57 320.4,251.83 320.65,251.76 320.9,251.91 321.15,251.88 321.4,251.83 321.65,251.81 321.9,251.92 322.15,251.79 322.4,251.81 322.65,251.85 322.9,251.89 323.15,251.97 323.4,251.97 323.65,251.86 323.9,251.8 324.15,251.92 324.4,251.83 324.65,251.83 324.9,251.92 325.15,251.88 325.4,251.88 325.65,251.92 325.9,251.85 326.15,251.88 326.4,251.85 326.65,251.95 326.9,251.82 327.15,251.74 327.4,251.8 327.65,251.95 327.9,251.93 328.15,251.87 328.4,251.95 328.65,251.85 328.9,251.91 329.15,251.88 329.4,251.84 329.65,251.88 329.9,251.89 330.15,251.93 330.4,251.83 330.65,251.94 330.9,251.84 331.15,251.97 331.4,251.84 331.65,251.74 331.9,251.87 332.15,251.8 332.4,251.95 332.65,251.87 332.9,251.89 333.15,251.9 333.4,251.78 333.65,251.78 333.9,251.73 334.15,251.79 334.4,251.96 334.65,251.85 334.9,251.97 335.15,251.88 335.4,251.87 335.65,251.94 335.9,251.88 336.15,251.95 336.4,251.85 336.65,251.95 336.9,251.88 337.15,251.91 337.4,251.78 337.65,251.84 337.9,251.88 338.15,251.87 338.4,251.93 338.65,251.94 338.9,251.9 339.15,251.97 339.4,251.89 339.65,251.79 339.9,251.8 340.15,251.78 340.4,251.88 340.65,251.78 340.9,251.88 341.15,251.8 341.4,251.98 341.65,251.83 341.9,251.97 342.15,251.85 342.4,251.96 342.65,251.92 342.9,251.88 343.15,251.96 343.4,251.88 343.65,251.96 343.9,251.89 344.15,251.9 344.4,251.88 344.65,251.9 344.9,251.92 345.15,251.9 345.4,251.77 345.65,251.76 345.9,251.7 346.15,251.7 346.4,251.42 346.65,251.05 346.9,250.81 347.15,250.17 347.4,249.67 347.65,249.68 347.9,250.3 347.9,252" fill="#111" stroke="none" fill-opacity="0.8"/><polyline points="249.4,251.77 249.65,251.77 249.9,251.71 250.15,251.77 250.4,251.73 250.65,251.61 250.9,251.73 251.15,251.59 251.4,251.78 251.65,251.62 251.9,251.64 252.15,251.62 252.4,251.42 252.65,251.44 252.9,251.4 253.15,251.35 253.4,251.58 253.65,251.54 253.9,251.4 254.15,251.32 254.4,251.38 254.65,251.3 254.9,251.19 255.15,251.12 255.4,251.01 255.65,250.84 255.9,250.87 256.15,250.25 256.4,250.26 256.65,249.97 256.9,250.04 257.15,248.69 257.4,248.18 257.65,246.72 257.9,246.21 258.15,245.5 258.4,241.34 258.65,236.61 258.9,231.75 259.15,222.4 259.4,219.59 259.65,222.46 259.9,217.83 260.15,221.05 260.4,224.26 260.65,232.57 260.9,235.89 261.15,237.12 261.4,236.43 261.65,239.94 261.9,238.53 262.15,237.33 262.4,237.9 262.65,237.35 262.9,242.29 263.15,238.73 263.4,238.38 263.65,241.21 263.9,236.11 264.15,239.04 264.4,235.83 264.65,236.17 264.9,229.56 265.15,224.19 265.4,214.6 265.65,214.6 265.9,214.6 266.15,215.05 266.4,219.67 266.65,226.76 266.9,221.66 267.15,231.07 267.4,231.98 267.65,230.94 267.9,237 268.15,237.91 268.4,240.9 268.65,239.6 268.9,242.24 269.15,242.2 269.4,244.76 269.65,245.09 269.9,246.03 270.15,246.27 270.4,246.38 270.65,245.92 270.9,247.7 271.15,247.47 271.4,248.42 271.65,247.74 271.9,248.64 272.15,248.71 272.4,248.64 272.65,248.99 272.9,248.75 273.15,249.62 273.4,248.84 273.65,249.04 273.9,248.4 274.15,248.79 274.4,248.47 274.65,247.62 274.9,248.09 275.15,246.86 275.4,246.44 275.65,247.66 275.9,246.36 276.15,245.88 276.4,246.09 276.65,246.23 276.9,246.45 277.15,247.79 277.4,246.63 277.65,247.51 277.9,247.92 278.15,248.47 278.4,249.05 278.65,249.79 278.9,250.31 279.15,250.06 279.4,250.54 279.65,250.9 279.9,251.21 280.15,251.1 280.4,251.32 280.65,251.38 280.9,251.24 281.15,251.39 281.4,251.45 281.65,251.48 281.9,251.53 282.15,251.57 282.4,251.56 282.65,251.66 282.9,251.58 283.15,251.51 283.4,251.53 283.65,251.41 283.9,251.57 284.15,251.55 284.4,251.47 284.65,251.45 284.9,251.62 285.15,251.57 285.4,251.61 285.65,251.51 285.9,251.61 286.15,251.76 286.4,251.65 286.65,251.62 286.9,251.49 287.15,251.5 287.4,251.51 287.65,251.78 287.9,251.71 288.15,251.8 288.4,251.67 288.65,251.79 288.9,251.73 289.15,251.72 289.4,251.73 289.65,251.74 289.9,251.84 290.15,251.74 290.4,251.71 290.65,251.66 290.9,251.65 291.15,251.66 291.4,251.6 291.65,251.77 291.9,251.76 292.15,251.82 292.4,251.83 292.65,251.73 292.9,251.73 293.15,251.71 293.4,251.78 293.65,251.84 293.9,251.73 294.15,251.83 294.4,251.8 294.65,251.71 294.9,251.75 295.15,251.8 295.4,251.88 295.65,251.71 295.9,251.87 296.15,251.83 296.4,251.89 296.65,251.87 296.9,251.86 297.15,251.86 297.4,251.78 297.65,251.79 297.9,251.74 298.15,251.72 298.4,251.77 298.65,251.69 298.9,251.77 299.15,251.83 299.4,251.89 299.65,251.82 299.9,251.77 300.15,251.89 300.4,251.81 300.65,251.89 300.9,251.82 301.15,251.9 301.4,251.76 301.65,251.89 301.9,251.77 302.15,251.68 302.4,251.87 302.65,251.78 302.9,251.78 303.15,251.85 303.4,251.69 303.65,251.74 303.9,251.55 304.15,251.61 304.4,251.53 304.65,251.25 304.9,251.18 305.15,250.62 305.4,250.33 305.65,250.27 305.9,249.65 306.15,249.61 306.4,249.21 306.65,249.16 306.9,248.81 307.15,248.42 307.4,248.61 307.65,247.66 307.9,247.93 308.15,248.92 308.4,248.17 308.65,248.59 308.9,248.57 309.15,248.82 309.4,248.8 309.65,248.59 309.9,247.85 310.15,247.23 310.4,246.07 310.65,246.29 310.9,245.29 311.15,247.21 311.4,247.77 311.65,248.39 311.9,249.56 312.15,249.92 312.4,249.98 312.65,250.49 312.9,250.13 313.15,249.43 313.4,248.19 313.65,246.93 313.9,245.35 314.15,244.94 314.4,243.8 314.65,245.26 314.9,246.01 315.15,245.8 315.4,246.07 315.65,246.91 315.9,247.32 316.15,247.59 316.4,247.2 316.65,247.93 316.9,246.89 317.15,248.18 317.4,247.5 317.65,247.67 317.9,247.97 318.15,248.58 318.4,248.68 318.65,249.98 318.9,250.05 319.15,250.93 319.4,251.04 319.65,251.38 319.9,251.45 320.15,251.57 320.4,251.83 320.65,251.76 320.9,251.91 321.15,251.88 321.4,251.83 321.65,251.81 321.9,251.92 322.15,251.79 322.4,251.81 322.65,251.85 322.9,251.89 323.15,251.97 323.4,251.97 323.65,251.86 323.9,251.8 324.15,251.92 324.4,251.83 324.65,251.83 324.9,251.92 325.15,251.88 325.4,251.88 325.65,251.92 325.9,251.85 326.15,251.88 326.4,251.85 326.65,251.95 326.9,251.82 327.15,251.74 327.4,251.8 327.65,251.95 327.9,251.93 328.15,251.87 328.4,251.95 328.65,251.85 328.9,251.91 329.15,251.88 329.4,251.84 329.65,251.88 329.9,251.89 330.15,251.93 330.4,251.83 330.65,251.94 330.9,251.84 331.15,251.97 331.4,251.84 331.65,251.74 331.9,251.87 332.15,251.8 332.4,251.95 332.65,251.87 332.9,251.89 333.15,251.9 333.4,251.78 333.65,251.78 333.9,251.73 334.15,251.79 334.4,251.96 334.65,251.85 334.9,251.97 335.15,251.88 335.4,251.87 335.65,251.94 335.9,251.88 336.15,251.95 336.4,251.85 336.65,251.95 336.9,251.88 337.15,251.91 337.4,251.78 337.65,251.84 337.9,251.88 338.15,251.87 338.4,251.93 338.65,251.94 338.9,251.9 339.15,251.97 339.4,251.89 339.65,251.79 339.9,251.8 340.15,251.78 340.4,251.88 340.65,251.78 340.9,251.88 341.15,251.8 341.4,251.98 341.65,251.83 341.9,251.97 342.15,251.85 342.4,251.96 342.65,251.92 342.9,251.88 343.15,251.96 343.4,251.88 343.65,251.96 343.9,251.89 344.15,251.9 344.4,251.88 344.65,251.9 344.9,251.92 345.15,251.9 345.4,251.77 345.65,251.76 345.9,251.7 346.15,251.7 346.4,251.42 346.65,251.05 346.9,250.81 347.15,250.17 347.4,249.67 347.65,249.68 347.9,250.3" fill="none" stroke="#111" stroke-width="1.0" stroke-linejoin="round" /><polygon points="249.4,292.8 249.4,292.72 249.65,292.71 249.9,292.66 250.15,292.71 250.4,292.75 250.65,292.6 250.9,292.68 251.15,292.66 251.4,292.75 251.65,292.61 251.9,292.74 252.15,292.65 252.4,292.66 252.65,292.67 252.9,292.65 253.15,292.72 253.4,292.67 253.65,292.73 253.9,292.66 254.15,292.7 254.4,292.68 254.65,292.58 254.9,292.71 255.15,292.68 255.4,292.64 255.65,292.61 255.9,292.58 256.15,292.53 256.4,292.57 256.65,292.57 256.9,292.66 257.15,292.56 257.4,292.56 257.65,292.46 257.9,292.36 258.15,292.46 258.4,292.63 258.65,292.51 258.9,292.59 259.15,292.49 259.4,292.55 259.65,292.53 259.9,292.44 260.15,292.37 260.4,292.38 260.65,292.41 260.9,292.31 261.15,292.37 261.4,292.14 261.65,292.05 261.9,291.71 262.15,291.67 262.4,291.19 262.65,291.03 262.9,290.79 263.15,290.27 263.4,290.34 263.65,289.69 263.9,288.35 264.15,288.05 264.4,287 264.65,282.86 264.9,278.25 265.15,278.68 265.4,267.2 265.65,253.8 265.9,259.56 266.15,253.8 266.4,262.15 266.65,264.75 266.9,265.02 267.15,267.17 267.4,271.92 267.65,280.01 267.9,278.35 268.15,282.44 268.4,282.76 268.65,283.38 268.9,285.58 269.15,286.13 269.4,286 269.65,285.85 269.9,287.4 270.15,288.25 270.4,289 270.65,288.92 270.9,289.55 271.15,290.25 271.4,290.03 271.65,289.91 271.9,290.76 272.15,290.21 272.4,291.2 272.65,290.87 272.9,291.19 273.15,291.63 273.4,291.33 273.65,291.42 273.9,291.29 274.15,291.37 274.4,291.72 274.65,291.44 274.9,291.38 275.15,290.86 275.4,291.11 275.65,290.3 275.9,290.57 276.15,290.62 276.4,290.48 276.65,290.35 276.9,289.85 277.15,290.03 277.4,289.19 277.65,290.09 277.9,289.31 278.15,289.89 278.4,289.8 278.65,290.12 278.9,290.85 279.15,290.72 279.4,291.26 279.65,291.63 279.9,291.81 280.15,291.91 280.4,292.23 280.65,292.21 280.9,292.24 281.15,292.15 281.4,292.41 281.65,292.4 281.9,292.47 282.15,292.33 282.4,292.59 282.65,292.57 282.9,292.49 283.15,292.57 283.4,292.51 283.65,292.53 283.9,292.63 284.15,292.57 284.4,292.51 284.65,292.43 284.9,292.47 285.15,292.49 285.4,292.53 285.65,292.51 285.9,292.43 286.15,292.58 286.4,292.53 286.65,292.43 286.9,292.49 287.15,292.65 287.4,292.57 287.65,292.65 287.9,292.65 288.15,292.61 288.4,292.57 288.65,292.48 288.9,292.59 289.15,292.64 289.4,292.59 289.65,292.64 289.9,292.59 290.15,292.66 290.4,292.7 290.65,292.54 290.9,292.51 291.15,292.67 291.4,292.6 291.65,292.6 291.9,292.53 292.15,292.47 292.4,292.65 292.65,292.65 292.9,292.71 293.15,292.67 293.4,292.62 293.65,292.51 293.9,292.48 294.15,292.61 294.4,292.69 294.65,292.58 294.9,292.5 295.15,292.59 295.4,292.61 295.65,292.69 295.9,292.64 296.15,292.68 296.4,292.59 296.65,292.71 296.9,292.63 297.15,292.71 297.4,292.66 297.65,292.63 297.9,292.71 298.15,292.58 298.4,292.6 298.65,292.55 298.9,292.69 299.15,292.73 299.4,292.65 299.65,292.66 299.9,292.64 300.15,292.64 300.4,292.64 300.65,292.57 300.9,292.6 301.15,292.5 301.4,292.59 301.65,292.68 301.9,292.7 302.15,292.59 302.4,292.57 302.65,292.7 302.9,292.65 303.15,292.6 303.4,292.68 303.65,292.6 303.9,292.52 304.15,292.65 304.4,292.65 304.65,292.72 304.9,292.62 305.15,292.72 305.4,292.58 305.65,292.66 305.9,292.63 306.15,292.69 306.4,292.7 306.65,292.59 306.9,292.55 307.15,292.57 307.4,292.68 307.65,292.6 307.9,292.5 308.15,292.59 308.4,292.67 308.65,292.52 308.9,292.63 309.15,292.58 309.4,292.48 309.65,292.68 309.9,292.61 310.15,292.51 310.4,292.58 310.65,292.47 310.9,292.56 311.15,292.43 311.4,292.53 311.65,292.42 311.9,292.45 312.15,292.34 312.4,292.4 312.65,292.22 312.9,292.28 313.15,292.22 313.4,292.01 313.65,292.12 313.9,291.82 314.15,291.83 314.4,291.52 314.65,290.98 314.9,290.66 315.15,289.88 315.4,288.9 315.65,287.46 315.9,287.74 316.15,285.11 316.4,284.53 316.65,283.96 316.9,285.59 317.15,286.15 317.4,287.82 317.65,288.37 317.9,289.47 318.15,289.79 318.4,290.5 318.65,290.66 318.9,290.82 319.15,291.49 319.4,291.49 319.65,291.47 319.9,291.58 320.15,292.01 320.4,291.82 320.65,292.22 320.9,292.1 321.15,292.18 321.4,292.19 321.65,292.28 321.9,292.33 322.15,292.22 322.4,292.14 322.65,292.3 322.9,292.38 323.15,292.44 323.4,292.36 323.65,292.36 323.9,292.37 324.15,292.45 324.4,292.37 324.65,292.55 324.9,292.48 325.15,292.49 325.4,292.56 325.65,292.53 325.9,292.59 326.15,292.63 326.4,292.61 326.65,292.61 326.9,292.68 327.15,292.61 327.4,292.61 327.65,292.65 327.9,292.68 328.15,292.57 328.4,292.58 328.65,292.53 328.9,292.56 329.15,292.55 329.4,292.69 329.65,292.69 329.9,292.59 330.15,292.5 330.4,292.47 330.65,292.56 330.9,292.66 331.15,292.56 331.4,292.59 331.65,292.71 331.9,292.67 332.15,292.73 332.4,292.74 332.65,292.66 332.9,292.58 333.15,292.58 333.4,292.7 333.65,292.6 333.9,292.52 334.15,292.56 334.4,292.54 334.65,292.59 334.9,292.74 335.15,292.65 335.4,292.71 335.65,292.67 335.9,292.69 336.15,292.64 336.4,292.68 336.65,292.58 336.9,292.58 337.15,292.72 337.4,292.72 337.65,292.69 337.9,292.57 338.15,292.58 338.4,292.5 338.65,292.71 338.9,292.73 339.15,292.63 339.4,292.72 339.65,292.67 339.9,292.69 340.15,292.62 340.4,292.56 340.65,292.71 340.9,292.72 341.15,292.64 341.4,292.56 341.65,292.55 341.9,292.73 342.15,292.6 342.4,292.71 342.65,292.75 342.9,292.77 343.15,292.73 343.4,292.71 343.65,292.71 343.9,292.66 344.15,292.61 344.4,292.52 344.65,292.67 344.9,292.77 345.15,292.75 345.4,292.62 345.65,292.72 345.9,292.63 346.15,292.74 346.4,292.65 346.65,292.71 346.9,292.72 347.15,292.65 347.4,292.74 347.65,292.65 347.9,292.75 347.9,292.8" fill="#1e1ee0" stroke="none" fill-opacity="0.5"/><polyline points="249.4,292.72 249.65,292.71 249.9,292.66 250.15,292.71 250.4,292.75 250.65,292.6 250.9,292.68 251.15,292.66 251.4,292.75 251.65,292.61 251.9,292.74 252.15,292.65 252.4,292.66 252.65,292.67 252.9,292.65 253.15,292.72 253.4,292.67 253.65,292.73 253.9,292.66 254.15,292.7 254.4,292.68 254.65,292.58 254.9,292.71 255.15,292.68 255.4,292.64 255.65,292.61 255.9,292.58 256.15,292.53 256.4,292.57 256.65,292.57 256.9,292.66 257.15,292.56 257.4,292.56 257.65,292.46 257.9,292.36 258.15,292.46 258.4,292.63 258.65,292.51 258.9,292.59 259.15,292.49 259.4,292.55 259.65,292.53 259.9,292.44 260.15,292.37 260.4,292.38 260.65,292.41 260.9,292.31 261.15,292.37 261.4,292.14 261.65,292.05 261.9,291.71 262.15,291.67 262.4,291.19 262.65,291.03 262.9,290.79 263.15,290.27 263.4,290.34 263.65,289.69 263.9,288.35 264.15,288.05 264.4,287 264.65,282.86 264.9,278.25 265.15,278.68 265.4,267.2 265.65,253.8 265.9,259.56 266.15,253.8 266.4,262.15 266.65,264.75 266.9,265.02 267.15,267.17 267.4,271.92 267.65,280.01 267.9,278.35 268.15,282.44 268.4,282.76 268.65,283.38 268.9,285.58 269.15,286.13 269.4,286 269.65,285.85 269.9,287.4 270.15,288.25 270.4,289 270.65,288.92 270.9,289.55 271.15,290.25 271.4,290.03 271.65,289.91 271.9,290.76 272.15,290.21 272.4,291.2 272.65,290.87 272.9,291.19 273.15,291.63 273.4,291.33 273.65,291.42 273.9,291.29 274.15,291.37 274.4,291.72 274.65,291.44 274.9,291.38 275.15,290.86 275.4,291.11 275.65,290.3 275.9,290.57 276.15,290.62 276.4,290.48 276.65,290.35 276.9,289.85 277.15,290.03 277.4,289.19 277.65,290.09 277.9,289.31 278.15,289.89 278.4,289.8 278.65,290.12 278.9,290.85 279.15,290.72 279.4,291.26 279.65,291.63 279.9,291.81 280.15,291.91 280.4,292.23 280.65,292.21 280.9,292.24 281.15,292.15 281.4,292.41 281.65,292.4 281.9,292.47 282.15,292.33 282.4,292.59 282.65,292.57 282.9,292.49 283.15,292.57 283.4,292.51 283.65,292.53 283.9,292.63 284.15,292.57 284.4,292.51 284.65,292.43 284.9,292.47 285.15,292.49 285.4,292.53 285.65,292.51 285.9,292.43 286.15,292.58 286.4,292.53 286.65,292.43 286.9,292.49 287.15,292.65 287.4,292.57 287.65,292.65 287.9,292.65 288.15,292.61 288.4,292.57 288.65,292.48 288.9,292.59 289.15,292.64 289.4,292.59 289.65,292.64 289.9,292.59 290.15,292.66 290.4,292.7 290.65,292.54 290.9,292.51 291.15,292.67 291.4,292.6 291.65,292.6 291.9,292.53 292.15,292.47 292.4,292.65 292.65,292.65 292.9,292.71 293.15,292.67 293.4,292.62 293.65,292.51 293.9,292.48 294.15,292.61 294.4,292.69 294.65,292.58 294.9,292.5 295.15,292.59 295.4,292.61 295.65,292.69 295.9,292.64 296.15,292.68 296.4,292.59 296.65,292.71 296.9,292.63 297.15,292.71 297.4,292.66 297.65,292.63 297.9,292.71 298.15,292.58 298.4,292.6 298.65,292.55 298.9,292.69 299.15,292.73 299.4,292.65 299.65,292.66 299.9,292.64 300.15,292.64 300.4,292.64 300.65,292.57 300.9,292.6 301.15,292.5 301.4,292.59 301.65,292.68 301.9,292.7 302.15,292.59 302.4,292.57 302.65,292.7 302.9,292.65 303.15,292.6 303.4,292.68 303.65,292.6 303.9,292.52 304.15,292.65 304.4,292.65 304.65,292.72 304.9,292.62 305.15,292.72 305.4,292.58 305.65,292.66 305.9,292.63 306.15,292.69 306.4,292.7 306.65,292.59 306.9,292.55 307.15,292.57 307.4,292.68 307.65,292.6 307.9,292.5 308.15,292.59 308.4,292.67 308.65,292.52 308.9,292.63 309.15,292.58 309.4,292.48 309.65,292.68 309.9,292.61 310.15,292.51 310.4,292.58 310.65,292.47 310.9,292.56 311.15,292.43 311.4,292.53 311.65,292.42 311.9,292.45 312.15,292.34 312.4,292.4 312.65,292.22 312.9,292.28 313.15,292.22 313.4,292.01 313.65,292.12 313.9,291.82 314.15,291.83 314.4,291.52 314.65,290.98 314.9,290.66 315.15,289.88 315.4,288.9 315.65,287.46 315.9,287.74 316.15,285.11 316.4,284.53 316.65,283.96 316.9,285.59 317.15,286.15 317.4,287.82 317.65,288.37 317.9,289.47 318.15,289.79 318.4,290.5 318.65,290.66 318.9,290.82 319.15,291.49 319.4,291.49 319.65,291.47 319.9,291.58 320.15,292.01 320.4,291.82 320.65,292.22 320.9,292.1 321.15,292.18 321.4,292.19 321.65,292.28 321.9,292.33 322.15,292.22 322.4,292.14 322.65,292.3 322.9,292.38 323.15,292.44 323.4,292.36 323.65,292.36 323.9,292.37 324.15,292.45 324.4,292.37 324.65,292.55 324.9,292.48 325.15,292.49 325.4,292.56 325.65,292.53 325.9,292.59 326.15,292.63 326.4,292.61 326.65,292.61 326.9,292.68 327.15,292.61 327.4,292.61 327.65,292.65 327.9,292.68 328.15,292.57 328.4,292.58 328.65,292.53 328.9,292.56 329.15,292.55 329.4,292.69 329.65,292.69 329.9,292.59 330.15,292.5 330.4,292.47 330.65,292.56 330.9,292.66 331.15,292.56 331.4,292.59 331.65,292.71 331.9,292.67 332.15,292.73 332.4,292.74 332.65,292.66 332.9,292.58 333.15,292.58 333.4,292.7 333.65,292.6 333.9,292.52 334.15,292.56 334.4,292.54 334.65,292.59 334.9,292.74 335.15,292.65 335.4,292.71 335.65,292.67 335.9,292.69 336.15,292.64 336.4,292.68 336.65,292.58 336.9,292.58 337.15,292.72 337.4,292.72 337.65,292.69 337.9,292.57 338.15,292.58 338.4,292.5 338.65,292.71 338.9,292.73 339.15,292.63 339.4,292.72 339.65,292.67 339.9,292.69 340.15,292.62 340.4,292.56 340.65,292.71 340.9,292.72 341.15,292.64 341.4,292.56 341.65,292.55 341.9,292.73 342.15,292.6 342.4,292.71 342.65,292.75 342.9,292.77 343.15,292.73 343.4,292.71 343.65,292.71 343.9,292.66 344.15,292.61 344.4,292.52 344.65,292.67 344.9,292.77 345.15,292.75 345.4,292.62 345.65,292.72 345.9,292.63 346.15,292.74 346.4,292.65 346.65,292.71 346.9,292.72 347.15,292.65 347.4,292.74 347.65,292.65 347.9,292.75" fill="none" stroke="#1e1ee0" stroke-width="1.0" stroke-linejoin="round" /><text x="261.8" y="302.3" font-size="6.1" fill="#3a3a3a" text-anchor="middle" font-weight="bold"  style="font-family:Liberation Mono,monospace">3060</text><text x="285.5" y="302.3" font-size="6.1" fill="#3a3a3a" text-anchor="middle" font-weight="bold"  style="font-family:Liberation Mono,monospace">3080</text><text x="311" y="302.3" font-size="6.1" fill="#3a3a3a" text-anchor="middle" font-weight="bold"  style="font-family:Liberation Mono,monospace">3100</text><text x="335.8" y="302.3" font-size="6.1" fill="#3a3a3a" text-anchor="middle" font-weight="bold"  style="font-family:Liberation Mono,monospace">3120</text><text x="302.2" y="307.8" font-size="5.8" fill="#777" text-anchor="middle" font-weight="normal"  style="font-family:Liberation Mono,monospace">m/z</text>
<text x="30.5" y="176.9" font-size="9.5" fill="#333" text-anchor="start" font-weight="normal"  >IgG2/3</text>
<text x="85" y="183.5" font-size="9.5" fill="#333" text-anchor="start" font-weight="normal"  >IgG1</text>
<text x="28" y="189.6" font-size="10.6" fill="#111" text-anchor="start" font-weight="normal"  >(i)</text>
<text x="27.6" y="235.8" font-size="10.8" fill="#111" text-anchor="start" font-weight="normal"  >(ii)</text>
<text x="27.6" y="278.5" font-size="10.8" fill="#111" text-anchor="start" font-weight="normal"  >(iii)</text>
<text x="146.2" y="176" font-size="9.5" fill="#333" text-anchor="start" font-weight="normal"  >IgG2/3</text>
<text x="200.4" y="182.8" font-size="9.5" fill="#333" text-anchor="start" font-weight="normal"  >IgG1</text>
<text x="304.3" y="203.4" font-size="9.5" fill="#333" text-anchor="start" font-weight="normal"  >IgG1</text>
<text x="6.4" y="326.7" font-size="14.8" fill="#111" text-anchor="start" font-weight="normal"  >C</text>
<line x1="52.3" y1="334.2" x2="52.3" y2="521" stroke="#666" stroke-width="1"/>
<line x1="52.3" y1="520.8" x2="333" y2="520.8" stroke="#666" stroke-width="1"/>
<line x1="49.6" y1="334.7" x2="52.3" y2="334.7" stroke="#666" stroke-width="0.8"/>
<text x="48.2" y="337.6" font-size="8.2" fill="#111" text-anchor="end" font-weight="bold"  >200</text>
<line x1="49.6" y1="381.2" x2="52.3" y2="381.2" stroke="#666" stroke-width="0.8"/>
<text x="48.2" y="384.1" font-size="8.2" fill="#111" text-anchor="end" font-weight="bold"  >150</text>
<line x1="49.6" y1="427.7" x2="52.3" y2="427.7" stroke="#666" stroke-width="0.8"/>
<text x="48.2" y="430.6" font-size="8.2" fill="#111" text-anchor="end" font-weight="bold"  >100</text>
<line x1="49.6" y1="474.2" x2="52.3" y2="474.2" stroke="#666" stroke-width="0.8"/>
<text x="48.2" y="477.1" font-size="8.2" fill="#111" text-anchor="end" font-weight="bold"  >50</text>
<line x1="49.6" y1="520.7" x2="52.3" y2="520.7" stroke="#666" stroke-width="0.8"/>
<text x="48.2" y="523.6" font-size="8.2" fill="#111" text-anchor="end" font-weight="bold"  >0</text>
<line x1="52.4" y1="520.8" x2="52.4" y2="523.4" stroke="#666" stroke-width="0.8"/>
<text x="52.4" y="533.3" font-size="8.3" fill="#111" text-anchor="middle" font-weight="bold"  >2400</text>
<line x1="108.5" y1="520.8" x2="108.5" y2="523.4" stroke="#666" stroke-width="0.8"/>
<text x="108.5" y="533.3" font-size="8.3" fill="#111" text-anchor="middle" font-weight="bold"  >2600</text>
<line x1="164.6" y1="520.8" x2="164.6" y2="523.4" stroke="#666" stroke-width="0.8"/>
<text x="164.6" y="533.3" font-size="8.3" fill="#111" text-anchor="middle" font-weight="bold"  >2800</text>
<line x1="220.7" y1="520.8" x2="220.7" y2="523.4" stroke="#666" stroke-width="0.8"/>
<text x="220.7" y="533.3" font-size="8.3" fill="#111" text-anchor="middle" font-weight="bold"  >3000</text>
<line x1="276.8" y1="520.8" x2="276.8" y2="523.4" stroke="#666" stroke-width="0.8"/>
<text x="276.8" y="533.3" font-size="8.3" fill="#111" text-anchor="middle" font-weight="bold"  >3200</text>
<line x1="332.9" y1="520.8" x2="332.9" y2="523.4" stroke="#666" stroke-width="0.8"/>
<text x="332.9" y="533.3" font-size="8.3" fill="#111" text-anchor="middle" font-weight="bold"  >3400</text>
<text x="192.3" y="546.8" font-size="9" fill="#111" text-anchor="middle" font-weight="bold"  >m/z</text>
<text transform="translate(28.3,427.6) rotate(-90)" font-size="9.8" font-weight="bold" fill="#111" text-anchor="middle">Peak Intensity (mV)</text>
<ellipse cx="145.7" cy="412.5" rx="17.6" ry="58.5" fill="none" stroke="#c48a7a" stroke-width="1"/>
<ellipse cx="191.8" cy="393" rx="20.4" ry="49" fill="none" stroke="#c48a7a" stroke-width="1"/>
<ellipse cx="86" cy="503" rx="11.8" ry="14.7" fill="none" stroke="#c48a7a" stroke-width="1"/>
<ellipse cx="104.8" cy="512.8" rx="11.7" ry="10" fill="none" stroke="#c48a7a" stroke-width="1"/>
<ellipse cx="128.8" cy="508.5" rx="11" ry="13.9" fill="none" stroke="#c48a7a" stroke-width="1"/>
<ellipse cx="151.5" cy="507.5" rx="11.7" ry="13.9" fill="none" stroke="#c48a7a" stroke-width="1"/>
<ellipse cx="200.3" cy="501.7" rx="13.4" ry="17.7" fill="none" stroke="#c48a7a" stroke-width="1"/>
<ellipse cx="235.6" cy="474.6" rx="13.1" ry="27.8" fill="none" stroke="#c48a7a" stroke-width="1"/>
<ellipse cx="246.5" cy="511.7" rx="11.7" ry="13.4" fill="none" stroke="#c48a7a" stroke-width="1"/>
<ellipse cx="288.8" cy="518.7" rx="12.5" ry="5.7" fill="none" stroke="#c48a7a" stroke-width="1"/>
<line x1="52.3" y1="520.8" x2="333" y2="520.8" stroke="#666" stroke-width="1"/>
<rect x="136.15" y="378.55" width="3.3" height="3.3" fill="#fff" stroke="#2222c8" stroke-width="1.25"/><circle cx="138.8" cy="385.8" r="1.6" fill="#fff" stroke="#2222c8" stroke-width="1.25"/><circle cx="146.6" cy="457.4" r="1.6" fill="#fff" stroke="#c0502c" stroke-width="1.25"/><rect x="146.35" y="458.55" width="3.3" height="3.3" fill="#fff" stroke="#c0502c" stroke-width="1.25"/><rect x="181.95" y="365.25" width="3.3" height="3.3" fill="#fff" stroke="#2222c8" stroke-width="1.25"/><circle cx="182.8" cy="372.7" r="1.6" fill="#fff" stroke="#2222c8" stroke-width="1.25"/><rect x="190" y="430.15" width="5.2" height="4.5" rx="1.5" fill="#7d6424"/><circle cx="192.8" cy="432.4" r="0.8" fill="#c8a050"/><rect x="79.6" y="494.45" width="5.2" height="4.5" rx="1.5" fill="#2a2ae0"/><circle cx="82.4" cy="496.7" r="0.8" fill="#6a6af0"/><rect x="88.2" y="506.35" width="5.2" height="4.5" rx="1.5" fill="#c0502c"/><circle cx="91" cy="508.6" r="0.8" fill="#e08060"/><rect x="95.6" y="510.35" width="5.2" height="4.5" rx="1.5" fill="#2a2ae0"/><circle cx="98.4" cy="512.6" r="0.8" fill="#6a6af0"/><rect x="104" y="511.35" width="5.2" height="4.5" rx="1.5" fill="#7d6424"/><circle cx="106.8" cy="513.6" r="0.8" fill="#d0b060"/><rect x="124.6" y="503.95" width="5.2" height="4.5" rx="1.5" fill="#2a2ae0"/><circle cx="127.4" cy="506.2" r="0.8" fill="#6a6af0"/><rect x="133.3" y="509.85" width="5.2" height="4.5" rx="1.5" fill="#7d6424"/><circle cx="136.1" cy="512.1" r="0.8" fill="#c8a050"/><rect x="140.7" y="506.65" width="5.2" height="4.5" rx="1.5" fill="#4a22d0"/><circle cx="143.5" cy="508.9" r="0.8" fill="#8a6af0"/><rect x="148.8" y="507.35" width="5.2" height="4.5" rx="1.5" fill="#7d6424"/><circle cx="151.6" cy="509.6" r="0.8" fill="#c8a050"/><rect x="202.65" y="496.35" width="3.3" height="3.3" fill="#fff" stroke="#c0502c" stroke-width="1.25"/><circle cx="203" cy="502.3" r="1.6" fill="#fff" stroke="#c0502c" stroke-width="1.25"/><rect x="194.35" y="502.05" width="3.3" height="3.3" fill="#fff" stroke="#2222c8" stroke-width="1.25"/><circle cx="194.5" cy="507.3" r="1.6" fill="#fff" stroke="#2222c8" stroke-width="1.25"/><rect x="227.25" y="455.75" width="3.3" height="3.3" fill="#fff" stroke="#2222c8" stroke-width="1.25"/><circle cx="228.5" cy="460.8" r="1.6" fill="#fff" stroke="#2222c8" stroke-width="1.25"/><rect x="237.15" y="485.45" width="3.3" height="3.3" fill="#fff" stroke="#c0502c" stroke-width="1.25"/><circle cx="237.3" cy="491.8" r="1.6" fill="#fff" stroke="#c0502c" stroke-width="1.25"/><rect x="237.9" y="511.05" width="5.2" height="4.5" rx="1.5" fill="#2a2ae0"/><circle cx="240.7" cy="513.3" r="0.8" fill="#6a6af0"/><rect x="247" y="507.95" width="5.2" height="4.5" rx="1.5" fill="#a86a2c"/><circle cx="249.8" cy="510.2" r="0.8" fill="#e0b070"/><rect x="283" y="517.05" width="5.2" height="4.5" rx="1.5" fill="#2a2ae0"/><circle cx="285.8" cy="519.3" r="0.8" fill="#6a6af0"/><rect x="292.4" y="517.05" width="5.2" height="4.5" rx="1.5" fill="#a86a2c"/><circle cx="295.2" cy="519.3" r="0.8" fill="#e0b070"/>
<circle cx="281.9" cy="333.7" r="1.6" fill="#fff" stroke="#b04a2c" stroke-width="1.25"/>
<text x="295.2" y="336.9" font-size="9.7" fill="#333" text-anchor="start" font-weight="normal"  >IgG1-H</text>
<rect x="280.25" y="345.45" width="3.3" height="3.3" fill="#fff" stroke="#b04a2c" stroke-width="1.25"/>
<text x="295.2" y="350.3" font-size="9.7" fill="#333" text-anchor="start" font-weight="normal"  >IgG1-D</text>
<circle cx="281.9" cy="360.5" r="1.6" fill="#fff" stroke="#2222c8" stroke-width="1.25"/>
<text x="295.2" y="363.7" font-size="9.7" fill="#333" text-anchor="start" font-weight="normal"  >IgG2/3-H</text>
<rect x="280.25" y="372.25" width="3.3" height="3.3" fill="#fff" stroke="#2222c8" stroke-width="1.25"/>
<text x="295.2" y="377.1" font-size="9.7" fill="#333" text-anchor="start" font-weight="normal"  >IgG2/3-D</text>
<line x1="107.2" y1="366" x2="114.5" y2="372.5" stroke="#444" stroke-width="0.7"/><line x1="121.8" y1="366" x2="114.5" y2="372.5" stroke="#444" stroke-width="0.7"/><line x1="114.5" y1="372.5" x2="114.5" y2="392.6" stroke="#444" stroke-width="0.7"/><line x1="107.2" y1="357.9" x2="107.2" y2="366" stroke="#444" stroke-width="0.7"/><line x1="121.8" y1="357.9" x2="121.8" y2="366" stroke="#444" stroke-width="0.7"/><line x1="114.5" y1="388" x2="120.5" y2="388" stroke="#444" stroke-width="0.7"/><rect x="104.45" y="355.15" width="5.5" height="5.5" fill="#1414c8" stroke="#000050" stroke-width="0.7"/><rect x="119.05" y="355.15" width="5.5" height="5.5" fill="#1414c8" stroke="#000050" stroke-width="0.7"/><circle cx="107.2" cy="366" r="2.85" fill="#30621a" stroke="#142a08" stroke-width="0.8"/><circle cx="121.8" cy="366" r="2.85" fill="#30621a" stroke="#142a08" stroke-width="0.8"/><circle cx="114.5" cy="372.5" r="2.85" fill="#30621a" stroke="#142a08" stroke-width="0.8"/><rect x="111.75" y="377.15" width="5.5" height="5.5" fill="#1414c8" stroke="#000050" stroke-width="0.7"/><rect x="111.75" y="385.25" width="5.5" height="5.5" fill="#1414c8" stroke="#000050" stroke-width="0.7"/><polygon points="119.5,388 125.8,384.7 125.8,391.3" fill="#7e4a22" stroke="#3a2008" stroke-width="0.6"/><line x1="216.25" y1="361.1" x2="223.5" y2="367.7" stroke="#444" stroke-width="0.7"/><line x1="230.75" y1="361.1" x2="223.5" y2="367.7" stroke="#444" stroke-width="0.7"/><line x1="223.5" y1="367.7" x2="223.5" y2="387" stroke="#444" stroke-width="0.7"/><line x1="216.25" y1="353.2" x2="216.25" y2="361.1" stroke="#444" stroke-width="0.7"/><line x1="230.75" y1="353.2" x2="230.75" y2="361.1" stroke="#444" stroke-width="0.7"/><line x1="223.5" y1="382.5" x2="229.5" y2="382.5" stroke="#444" stroke-width="0.7"/><line x1="223.5" y1="338.5" x2="223.5" y2="343.8" stroke="#444" stroke-width="0.7"/><path d="M211.8,348.6 A16.66,16.66 0 0 1 235.2,348.6" fill="none" stroke="#4a4a4a" stroke-width="1.0"/><circle cx="223.5" cy="338.5" r="2.75" fill="#ecec28" stroke="#5a5a00" stroke-width="0.7"/><rect x="213.5" y="350.45" width="5.5" height="5.5" fill="#1414c8" stroke="#000050" stroke-width="0.7"/><rect x="228" y="350.45" width="5.5" height="5.5" fill="#1414c8" stroke="#000050" stroke-width="0.7"/><circle cx="216.25" cy="361.1" r="2.85" fill="#30621a" stroke="#142a08" stroke-width="0.8"/><circle cx="230.75" cy="361.1" r="2.85" fill="#30621a" stroke="#142a08" stroke-width="0.8"/><circle cx="223.5" cy="367.7" r="2.85" fill="#30621a" stroke="#142a08" stroke-width="0.8"/><rect x="220.75" y="372.85" width="5.5" height="5.5" fill="#1414c8" stroke="#000050" stroke-width="0.7"/><rect x="220.75" y="379.75" width="5.5" height="5.5" fill="#1414c8" stroke="#000050" stroke-width="0.7"/><polygon points="228.5,382.5 234.8,379.2 234.8,385.8" fill="#7e4a22" stroke="#3a2008" stroke-width="0.6"/><line x1="241.05" y1="420.7" x2="248.2" y2="427.2" stroke="#444" stroke-width="0.7"/><line x1="255.35" y1="420.7" x2="248.2" y2="427.2" stroke="#444" stroke-width="0.7"/><line x1="248.2" y1="427.2" x2="248.2" y2="446.5" stroke="#444" stroke-width="0.7"/><line x1="241.05" y1="412.1" x2="241.05" y2="420.7" stroke="#444" stroke-width="0.7"/><line x1="255.35" y1="412.1" x2="255.35" y2="420.7" stroke="#444" stroke-width="0.7"/><line x1="241.05" y1="405.4" x2="241.05" y2="412.1" stroke="#444" stroke-width="0.7"/><line x1="255.35" y1="405.4" x2="255.35" y2="412.1" stroke="#444" stroke-width="0.7"/><line x1="248.2" y1="441.9" x2="254.2" y2="441.9" stroke="#444" stroke-width="0.7"/><circle cx="241.05" cy="405.4" r="2.75" fill="#ecec28" stroke="#5a5a00" stroke-width="0.7"/><circle cx="255.35" cy="405.4" r="2.75" fill="#ecec28" stroke="#5a5a00" stroke-width="0.7"/><rect x="238.3" y="409.35" width="5.5" height="5.5" fill="#1414c8" stroke="#000050" stroke-width="0.7"/><rect x="252.6" y="409.35" width="5.5" height="5.5" fill="#1414c8" stroke="#000050" stroke-width="0.7"/><circle cx="241.05" cy="420.7" r="2.85" fill="#30621a" stroke="#142a08" stroke-width="0.8"/><circle cx="255.35" cy="420.7" r="2.85" fill="#30621a" stroke="#142a08" stroke-width="0.8"/><circle cx="248.2" cy="427.2" r="2.85" fill="#30621a" stroke="#142a08" stroke-width="0.8"/><rect x="245.45" y="431.25" width="5.5" height="5.5" fill="#1414c8" stroke="#000050" stroke-width="0.7"/><rect x="245.45" y="439.15" width="5.5" height="5.5" fill="#1414c8" stroke="#000050" stroke-width="0.7"/><polygon points="253.2,441.9 259.5,438.6 259.5,445.2" fill="#7e4a22" stroke="#3a2008" stroke-width="0.6"/><line x1="73" y1="455.9" x2="80.3" y2="461.8" stroke="#444" stroke-width="0.7"/><line x1="87.6" y1="455.9" x2="80.3" y2="461.8" stroke="#444" stroke-width="0.7"/><line x1="80.3" y1="461.8" x2="80.3" y2="482" stroke="#444" stroke-width="0.7"/><line x1="80.3" y1="477.5" x2="86.3" y2="477.5" stroke="#444" stroke-width="0.7"/><line x1="80.3" y1="439.2" x2="80.3" y2="445.7" stroke="#444" stroke-width="0.7"/><path d="M68.7,452.2 A13.6,13.6 0 0 1 91.9,452.2" fill="none" stroke="#4a4a4a" stroke-width="1.0"/><rect x="77.55" y="436.45" width="5.5" height="5.5" fill="#1414c8" stroke="#000050" stroke-width="0.7"/><circle cx="73" cy="455.9" r="2.85" fill="#30621a" stroke="#142a08" stroke-width="0.8"/><circle cx="87.6" cy="455.9" r="2.85" fill="#30621a" stroke="#142a08" stroke-width="0.8"/><circle cx="80.3" cy="461.8" r="2.85" fill="#30621a" stroke="#142a08" stroke-width="0.8"/><rect x="77.55" y="466.85" width="5.5" height="5.5" fill="#1414c8" stroke="#000050" stroke-width="0.7"/><rect x="77.55" y="474.75" width="5.5" height="5.5" fill="#1414c8" stroke="#000050" stroke-width="0.7"/><polygon points="85.3,477.5 91.6,474.2 91.6,480.8" fill="#7e4a22" stroke="#3a2008" stroke-width="0.6"/><line x1="99.4" y1="473.9" x2="106.4" y2="480.5" stroke="#444" stroke-width="0.7"/><line x1="113.4" y1="473.9" x2="106.4" y2="480.5" stroke="#444" stroke-width="0.7"/><line x1="106.4" y1="480.5" x2="106.4" y2="500" stroke="#444" stroke-width="0.7"/><line x1="99.4" y1="466.2" x2="99.4" y2="473.9" stroke="#444" stroke-width="0.7"/><line x1="113.4" y1="466.2" x2="113.4" y2="473.9" stroke="#444" stroke-width="0.7"/><rect x="96.65" y="463.45" width="5.5" height="5.5" fill="#1414c8" stroke="#000050" stroke-width="0.7"/><rect x="110.65" y="463.45" width="5.5" height="5.5" fill="#1414c8" stroke="#000050" stroke-width="0.7"/><circle cx="99.4" cy="473.9" r="2.85" fill="#30621a" stroke="#142a08" stroke-width="0.8"/><circle cx="113.4" cy="473.9" r="2.85" fill="#30621a" stroke="#142a08" stroke-width="0.8"/><circle cx="106.4" cy="480.5" r="2.85" fill="#30621a" stroke="#142a08" stroke-width="0.8"/><rect x="103.65" y="485.05" width="5.5" height="5.5" fill="#1414c8" stroke="#000050" stroke-width="0.7"/><rect x="103.65" y="492.55" width="5.5" height="5.5" fill="#1414c8" stroke="#000050" stroke-width="0.7"/><line x1="121" y1="459.3" x2="128.4" y2="465.5" stroke="#444" stroke-width="0.7"/><line x1="135.8" y1="459.3" x2="128.4" y2="465.5" stroke="#444" stroke-width="0.7"/><line x1="128.4" y1="465.5" x2="128.4" y2="485.5" stroke="#444" stroke-width="0.7"/><line x1="128.4" y1="481" x2="134.4" y2="481" stroke="#444" stroke-width="0.7"/><line x1="128.4" y1="437.5" x2="128.4" y2="451.3" stroke="#444" stroke-width="0.7"/><path d="M116.9,457.2 A14.16,14.16 0 0 1 139.9,457.2" fill="none" stroke="#4a4a4a" stroke-width="1.0"/><circle cx="128.4" cy="437.5" r="2.75" fill="#ecec28" stroke="#5a5a00" stroke-width="0.7"/><rect x="125.65" y="442.45" width="5.5" height="5.5" fill="#1414c8" stroke="#000050" stroke-width="0.7"/><circle cx="121" cy="459.3" r="2.85" fill="#30621a" stroke="#142a08" stroke-width="0.8"/><circle cx="135.8" cy="459.3" r="2.85" fill="#30621a" stroke="#142a08" stroke-width="0.8"/><circle cx="128.4" cy="465.5" r="2.85" fill="#30621a" stroke="#142a08" stroke-width="0.8"/><rect x="125.65" y="470.95" width="5.5" height="5.5" fill="#1414c8" stroke="#000050" stroke-width="0.7"/><rect x="125.65" y="478.25" width="5.5" height="5.5" fill="#1414c8" stroke="#000050" stroke-width="0.7"/><polygon points="133.4,481 139.7,477.7 139.7,484.3" fill="#7e4a22" stroke="#3a2008" stroke-width="0.6"/><line x1="160" y1="473.7" x2="167" y2="480.7" stroke="#444" stroke-width="0.7"/><line x1="174" y1="473.7" x2="167" y2="480.7" stroke="#444" stroke-width="0.7"/><line x1="167" y1="480.7" x2="167" y2="499.8" stroke="#444" stroke-width="0.7"/><line x1="160" y1="465.4" x2="160" y2="473.7" stroke="#444" stroke-width="0.7"/><line x1="174" y1="465.4" x2="174" y2="473.7" stroke="#444" stroke-width="0.7"/><line x1="167" y1="450.3" x2="167" y2="456.3" stroke="#444" stroke-width="0.7"/><path d="M156.4,461 A14.3,14.3 0 0 1 177.6,461" fill="none" stroke="#4a4a4a" stroke-width="1.0"/><circle cx="167" cy="450.3" r="2.75" fill="#ecec28" stroke="#5a5a00" stroke-width="0.7"/><rect x="157.25" y="462.65" width="5.5" height="5.5" fill="#1414c8" stroke="#000050" stroke-width="0.7"/><rect x="171.25" y="462.65" width="5.5" height="5.5" fill="#1414c8" stroke="#000050" stroke-width="0.7"/><circle cx="160" cy="473.7" r="2.85" fill="#30621a" stroke="#142a08" stroke-width="0.8"/><circle cx="174" cy="473.7" r="2.85" fill="#30621a" stroke="#142a08" stroke-width="0.8"/><circle cx="167" cy="480.7" r="2.85" fill="#30621a" stroke="#142a08" stroke-width="0.8"/><rect x="164.25" y="484.85" width="5.5" height="5.5" fill="#1414c8" stroke="#000050" stroke-width="0.7"/><rect x="164.25" y="492.45" width="5.5" height="5.5" fill="#1414c8" stroke="#000050" stroke-width="0.7"/><line x1="191.25" y1="456.3" x2="198.4" y2="463.4" stroke="#444" stroke-width="0.7"/><line x1="205.55" y1="456.3" x2="198.4" y2="463.4" stroke="#444" stroke-width="0.7"/><line x1="198.4" y1="463.4" x2="198.4" y2="483.2" stroke="#444" stroke-width="0.7"/><line x1="191.25" y1="448.9" x2="191.25" y2="456.3" stroke="#444" stroke-width="0.7"/><line x1="205.55" y1="448.9" x2="205.55" y2="456.3" stroke="#444" stroke-width="0.7"/><line x1="198.4" y1="463.4" x2="198.4" y2="454.9" stroke="#444" stroke-width="0.7"/><line x1="198.4" y1="478.7" x2="204.4" y2="478.7" stroke="#444" stroke-width="0.7"/><rect x="188.5" y="446.15" width="5.5" height="5.5" fill="#1414c8" stroke="#000050" stroke-width="0.7"/><rect x="202.8" y="446.15" width="5.5" height="5.5" fill="#1414c8" stroke="#000050" stroke-width="0.7"/><rect x="195.65" y="452.15" width="5.5" height="5.5" fill="#1414c8" stroke="#000050" stroke-width="0.7"/><circle cx="191.25" cy="456.3" r="2.85" fill="#30621a" stroke="#142a08" stroke-width="0.8"/><circle cx="205.55" cy="456.3" r="2.85" fill="#30621a" stroke="#142a08" stroke-width="0.8"/><circle cx="198.4" cy="463.4" r="2.85" fill="#30621a" stroke="#142a08" stroke-width="0.8"/><rect x="195.65" y="468.05" width="5.5" height="5.5" fill="#1414c8" stroke="#000050" stroke-width="0.7"/><rect x="195.65" y="475.95" width="5.5" height="5.5" fill="#1414c8" stroke="#000050" stroke-width="0.7"/><polygon points="203.4,478.7 209.7,475.4 209.7,482" fill="#7e4a22" stroke="#3a2008" stroke-width="0.6"/><line x1="256.05" y1="474.6" x2="263.2" y2="481.9" stroke="#444" stroke-width="0.7"/><line x1="270.35" y1="474.6" x2="263.2" y2="481.9" stroke="#444" stroke-width="0.7"/><line x1="263.2" y1="481.9" x2="263.2" y2="501" stroke="#444" stroke-width="0.7"/><line x1="256.05" y1="467.2" x2="256.05" y2="474.6" stroke="#444" stroke-width="0.7"/><line x1="270.35" y1="467.2" x2="270.35" y2="474.6" stroke="#444" stroke-width="0.7"/><line x1="263.2" y1="481.9" x2="263.2" y2="474" stroke="#444" stroke-width="0.7"/><line x1="263.2" y1="496.4" x2="269.2" y2="496.4" stroke="#444" stroke-width="0.7"/><line x1="263.2" y1="452.7" x2="263.2" y2="459.3" stroke="#444" stroke-width="0.7"/><path d="M251.9,463.8 A16.44,16.44 0 0 1 274.5,463.8" fill="none" stroke="#4a4a4a" stroke-width="1.0"/><circle cx="263.2" cy="452.7" r="2.75" fill="#ecec28" stroke="#5a5a00" stroke-width="0.7"/><rect x="253.3" y="464.45" width="5.5" height="5.5" fill="#1414c8" stroke="#000050" stroke-width="0.7"/><rect x="267.6" y="464.45" width="5.5" height="5.5" fill="#1414c8" stroke="#000050" stroke-width="0.7"/><rect x="260.45" y="471.25" width="5.5" height="5.5" fill="#1414c8" stroke="#000050" stroke-width="0.7"/><circle cx="256.05" cy="474.6" r="2.85" fill="#30621a" stroke="#142a08" stroke-width="0.8"/><circle cx="270.35" cy="474.6" r="2.85" fill="#30621a" stroke="#142a08" stroke-width="0.8"/><circle cx="263.2" cy="481.9" r="2.85" fill="#30621a" stroke="#142a08" stroke-width="0.8"/><rect x="260.45" y="486.25" width="5.5" height="5.5" fill="#1414c8" stroke="#000050" stroke-width="0.7"/><rect x="260.45" y="493.65" width="5.5" height="5.5" fill="#1414c8" stroke="#000050" stroke-width="0.7"/><polygon points="268.2,496.4 274.5,493.1 274.5,499.7" fill="#7e4a22" stroke="#3a2008" stroke-width="0.6"/><line x1="285.85" y1="480.7" x2="293" y2="487.2" stroke="#444" stroke-width="0.7"/><line x1="300.15" y1="480.7" x2="293" y2="487.2" stroke="#444" stroke-width="0.7"/><line x1="293" y1="487.2" x2="293" y2="507.5" stroke="#444" stroke-width="0.7"/><line x1="285.85" y1="472.1" x2="285.85" y2="480.7" stroke="#444" stroke-width="0.7"/><line x1="300.15" y1="472.1" x2="300.15" y2="480.7" stroke="#444" stroke-width="0.7"/><line x1="285.85" y1="465.4" x2="285.85" y2="472.1" stroke="#444" stroke-width="0.7"/><line x1="300.15" y1="465.4" x2="300.15" y2="472.1" stroke="#444" stroke-width="0.7"/><line x1="293" y1="487.2" x2="293" y2="479.3" stroke="#444" stroke-width="0.7"/><line x1="293" y1="502.5" x2="299" y2="502.5" stroke="#444" stroke-width="0.7"/><circle cx="285.85" cy="465.4" r="2.75" fill="#ecec28" stroke="#5a5a00" stroke-width="0.7"/><circle cx="300.15" cy="465.4" r="2.75" fill="#ecec28" stroke="#5a5a00" stroke-width="0.7"/><rect x="283.1" y="469.35" width="5.5" height="5.5" fill="#1414c8" stroke="#000050" stroke-width="0.7"/><rect x="297.4" y="469.35" width="5.5" height="5.5" fill="#1414c8" stroke="#000050" stroke-width="0.7"/><rect x="290.25" y="476.55" width="5.5" height="5.5" fill="#1414c8" stroke="#000050" stroke-width="0.7"/><circle cx="285.85" cy="480.7" r="2.85" fill="#30621a" stroke="#142a08" stroke-width="0.8"/><circle cx="300.15" cy="480.7" r="2.85" fill="#30621a" stroke="#142a08" stroke-width="0.8"/><circle cx="293" cy="487.2" r="2.85" fill="#30621a" stroke="#142a08" stroke-width="0.8"/><rect x="290.25" y="491.25" width="5.5" height="5.5" fill="#1414c8" stroke="#000050" stroke-width="0.7"/><rect x="290.25" y="499.75" width="5.5" height="5.5" fill="#1414c8" stroke="#000050" stroke-width="0.7"/><polygon points="298,502.5 304.3,499.2 304.3,505.8" fill="#7e4a22" stroke="#3a2008" stroke-width="0.6"/>
</svg></body></html>
